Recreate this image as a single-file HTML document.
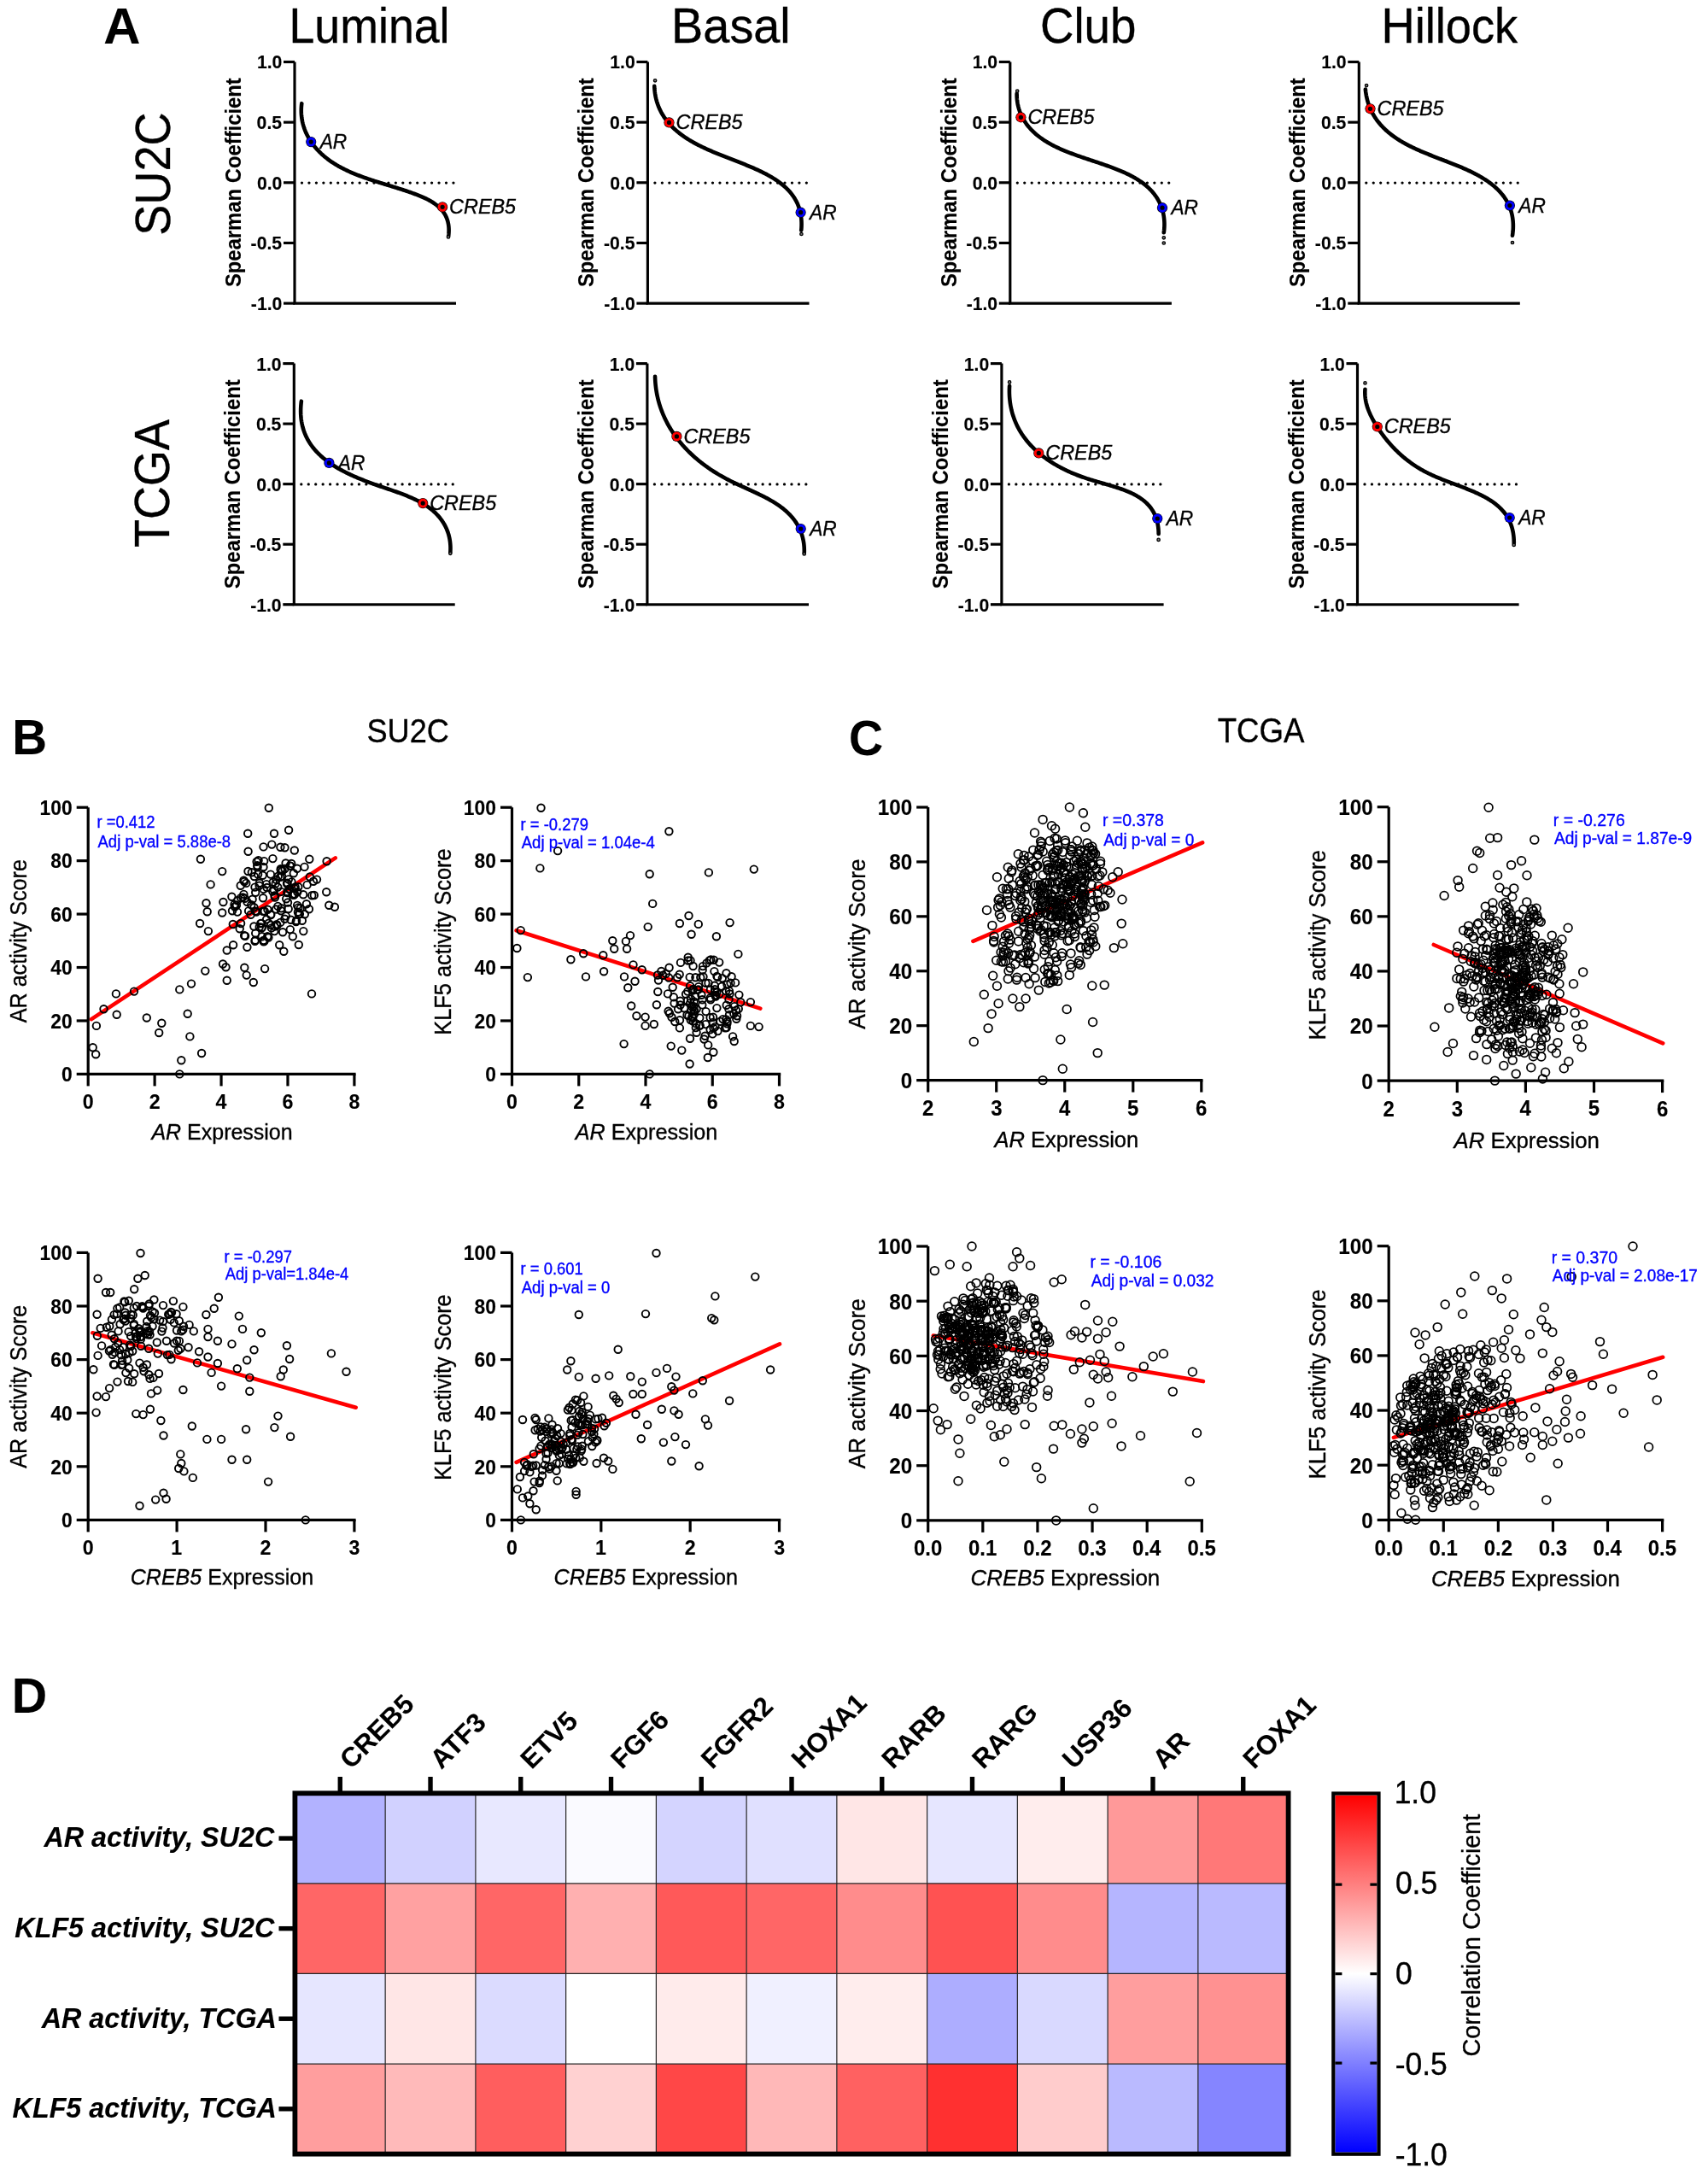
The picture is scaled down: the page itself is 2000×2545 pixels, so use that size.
<!DOCTYPE html><html><head><meta charset="utf-8"><style>html,body{margin:0;padding:0;background:#fff;}svg{display:block;font-family:"Liberation Sans",sans-serif;will-change:transform;}</style></head><body><svg width="2000" height="2545" viewBox="0 0 2000 2545"><rect width="2000" height="2545" fill="#fff"/><text transform="translate(121.30,50.60) scale(1.0185,1)" font-size="58.76" font-weight="bold" font-style="normal" fill="#000" stroke="#000" stroke-width="0.12">A</text>
<text transform="translate(338.47,49.70) scale(0.9494,1)" font-size="56.58" font-weight="normal" font-style="normal" fill="#000" stroke="#000" stroke-width="0.35">Luminal</text>
<text transform="translate(786.09,49.70) scale(0.9872,1)" font-size="56.58" font-weight="normal" font-style="normal" fill="#000" stroke="#000" stroke-width="0.35">Basal</text>
<text transform="translate(1217.96,49.70) scale(0.9669,1)" font-size="56.58" font-weight="normal" font-style="normal" fill="#000" stroke="#000" stroke-width="0.35">Club</text>
<text transform="translate(1617.52,49.70) scale(0.9588,1)" font-size="56.58" font-weight="normal" font-style="normal" fill="#000" stroke="#000" stroke-width="0.35">Hillock</text>
<text transform="translate(198.70,275.84) rotate(-90) scale(0.9315,1)" font-size="58.14" font-weight="normal" font-style="normal" fill="#000" stroke="#000" stroke-width="0.35">SU2C</text>
<text transform="translate(198.40,640.91) rotate(-90) scale(0.9397,1)" font-size="57.41" font-weight="normal" font-style="normal" fill="#000" stroke="#000" stroke-width="0.35">TCGA</text>
<path d="M345.00,72.50 V355.10 M343.30,355.10 H534.00" stroke="#000" stroke-width="3.15" fill="none"/>
<path d="M332.00,72.50 H345.00" stroke="#000" stroke-width="3.15"/>
<text transform="translate(300.88,80.49)" font-size="21.20" font-weight="bold" font-style="normal" fill="#000" stroke="#000" stroke-width="0.12">1.0</text>
<path d="M332.00,143.15 H345.00" stroke="#000" stroke-width="3.15"/>
<text transform="translate(300.62,151.14)" font-size="21.20" font-weight="bold" font-style="normal" fill="#000" stroke="#000" stroke-width="0.12">0.5</text>
<path d="M332.00,213.80 H345.00" stroke="#000" stroke-width="3.15"/>
<text transform="translate(300.88,221.79)" font-size="21.20" font-weight="bold" font-style="normal" fill="#000" stroke="#000" stroke-width="0.12">0.0</text>
<path d="M332.00,284.45 H345.00" stroke="#000" stroke-width="3.15"/>
<text transform="translate(293.57,292.44)" font-size="21.20" font-weight="bold" font-style="normal" fill="#000" stroke="#000" stroke-width="0.12">-0.5</text>
<path d="M332.00,355.10 H345.00" stroke="#000" stroke-width="3.15"/>
<text transform="translate(293.83,363.09)" font-size="21.20" font-weight="bold" font-style="normal" fill="#000" stroke="#000" stroke-width="0.12">-1.0</text>
<path d="M353.50,214.10 H532.00" stroke="#000" stroke-width="3.3" stroke-linecap="round" stroke-dasharray="0 8.45" fill="none"/>
<text transform="translate(282.00,336.12) rotate(-90) scale(0.9110,1)" font-size="26.16" font-weight="bold" font-style="normal" fill="#000" stroke="#000" stroke-width="0.12">Spearman Coefficient</text>
<path d="M353.29,121.18 L353.13,122.58 L352.99,123.98 L352.89,125.36 L352.82,126.74 L352.77,128.10 L352.76,129.46 L352.77,130.81 L352.81,132.15 L352.88,133.48 L352.98,134.79 L353.10,136.10 L353.25,137.40 L353.43,138.69 L353.63,139.98 L353.86,141.25 L354.11,142.51 L354.39,143.76 L354.69,145.00 L355.02,146.23 L355.37,147.45 L355.75,148.66 L356.14,149.86 L356.56,151.05 L357.01,152.22 L357.47,153.39 L357.96,154.55 L358.47,155.70 L359.00,156.83 L359.55,157.96 L360.12,159.07 L360.71,160.17 L361.32,161.27 L361.94,162.35 L362.59,163.42 L363.26,164.48 L363.94,165.52 L364.64,166.56 L365.36,167.58 L366.10,168.60 L366.85,169.60 L367.62,170.59 L368.41,171.57 L369.21,172.53 L370.03,173.49 L370.86,174.43 L371.70,175.36 L372.57,176.28 L373.44,177.18 L374.33,178.08 L375.23,178.96 L376.14,179.83 L377.07,180.68 L378.01,181.53 L378.96,182.36 L379.92,183.18 L380.89,183.99 L381.87,184.78 L382.87,185.56 L383.87,186.33 L384.88,187.09 L385.90,187.83 L386.94,188.56 L387.98,189.28 L389.03,189.99 L390.09,190.69 L391.16,191.37 L392.24,192.05 L393.33,192.71 L394.42,193.37 L395.52,194.01 L396.63,194.64 L397.75,195.27 L398.88,195.88 L400.01,196.49 L401.15,197.08 L402.30,197.67 L403.46,198.24 L404.62,198.81 L405.79,199.37 L406.96,199.92 L408.15,200.47 L409.33,201.00 L410.53,201.53 L411.72,202.05 L412.93,202.57 L414.14,203.08 L415.35,203.58 L416.57,204.07 L417.80,204.56 L419.03,205.04 L420.26,205.51 L421.50,205.98 L422.74,206.45 L423.99,206.90 L425.24,207.36 L426.49,207.81 L427.75,208.25 L429.01,208.69 L430.27,209.13 L431.54,209.56 L432.81,209.98 L434.08,210.41 L435.35,210.83 L436.63,211.25 L437.90,211.66 L439.18,212.07 L440.46,212.48 L441.75,212.89 L443.03,213.29 L444.31,213.69 L445.60,214.09 L446.89,214.49 L448.17,214.89 L449.46,215.29 L450.75,215.68 L452.04,216.08 L453.32,216.47 L454.61,216.86 L455.90,217.26 L457.18,217.65 L458.47,218.05 L459.75,218.44 L461.03,218.84 L462.32,219.23 L463.60,219.63 L464.87,220.03 L466.15,220.43 L467.42,220.83 L468.70,221.24 L469.97,221.64 L471.23,222.05 L472.50,222.46 L473.76,222.88 L475.02,223.30 L476.27,223.72 L477.52,224.14 L478.77,224.57 L480.01,225.00 L481.25,225.44 L482.49,225.88 L483.72,226.32 L484.94,226.77 L486.16,227.22 L487.38,227.68 L488.59,228.15 L489.79,228.62 L490.99,229.10 L492.18,229.58 L493.36,230.08 L494.53,230.58 L495.69,231.09 L496.83,231.61 L497.97,232.14 L499.10,232.68 L500.21,233.23 L501.31,233.80 L502.39,234.37 L503.46,234.96 L504.51,235.57 L505.54,236.18 L506.56,236.81 L507.56,237.46 L508.54,238.12 L509.50,238.79 L510.44,239.48 L511.36,240.19 L512.26,240.92 L513.13,241.66 L513.98,242.43 L514.81,243.21 L515.61,244.01 L516.39,244.83 L517.14,245.68 L517.87,246.54 L518.57,247.42 L519.23,248.33 L519.87,249.26 L520.48,250.21 L521.06,251.19 L521.61,252.19 L522.13,253.22 L522.61,254.27 L523.06,255.35 L523.48,256.45 L523.86,257.59 L524.21,258.74 L524.52,259.93 L524.79,261.15 L525.02,262.39 L525.22,263.66 L525.38,264.97 L525.50,266.30 L525.57,267.67 L525.61,269.07 L525.60,270.49 L525.55,271.96 L525.46,273.45 L525.32,274.98 L525.14,276.54" stroke="#000" stroke-width="4.6" fill="none" stroke-linecap="round"/>
<circle cx="364.20" cy="166.10" r="6.1" fill="#000"/><circle cx="364.20" cy="166.10" r="4.05" fill="none" stroke="#0000ff" stroke-width="2.9"/>
<circle cx="518.10" cy="242.30" r="6.1" fill="#000"/><circle cx="518.10" cy="242.30" r="4.05" fill="none" stroke="#ff0000" stroke-width="2.9"/>
<circle cx="525.00" cy="277.40" r="1.7" fill="#777" stroke="#000" stroke-width="1.3"/>
<text transform="translate(374.63,174.00) scale(0.9521,1)" font-size="23.84" font-weight="normal" font-style="italic" fill="#000" stroke="#000" stroke-width="0.35">AR</text>
<text transform="translate(526.11,250.20) scale(0.9823,1)" font-size="23.84" font-weight="normal" font-style="italic" fill="#000" stroke="#000" stroke-width="0.35">CREB5</text>
<path d="M758.40,72.50 V355.10 M756.70,355.10 H947.50" stroke="#000" stroke-width="3.15" fill="none"/>
<path d="M745.40,72.50 H758.40" stroke="#000" stroke-width="3.15"/>
<text transform="translate(714.28,80.49)" font-size="21.20" font-weight="bold" font-style="normal" fill="#000" stroke="#000" stroke-width="0.12">1.0</text>
<path d="M745.40,143.15 H758.40" stroke="#000" stroke-width="3.15"/>
<text transform="translate(714.01,151.14)" font-size="21.20" font-weight="bold" font-style="normal" fill="#000" stroke="#000" stroke-width="0.12">0.5</text>
<path d="M745.40,213.80 H758.40" stroke="#000" stroke-width="3.15"/>
<text transform="translate(714.28,221.79)" font-size="21.20" font-weight="bold" font-style="normal" fill="#000" stroke="#000" stroke-width="0.12">0.0</text>
<path d="M745.40,284.45 H758.40" stroke="#000" stroke-width="3.15"/>
<text transform="translate(706.97,292.44)" font-size="21.20" font-weight="bold" font-style="normal" fill="#000" stroke="#000" stroke-width="0.12">-0.5</text>
<path d="M745.40,355.10 H758.40" stroke="#000" stroke-width="3.15"/>
<text transform="translate(707.23,363.09)" font-size="21.20" font-weight="bold" font-style="normal" fill="#000" stroke="#000" stroke-width="0.12">-1.0</text>
<path d="M766.90,214.10 H945.50" stroke="#000" stroke-width="3.3" stroke-linecap="round" stroke-dasharray="0 8.45" fill="none"/>
<text transform="translate(695.40,336.12) rotate(-90) scale(0.9110,1)" font-size="26.16" font-weight="bold" font-style="normal" fill="#000" stroke="#000" stroke-width="0.12">Spearman Coefficient</text>
<path d="M766.25,100.87 L766.32,102.33 L766.40,103.77 L766.52,105.20 L766.66,106.61 L766.82,108.00 L767.01,109.38 L767.23,110.74 L767.47,112.08 L767.73,113.41 L768.02,114.73 L768.32,116.03 L768.66,117.31 L769.01,118.58 L769.39,119.83 L769.79,121.07 L770.21,122.29 L770.66,123.50 L771.12,124.69 L771.61,125.87 L772.11,127.04 L772.64,128.19 L773.19,129.32 L773.76,130.44 L774.34,131.55 L774.95,132.65 L775.57,133.73 L776.22,134.79 L776.88,135.85 L777.56,136.89 L778.26,137.92 L778.97,138.93 L779.70,139.93 L780.45,140.92 L781.22,141.89 L782.00,142.86 L782.80,143.81 L783.61,144.74 L784.44,145.67 L785.28,146.58 L786.14,147.48 L787.01,148.37 L787.90,149.25 L788.80,150.12 L789.71,150.97 L790.64,151.82 L791.58,152.65 L792.53,153.47 L793.50,154.28 L794.48,155.08 L795.47,155.86 L796.47,156.64 L797.48,157.41 L798.50,158.16 L799.54,158.91 L800.58,159.65 L801.64,160.37 L802.70,161.09 L803.77,161.79 L804.86,162.49 L805.95,163.18 L807.05,163.86 L808.16,164.53 L809.28,165.19 L810.41,165.84 L811.54,166.49 L812.68,167.13 L813.83,167.76 L814.99,168.38 L816.16,168.99 L817.33,169.60 L818.51,170.20 L819.70,170.80 L820.89,171.39 L822.09,171.97 L823.29,172.55 L824.50,173.12 L825.72,173.68 L826.94,174.24 L828.17,174.80 L829.40,175.35 L830.64,175.90 L831.88,176.44 L833.12,176.98 L834.37,177.51 L835.63,178.04 L836.88,178.57 L838.14,179.09 L839.41,179.61 L840.67,180.13 L841.94,180.64 L843.21,181.15 L844.49,181.66 L845.76,182.17 L847.04,182.67 L848.32,183.18 L849.60,183.68 L850.89,184.18 L852.17,184.68 L853.45,185.18 L854.74,185.68 L856.03,186.18 L857.31,186.68 L858.60,187.18 L859.88,187.68 L861.17,188.18 L862.45,188.68 L863.74,189.18 L865.02,189.69 L866.30,190.19 L867.58,190.70 L868.86,191.21 L870.13,191.72 L871.41,192.23 L872.68,192.74 L873.95,193.26 L875.21,193.78 L876.48,194.31 L877.74,194.83 L878.99,195.36 L880.24,195.90 L881.49,196.44 L882.74,196.98 L883.98,197.53 L885.21,198.08 L886.44,198.64 L887.67,199.20 L888.88,199.77 L890.10,200.34 L891.30,200.92 L892.50,201.50 L893.69,202.09 L894.87,202.69 L896.05,203.30 L897.22,203.91 L898.38,204.53 L899.52,205.15 L900.66,205.79 L901.79,206.43 L902.91,207.08 L904.02,207.74 L905.12,208.40 L906.21,209.08 L907.28,209.76 L908.35,210.46 L909.40,211.16 L910.44,211.87 L911.46,212.60 L912.48,213.33 L913.48,214.07 L914.46,214.83 L915.43,215.59 L916.39,216.37 L917.33,217.16 L918.25,217.96 L919.16,218.77 L920.05,219.59 L920.93,220.43 L921.79,221.28 L922.63,222.14 L923.46,223.01 L924.27,223.90 L925.06,224.80 L925.83,225.71 L926.58,226.64 L927.31,227.58 L928.02,228.54 L928.72,229.51 L929.39,230.50 L930.04,231.50 L930.67,232.52 L931.28,233.55 L931.87,234.59 L932.43,235.66 L932.98,236.74 L933.50,237.83 L933.99,238.95 L934.47,240.08 L934.92,241.22 L935.34,242.39 L935.74,243.57 L936.12,244.77 L936.47,245.99 L936.79,247.22 L937.09,248.47 L937.36,249.75 L937.61,251.04 L937.83,252.35 L938.02,253.68 L938.19,255.03 L938.32,256.40 L938.43,257.79 L938.51,259.20 L938.56,260.63 L938.58,262.08 L938.57,263.56 L938.53,265.05 L938.46,266.57 L938.35,268.10 L938.22,269.66" stroke="#000" stroke-width="4.6" fill="none" stroke-linecap="round"/>
<circle cx="783.50" cy="143.40" r="6.1" fill="#000"/><circle cx="783.50" cy="143.40" r="4.05" fill="none" stroke="#ff0000" stroke-width="2.9"/>
<circle cx="937.60" cy="248.70" r="6.1" fill="#000"/><circle cx="937.60" cy="248.70" r="4.05" fill="none" stroke="#0000ff" stroke-width="2.9"/>
<circle cx="767.10" cy="94.30" r="1.7" fill="#777" stroke="#000" stroke-width="1.3"/>
<circle cx="938.40" cy="274.00" r="1.7" fill="#777" stroke="#000" stroke-width="1.3"/>
<text transform="translate(791.51,151.30) scale(0.9823,1)" font-size="23.84" font-weight="normal" font-style="italic" fill="#000" stroke="#000" stroke-width="0.35">CREB5</text>
<text transform="translate(948.03,256.60) scale(0.9521,1)" font-size="23.84" font-weight="normal" font-style="italic" fill="#000" stroke="#000" stroke-width="0.35">AR</text>
<path d="M1182.80,72.50 V355.10 M1181.10,355.10 H1371.90" stroke="#000" stroke-width="3.15" fill="none"/>
<path d="M1169.80,72.50 H1182.80" stroke="#000" stroke-width="3.15"/>
<text transform="translate(1138.68,80.49)" font-size="21.20" font-weight="bold" font-style="normal" fill="#000" stroke="#000" stroke-width="0.12">1.0</text>
<path d="M1169.80,143.15 H1182.80" stroke="#000" stroke-width="3.15"/>
<text transform="translate(1138.41,151.14)" font-size="21.20" font-weight="bold" font-style="normal" fill="#000" stroke="#000" stroke-width="0.12">0.5</text>
<path d="M1169.80,213.80 H1182.80" stroke="#000" stroke-width="3.15"/>
<text transform="translate(1138.68,221.79)" font-size="21.20" font-weight="bold" font-style="normal" fill="#000" stroke="#000" stroke-width="0.12">0.0</text>
<path d="M1169.80,284.45 H1182.80" stroke="#000" stroke-width="3.15"/>
<text transform="translate(1131.37,292.44)" font-size="21.20" font-weight="bold" font-style="normal" fill="#000" stroke="#000" stroke-width="0.12">-0.5</text>
<path d="M1169.80,355.10 H1182.80" stroke="#000" stroke-width="3.15"/>
<text transform="translate(1131.63,363.09)" font-size="21.20" font-weight="bold" font-style="normal" fill="#000" stroke="#000" stroke-width="0.12">-1.0</text>
<path d="M1191.30,214.10 H1369.90" stroke="#000" stroke-width="3.3" stroke-linecap="round" stroke-dasharray="0 8.45" fill="none"/>
<text transform="translate(1119.80,336.12) rotate(-90) scale(0.9110,1)" font-size="26.16" font-weight="bold" font-style="normal" fill="#000" stroke="#000" stroke-width="0.12">Spearman Coefficient</text>
<path d="M1190.65,109.67 L1190.64,111.13 L1190.67,112.57 L1190.74,114.00 L1190.83,115.41 L1190.96,116.81 L1191.12,118.18 L1191.31,119.54 L1191.52,120.88 L1191.77,122.21 L1192.05,123.52 L1192.35,124.81 L1192.69,126.09 L1193.05,127.35 L1193.44,128.59 L1193.85,129.81 L1194.29,131.02 L1194.75,132.22 L1195.24,133.39 L1195.75,134.55 L1196.29,135.70 L1196.85,136.83 L1197.43,137.94 L1198.03,139.04 L1198.66,140.12 L1199.30,141.18 L1199.97,142.23 L1200.65,143.26 L1201.35,144.28 L1202.08,145.28 L1202.82,146.27 L1203.57,147.24 L1204.35,148.20 L1205.14,149.14 L1205.94,150.06 L1206.77,150.97 L1207.60,151.87 L1208.45,152.75 L1209.32,153.61 L1210.20,154.46 L1211.09,155.30 L1212.00,156.12 L1212.92,156.93 L1213.85,157.73 L1214.80,158.51 L1215.75,159.28 L1216.73,160.04 L1217.71,160.78 L1218.71,161.52 L1219.71,162.24 L1220.73,162.95 L1221.76,163.64 L1222.80,164.33 L1223.86,165.01 L1224.92,165.67 L1225.99,166.33 L1227.08,166.97 L1228.17,167.60 L1229.27,168.23 L1230.39,168.84 L1231.51,169.45 L1232.64,170.05 L1233.78,170.63 L1234.93,171.21 L1236.09,171.79 L1237.25,172.35 L1238.42,172.90 L1239.60,173.45 L1240.79,173.99 L1241.99,174.53 L1243.19,175.05 L1244.40,175.57 L1245.62,176.09 L1246.84,176.59 L1248.07,177.09 L1249.30,177.59 L1250.54,178.08 L1251.79,178.57 L1253.04,179.05 L1254.29,179.52 L1255.55,180.00 L1256.82,180.46 L1258.08,180.93 L1259.36,181.39 L1260.63,181.84 L1261.91,182.30 L1263.20,182.75 L1264.48,183.19 L1265.77,183.64 L1267.07,184.08 L1268.36,184.52 L1269.66,184.96 L1270.96,185.40 L1272.26,185.84 L1273.56,186.27 L1274.86,186.71 L1276.17,187.14 L1277.47,187.57 L1278.78,188.01 L1280.09,188.44 L1281.39,188.87 L1282.70,189.31 L1284.01,189.75 L1285.31,190.18 L1286.62,190.62 L1287.92,191.06 L1289.22,191.50 L1290.53,191.95 L1291.82,192.39 L1293.12,192.84 L1294.42,193.30 L1295.71,193.75 L1297.00,194.21 L1298.29,194.67 L1299.57,195.14 L1300.85,195.61 L1302.13,196.08 L1303.40,196.56 L1304.67,197.04 L1305.93,197.53 L1307.18,198.02 L1308.43,198.52 L1309.68,199.03 L1310.92,199.54 L1312.15,200.06 L1313.38,200.58 L1314.59,201.11 L1315.80,201.65 L1317.01,202.19 L1318.20,202.74 L1319.39,203.30 L1320.57,203.87 L1321.74,204.44 L1322.90,205.03 L1324.05,205.62 L1325.19,206.22 L1326.31,206.83 L1327.43,207.45 L1328.54,208.08 L1329.64,208.72 L1330.73,209.36 L1331.80,210.02 L1332.86,210.69 L1333.91,211.37 L1334.95,212.06 L1335.97,212.76 L1336.98,213.48 L1337.98,214.20 L1338.96,214.94 L1339.93,215.69 L1340.89,216.45 L1341.83,217.22 L1342.75,218.01 L1343.66,218.81 L1344.55,219.62 L1345.43,220.45 L1346.29,221.29 L1347.14,222.15 L1347.96,223.02 L1348.77,223.90 L1349.57,224.80 L1350.34,225.71 L1351.10,226.64 L1351.84,227.58 L1352.55,228.54 L1353.25,229.52 L1353.94,230.51 L1354.60,231.52 L1355.24,232.54 L1355.86,233.58 L1356.45,234.64 L1357.03,235.71 L1357.59,236.80 L1358.12,237.90 L1358.63,239.02 L1359.12,240.16 L1359.58,241.31 L1360.02,242.48 L1360.43,243.67 L1360.82,244.87 L1361.19,246.09 L1361.53,247.32 L1361.84,248.57 L1362.13,249.83 L1362.39,251.11 L1362.62,252.41 L1362.83,253.72 L1363.00,255.05 L1363.15,256.40 L1363.27,257.76 L1363.36,259.14 L1363.43,260.53 L1363.46,261.94 L1363.46,263.37 L1363.43,264.81 L1363.37,266.26 L1363.27,267.74 L1363.15,269.23 L1362.99,270.73 L1362.80,272.25" stroke="#000" stroke-width="4.6" fill="none" stroke-linecap="round"/>
<circle cx="1195.40" cy="137.30" r="6.1" fill="#000"/><circle cx="1195.40" cy="137.30" r="4.05" fill="none" stroke="#ff0000" stroke-width="2.9"/>
<circle cx="1361.00" cy="243.20" r="6.1" fill="#000"/><circle cx="1361.00" cy="243.20" r="4.05" fill="none" stroke="#0000ff" stroke-width="2.9"/>
<circle cx="1191.20" cy="106.60" r="1.7" fill="#777" stroke="#000" stroke-width="1.3"/>
<circle cx="1362.80" cy="278.30" r="1.7" fill="#777" stroke="#000" stroke-width="1.3"/>
<circle cx="1362.80" cy="284.50" r="1.7" fill="#777" stroke="#000" stroke-width="1.3"/>
<text transform="translate(1203.41,145.20) scale(0.9823,1)" font-size="23.84" font-weight="normal" font-style="italic" fill="#000" stroke="#000" stroke-width="0.35">CREB5</text>
<text transform="translate(1371.43,251.10) scale(0.9521,1)" font-size="23.84" font-weight="normal" font-style="italic" fill="#000" stroke="#000" stroke-width="0.35">AR</text>
<path d="M1591.30,72.50 V355.10 M1589.60,355.10 H1779.80" stroke="#000" stroke-width="3.15" fill="none"/>
<path d="M1578.30,72.50 H1591.30" stroke="#000" stroke-width="3.15"/>
<text transform="translate(1547.18,80.49)" font-size="21.20" font-weight="bold" font-style="normal" fill="#000" stroke="#000" stroke-width="0.12">1.0</text>
<path d="M1578.30,143.15 H1591.30" stroke="#000" stroke-width="3.15"/>
<text transform="translate(1546.91,151.14)" font-size="21.20" font-weight="bold" font-style="normal" fill="#000" stroke="#000" stroke-width="0.12">0.5</text>
<path d="M1578.30,213.80 H1591.30" stroke="#000" stroke-width="3.15"/>
<text transform="translate(1547.18,221.79)" font-size="21.20" font-weight="bold" font-style="normal" fill="#000" stroke="#000" stroke-width="0.12">0.0</text>
<path d="M1578.30,284.45 H1591.30" stroke="#000" stroke-width="3.15"/>
<text transform="translate(1539.87,292.44)" font-size="21.20" font-weight="bold" font-style="normal" fill="#000" stroke="#000" stroke-width="0.12">-0.5</text>
<path d="M1578.30,355.10 H1591.30" stroke="#000" stroke-width="3.15"/>
<text transform="translate(1540.13,363.09)" font-size="21.20" font-weight="bold" font-style="normal" fill="#000" stroke="#000" stroke-width="0.12">-1.0</text>
<path d="M1599.80,214.10 H1777.80" stroke="#000" stroke-width="3.3" stroke-linecap="round" stroke-dasharray="0 8.45" fill="none"/>
<text transform="translate(1528.30,336.12) rotate(-90) scale(0.9110,1)" font-size="26.16" font-weight="bold" font-style="normal" fill="#000" stroke="#000" stroke-width="0.12">Spearman Coefficient</text>
<path d="M1598.86,104.46 L1599.01,105.92 L1599.18,107.37 L1599.38,108.79 L1599.60,110.21 L1599.84,111.60 L1600.11,112.98 L1600.40,114.34 L1600.71,115.68 L1601.05,117.01 L1601.41,118.32 L1601.79,119.61 L1602.19,120.89 L1602.61,122.16 L1603.05,123.40 L1603.52,124.63 L1604.00,125.85 L1604.51,127.05 L1605.03,128.23 L1605.58,129.40 L1606.14,130.56 L1606.73,131.70 L1607.33,132.82 L1607.95,133.93 L1608.59,135.03 L1609.25,136.11 L1609.93,137.17 L1610.62,138.23 L1611.33,139.27 L1612.06,140.29 L1612.81,141.30 L1613.57,142.30 L1614.35,143.29 L1615.14,144.26 L1615.95,145.22 L1616.78,146.17 L1617.62,147.10 L1618.47,148.02 L1619.34,148.93 L1620.23,149.82 L1621.13,150.71 L1622.04,151.58 L1622.97,152.44 L1623.91,153.29 L1624.86,154.12 L1625.83,154.95 L1626.81,155.76 L1627.80,156.56 L1628.81,157.35 L1629.82,158.13 L1630.85,158.90 L1631.89,159.66 L1632.94,160.41 L1634.00,161.15 L1635.07,161.87 L1636.15,162.59 L1637.24,163.30 L1638.34,164.00 L1639.45,164.68 L1640.57,165.36 L1641.70,166.03 L1642.83,166.69 L1643.98,167.34 L1645.13,167.99 L1646.30,168.62 L1647.47,169.25 L1648.64,169.87 L1649.83,170.48 L1651.02,171.08 L1652.22,171.68 L1653.42,172.27 L1654.64,172.85 L1655.85,173.43 L1657.08,174.00 L1658.31,174.57 L1659.54,175.13 L1660.78,175.68 L1662.03,176.23 L1663.28,176.78 L1664.53,177.32 L1665.79,177.86 L1667.05,178.39 L1668.32,178.92 L1669.59,179.44 L1670.86,179.96 L1672.14,180.48 L1673.42,180.99 L1674.70,181.50 L1675.98,182.01 L1677.27,182.52 L1678.56,183.02 L1679.85,183.53 L1681.14,184.03 L1682.43,184.53 L1683.72,185.03 L1685.02,185.53 L1686.31,186.03 L1687.61,186.52 L1688.90,187.02 L1690.20,187.52 L1691.49,188.02 L1692.79,188.52 L1694.08,189.01 L1695.37,189.52 L1696.66,190.02 L1697.95,190.52 L1699.23,191.03 L1700.52,191.53 L1701.80,192.04 L1703.08,192.56 L1704.36,193.07 L1705.63,193.59 L1706.90,194.11 L1708.17,194.63 L1709.43,195.16 L1710.69,195.70 L1711.94,196.23 L1713.19,196.77 L1714.44,197.32 L1715.68,197.87 L1716.92,198.42 L1718.15,198.99 L1719.37,199.55 L1720.59,200.13 L1721.80,200.70 L1723.01,201.29 L1724.21,201.88 L1725.40,202.48 L1726.58,203.09 L1727.76,203.70 L1728.93,204.32 L1730.10,204.95 L1731.25,205.58 L1732.40,206.23 L1733.53,206.88 L1734.66,207.54 L1735.78,208.21 L1736.89,208.89 L1737.98,209.58 L1739.07,210.27 L1740.15,210.98 L1741.21,211.70 L1742.26,212.42 L1743.30,213.16 L1744.33,213.90 L1745.35,214.66 L1746.35,215.43 L1747.34,216.20 L1748.31,216.99 L1749.27,217.79 L1750.22,218.60 L1751.15,219.42 L1752.06,220.25 L1752.96,221.10 L1753.84,221.95 L1754.71,222.82 L1755.56,223.70 L1756.39,224.60 L1757.20,225.50 L1758.00,226.42 L1758.78,227.35 L1759.54,228.30 L1760.28,229.26 L1761.00,230.23 L1761.70,231.21 L1762.38,232.21 L1763.04,233.23 L1763.68,234.26 L1764.30,235.30 L1764.90,236.36 L1765.47,237.43 L1766.03,238.51 L1766.56,239.62 L1767.06,240.73 L1767.55,241.87 L1768.01,243.02 L1768.44,244.18 L1768.86,245.36 L1769.24,246.56 L1769.60,247.77 L1769.94,249.00 L1770.25,250.25 L1770.54,251.51 L1770.79,252.79 L1771.02,254.09 L1771.23,255.41 L1771.40,256.74 L1771.55,258.09 L1771.67,259.46 L1771.76,260.85 L1771.82,262.25 L1771.85,263.68 L1771.85,265.12 L1771.83,266.58 L1771.77,268.07 L1771.68,269.57 L1771.56,271.09 L1771.40,272.63 L1771.22,274.19 L1771.00,275.77" stroke="#000" stroke-width="4.6" fill="none" stroke-linecap="round"/>
<circle cx="1604.50" cy="127.30" r="6.1" fill="#000"/><circle cx="1604.50" cy="127.30" r="4.05" fill="none" stroke="#ff0000" stroke-width="2.9"/>
<circle cx="1767.90" cy="240.60" r="6.1" fill="#000"/><circle cx="1767.90" cy="240.60" r="4.05" fill="none" stroke="#0000ff" stroke-width="2.9"/>
<circle cx="1600.10" cy="100.10" r="1.7" fill="#777" stroke="#000" stroke-width="1.3"/>
<circle cx="1771.00" cy="284.00" r="1.7" fill="#777" stroke="#000" stroke-width="1.3"/>
<text transform="translate(1612.51,135.20) scale(0.9823,1)" font-size="23.84" font-weight="normal" font-style="italic" fill="#000" stroke="#000" stroke-width="0.35">CREB5</text>
<text transform="translate(1778.33,248.50) scale(0.9521,1)" font-size="23.84" font-weight="normal" font-style="italic" fill="#000" stroke="#000" stroke-width="0.35">AR</text>
<path d="M344.30,425.60 V707.70 M342.60,707.70 H532.70" stroke="#000" stroke-width="3.15" fill="none"/>
<path d="M331.30,425.60 H344.30" stroke="#000" stroke-width="3.15"/>
<text transform="translate(300.18,433.59)" font-size="21.20" font-weight="bold" font-style="normal" fill="#000" stroke="#000" stroke-width="0.12">1.0</text>
<path d="M331.30,496.12 H344.30" stroke="#000" stroke-width="3.15"/>
<text transform="translate(299.92,504.12)" font-size="21.20" font-weight="bold" font-style="normal" fill="#000" stroke="#000" stroke-width="0.12">0.5</text>
<path d="M331.30,566.65 H344.30" stroke="#000" stroke-width="3.15"/>
<text transform="translate(300.18,574.64)" font-size="21.20" font-weight="bold" font-style="normal" fill="#000" stroke="#000" stroke-width="0.12">0.0</text>
<path d="M331.30,637.18 H344.30" stroke="#000" stroke-width="3.15"/>
<text transform="translate(292.87,645.17)" font-size="21.20" font-weight="bold" font-style="normal" fill="#000" stroke="#000" stroke-width="0.12">-0.5</text>
<path d="M331.30,707.70 H344.30" stroke="#000" stroke-width="3.15"/>
<text transform="translate(293.13,715.69)" font-size="21.20" font-weight="bold" font-style="normal" fill="#000" stroke="#000" stroke-width="0.12">-1.0</text>
<path d="M352.80,566.95 H530.70" stroke="#000" stroke-width="3.3" stroke-linecap="round" stroke-dasharray="0 8.45" fill="none"/>
<text transform="translate(281.30,689.22) rotate(-90) scale(0.9110,1)" font-size="26.16" font-weight="bold" font-style="normal" fill="#000" stroke="#000" stroke-width="0.12">Spearman Coefficient</text>
<path d="M352.88,469.66 L352.68,471.29 L352.52,472.90 L352.38,474.49 L352.28,476.06 L352.20,477.62 L352.15,479.16 L352.12,480.68 L352.13,482.19 L352.16,483.67 L352.21,485.14 L352.30,486.60 L352.41,488.03 L352.55,489.45 L352.71,490.86 L352.90,492.24 L353.11,493.61 L353.35,494.97 L353.61,496.31 L353.90,497.63 L354.21,498.94 L354.54,500.23 L354.90,501.50 L355.29,502.77 L355.69,504.01 L356.12,505.24 L356.57,506.46 L357.04,507.66 L357.54,508.85 L358.05,510.02 L358.59,511.18 L359.15,512.32 L359.73,513.45 L360.33,514.57 L360.95,515.67 L361.59,516.76 L362.26,517.84 L362.94,518.90 L363.64,519.95 L364.35,520.99 L365.09,522.01 L365.85,523.02 L366.62,524.02 L367.41,525.00 L368.22,525.98 L369.05,526.94 L369.89,527.89 L370.75,528.82 L371.63,529.75 L372.53,530.66 L373.43,531.56 L374.36,532.46 L375.30,533.34 L376.26,534.20 L377.23,535.06 L378.21,535.91 L379.21,536.74 L380.23,537.57 L381.26,538.39 L382.30,539.19 L383.35,539.98 L384.42,540.77 L385.50,541.54 L386.59,542.31 L387.70,543.07 L388.82,543.81 L389.94,544.55 L391.08,545.28 L392.24,546.00 L393.40,546.71 L394.57,547.41 L395.75,548.10 L396.95,548.79 L398.15,549.46 L399.36,550.13 L400.58,550.79 L401.82,551.44 L403.05,552.09 L404.30,552.72 L405.56,553.35 L406.82,553.97 L408.09,554.59 L409.37,555.20 L410.66,555.80 L411.95,556.39 L413.25,556.98 L414.55,557.56 L415.86,558.13 L417.18,558.70 L418.50,559.26 L419.83,559.82 L421.16,560.37 L422.50,560.92 L423.84,561.45 L425.19,561.99 L426.54,562.52 L427.89,563.04 L429.24,563.56 L430.60,564.07 L431.97,564.58 L433.33,565.09 L434.70,565.59 L436.06,566.08 L437.43,566.57 L438.80,567.06 L440.18,567.54 L441.55,568.02 L442.92,568.50 L444.30,568.98 L445.67,569.45 L447.04,569.92 L448.42,570.38 L449.79,570.85 L451.16,571.32 L452.52,571.78 L453.89,572.25 L455.25,572.71 L456.61,573.18 L457.97,573.64 L459.33,574.11 L460.68,574.58 L462.02,575.05 L463.37,575.52 L464.71,576.00 L466.04,576.48 L467.37,576.96 L468.69,577.45 L470.01,577.94 L471.32,578.44 L472.62,578.94 L473.92,579.44 L475.21,579.95 L476.49,580.47 L477.77,581.00 L479.04,581.53 L480.30,582.07 L481.55,582.61 L482.79,583.17 L484.02,583.73 L485.24,584.30 L486.46,584.88 L487.66,585.47 L488.85,586.07 L490.03,586.67 L491.20,587.29 L492.36,587.93 L493.51,588.57 L494.65,589.22 L495.77,589.89 L496.88,590.56 L497.98,591.25 L499.06,591.96 L500.13,592.68 L501.18,593.41 L502.23,594.15 L503.25,594.91 L504.27,595.69 L505.26,596.48 L506.24,597.29 L507.21,598.11 L508.16,598.95 L509.09,599.80 L510.01,600.67 L510.91,601.57 L511.79,602.47 L512.65,603.40 L513.50,604.35 L514.33,605.31 L515.13,606.29 L515.92,607.30 L516.69,608.32 L517.44,609.36 L518.16,610.41 L518.86,611.49 L519.54,612.59 L520.20,613.71 L520.83,614.84 L521.44,616.00 L522.02,617.17 L522.57,618.37 L523.10,619.58 L523.61,620.82 L524.08,622.07 L524.53,623.35 L524.94,624.64 L525.33,625.96 L525.69,627.29 L526.02,628.65 L526.31,630.03 L526.58,631.42 L526.81,632.84 L527.01,634.28 L527.17,635.74 L527.30,637.22 L527.40,638.72 L527.46,640.25 L527.49,641.79 L527.47,643.35 L527.42,644.94 L527.34,646.55" stroke="#000" stroke-width="4.6" fill="none" stroke-linecap="round"/>
<circle cx="385.40" cy="541.90" r="6.1" fill="#000"/><circle cx="385.40" cy="541.90" r="4.05" fill="none" stroke="#0000ff" stroke-width="2.9"/>
<circle cx="495.20" cy="589.10" r="6.1" fill="#000"/><circle cx="495.20" cy="589.10" r="4.05" fill="none" stroke="#ff0000" stroke-width="2.9"/>
<circle cx="527.30" cy="647.80" r="1.7" fill="#777" stroke="#000" stroke-width="1.3"/>
<text transform="translate(395.83,549.80) scale(0.9521,1)" font-size="23.84" font-weight="normal" font-style="italic" fill="#000" stroke="#000" stroke-width="0.35">AR</text>
<text transform="translate(503.21,597.00) scale(0.9823,1)" font-size="23.84" font-weight="normal" font-style="italic" fill="#000" stroke="#000" stroke-width="0.35">CREB5</text>
<path d="M757.90,425.60 V707.70 M756.20,707.70 H947.00" stroke="#000" stroke-width="3.15" fill="none"/>
<path d="M744.90,425.60 H757.90" stroke="#000" stroke-width="3.15"/>
<text transform="translate(713.78,433.59)" font-size="21.20" font-weight="bold" font-style="normal" fill="#000" stroke="#000" stroke-width="0.12">1.0</text>
<path d="M744.90,496.12 H757.90" stroke="#000" stroke-width="3.15"/>
<text transform="translate(713.51,504.12)" font-size="21.20" font-weight="bold" font-style="normal" fill="#000" stroke="#000" stroke-width="0.12">0.5</text>
<path d="M744.90,566.65 H757.90" stroke="#000" stroke-width="3.15"/>
<text transform="translate(713.78,574.64)" font-size="21.20" font-weight="bold" font-style="normal" fill="#000" stroke="#000" stroke-width="0.12">0.0</text>
<path d="M744.90,637.18 H757.90" stroke="#000" stroke-width="3.15"/>
<text transform="translate(706.47,645.17)" font-size="21.20" font-weight="bold" font-style="normal" fill="#000" stroke="#000" stroke-width="0.12">-0.5</text>
<path d="M744.90,707.70 H757.90" stroke="#000" stroke-width="3.15"/>
<text transform="translate(706.73,715.69)" font-size="21.20" font-weight="bold" font-style="normal" fill="#000" stroke="#000" stroke-width="0.12">-1.0</text>
<path d="M766.40,566.95 H945.00" stroke="#000" stroke-width="3.3" stroke-linecap="round" stroke-dasharray="0 8.45" fill="none"/>
<text transform="translate(694.90,689.22) rotate(-90) scale(0.9110,1)" font-size="26.16" font-weight="bold" font-style="normal" fill="#000" stroke="#000" stroke-width="0.12">Spearman Coefficient</text>
<path d="M767.05,440.78 L767.09,442.31 L767.15,443.83 L767.23,445.34 L767.32,446.85 L767.44,448.35 L767.57,449.84 L767.72,451.33 L767.89,452.81 L768.07,454.28 L768.27,455.74 L768.49,457.20 L768.73,458.65 L768.98,460.10 L769.25,461.53 L769.54,462.96 L769.85,464.38 L770.17,465.80 L770.51,467.21 L770.86,468.61 L771.23,470.00 L771.62,471.39 L772.02,472.77 L772.44,474.14 L772.87,475.50 L773.32,476.86 L773.79,478.21 L774.27,479.55 L774.76,480.88 L775.28,482.21 L775.80,483.53 L776.34,484.84 L776.90,486.15 L777.47,487.45 L778.06,488.74 L778.66,490.02 L779.27,491.29 L779.90,492.56 L780.54,493.82 L781.20,495.07 L781.87,496.32 L782.55,497.55 L783.25,498.78 L783.96,500.00 L784.69,501.22 L785.43,502.42 L786.18,503.62 L786.94,504.81 L787.72,506.00 L788.51,507.17 L789.31,508.34 L790.13,509.50 L790.96,510.65 L791.80,511.79 L792.65,512.93 L793.52,514.06 L794.39,515.18 L795.28,516.29 L796.18,517.40 L797.09,518.49 L798.02,519.58 L798.95,520.66 L799.90,521.73 L800.85,522.80 L801.82,523.85 L802.80,524.90 L803.79,525.94 L804.79,526.98 L805.80,528.00 L806.82,529.02 L807.86,530.02 L808.90,531.02 L809.95,532.01 L811.01,533.00 L812.08,533.97 L813.17,534.94 L814.26,535.90 L815.36,536.85 L816.47,537.79 L817.59,538.72 L818.71,539.65 L819.85,540.56 L821.00,541.47 L822.15,542.37 L823.32,543.26 L824.49,544.15 L825.67,545.02 L826.86,545.89 L828.05,546.74 L829.26,547.59 L830.47,548.43 L831.69,549.27 L832.92,550.09 L834.16,550.90 L835.40,551.71 L836.65,552.51 L837.91,553.30 L839.17,554.08 L840.45,554.85 L841.72,555.61 L843.01,556.37 L844.30,557.11 L845.60,557.85 L846.90,558.58 L848.22,559.30 L849.53,560.01 L850.86,560.71 L852.19,561.40 L853.52,562.09 L854.86,562.76 L856.20,563.44 L857.55,564.10 L858.90,564.76 L860.25,565.41 L861.61,566.06 L862.97,566.70 L864.33,567.34 L865.69,567.97 L867.05,568.60 L868.42,569.23 L869.78,569.85 L871.15,570.47 L872.51,571.10 L873.87,571.71 L875.23,572.33 L876.59,572.95 L877.95,573.57 L879.30,574.19 L880.66,574.81 L882.00,575.43 L883.35,576.05 L884.69,576.68 L886.02,577.30 L887.35,577.94 L888.68,578.57 L890.00,579.21 L891.31,579.85 L892.61,580.50 L893.91,581.15 L895.20,581.81 L896.48,582.48 L897.76,583.15 L899.02,583.83 L900.28,584.52 L901.52,585.21 L902.76,585.92 L903.99,586.63 L905.20,587.35 L906.40,588.09 L907.60,588.83 L908.78,589.58 L909.94,590.35 L911.10,591.12 L912.24,591.91 L913.36,592.71 L914.48,593.52 L915.58,594.35 L916.66,595.19 L917.73,596.05 L918.78,596.92 L919.81,597.80 L920.83,598.70 L921.83,599.62 L922.82,600.55 L923.78,601.51 L924.73,602.47 L925.66,603.46 L926.57,604.46 L927.46,605.49 L928.33,606.53 L929.18,607.59 L930.01,608.67 L930.81,609.77 L931.60,610.89 L932.35,612.03 L933.09,613.19 L933.80,614.37 L934.48,615.57 L935.14,616.79 L935.77,618.03 L936.38,619.29 L936.95,620.58 L937.50,621.88 L938.02,623.21 L938.50,624.56 L938.96,625.93 L939.38,627.32 L939.77,628.74 L940.13,630.18 L940.46,631.64 L940.75,633.12 L941.01,634.63 L941.23,636.16 L941.42,637.72 L941.56,639.30 L941.68,640.90 L941.75,642.53 L941.78,644.18 L941.78,645.85 L941.73,647.55" stroke="#000" stroke-width="4.6" fill="none" stroke-linecap="round"/>
<circle cx="792.40" cy="510.90" r="6.1" fill="#000"/><circle cx="792.40" cy="510.90" r="4.05" fill="none" stroke="#ff0000" stroke-width="2.9"/>
<circle cx="937.70" cy="619.00" r="6.1" fill="#000"/><circle cx="937.70" cy="619.00" r="4.05" fill="none" stroke="#0000ff" stroke-width="2.9"/>
<circle cx="941.70" cy="648.40" r="1.7" fill="#777" stroke="#000" stroke-width="1.3"/>
<text transform="translate(800.41,518.80) scale(0.9823,1)" font-size="23.84" font-weight="normal" font-style="italic" fill="#000" stroke="#000" stroke-width="0.35">CREB5</text>
<text transform="translate(948.13,626.90) scale(0.9521,1)" font-size="23.84" font-weight="normal" font-style="italic" fill="#000" stroke="#000" stroke-width="0.35">AR</text>
<path d="M1172.90,425.60 V707.70 M1171.20,707.70 H1362.60" stroke="#000" stroke-width="3.15" fill="none"/>
<path d="M1159.90,425.60 H1172.90" stroke="#000" stroke-width="3.15"/>
<text transform="translate(1128.78,433.59)" font-size="21.20" font-weight="bold" font-style="normal" fill="#000" stroke="#000" stroke-width="0.12">1.0</text>
<path d="M1159.90,496.12 H1172.90" stroke="#000" stroke-width="3.15"/>
<text transform="translate(1128.52,504.12)" font-size="21.20" font-weight="bold" font-style="normal" fill="#000" stroke="#000" stroke-width="0.12">0.5</text>
<path d="M1159.90,566.65 H1172.90" stroke="#000" stroke-width="3.15"/>
<text transform="translate(1128.78,574.64)" font-size="21.20" font-weight="bold" font-style="normal" fill="#000" stroke="#000" stroke-width="0.12">0.0</text>
<path d="M1159.90,637.18 H1172.90" stroke="#000" stroke-width="3.15"/>
<text transform="translate(1121.47,645.17)" font-size="21.20" font-weight="bold" font-style="normal" fill="#000" stroke="#000" stroke-width="0.12">-0.5</text>
<path d="M1159.90,707.70 H1172.90" stroke="#000" stroke-width="3.15"/>
<text transform="translate(1121.73,715.69)" font-size="21.20" font-weight="bold" font-style="normal" fill="#000" stroke="#000" stroke-width="0.12">-1.0</text>
<path d="M1181.40,566.95 H1360.60" stroke="#000" stroke-width="3.3" stroke-linecap="round" stroke-dasharray="0 8.45" fill="none"/>
<text transform="translate(1109.90,689.22) rotate(-90) scale(0.9110,1)" font-size="26.16" font-weight="bold" font-style="normal" fill="#000" stroke="#000" stroke-width="0.12">Spearman Coefficient</text>
<path d="M1182.09,451.76 L1182.01,453.28 L1181.96,454.79 L1181.92,456.29 L1181.91,457.78 L1181.92,459.26 L1181.95,460.72 L1182.00,462.18 L1182.07,463.63 L1182.16,465.06 L1182.28,466.49 L1182.41,467.90 L1182.56,469.30 L1182.73,470.69 L1182.92,472.08 L1183.13,473.45 L1183.36,474.81 L1183.61,476.16 L1183.88,477.50 L1184.17,478.83 L1184.47,480.15 L1184.80,481.46 L1185.14,482.76 L1185.50,484.04 L1185.88,485.32 L1186.27,486.59 L1186.69,487.85 L1187.12,489.09 L1187.57,490.33 L1188.04,491.55 L1188.52,492.77 L1189.02,493.98 L1189.54,495.17 L1190.07,496.36 L1190.62,497.53 L1191.19,498.70 L1191.77,499.85 L1192.37,501.00 L1192.99,502.13 L1193.62,503.26 L1194.27,504.38 L1194.93,505.48 L1195.60,506.58 L1196.30,507.66 L1197.00,508.74 L1197.73,509.80 L1198.46,510.86 L1199.22,511.90 L1199.98,512.94 L1200.76,513.97 L1201.55,514.98 L1202.36,515.99 L1203.18,516.99 L1204.02,517.97 L1204.87,518.95 L1205.73,519.92 L1206.60,520.88 L1207.49,521.83 L1208.39,522.77 L1209.31,523.70 L1210.23,524.62 L1211.17,525.53 L1212.12,526.43 L1213.08,527.32 L1214.06,528.20 L1215.04,529.08 L1216.04,529.94 L1217.05,530.79 L1218.07,531.64 L1219.10,532.47 L1220.14,533.30 L1221.19,534.12 L1222.26,534.92 L1223.33,535.72 L1224.42,536.51 L1225.51,537.29 L1226.62,538.06 L1227.73,538.82 L1228.85,539.57 L1229.99,540.32 L1231.13,541.05 L1232.28,541.78 L1233.44,542.49 L1234.62,543.20 L1235.79,543.90 L1236.98,544.59 L1238.18,545.27 L1239.38,545.94 L1240.60,546.60 L1241.82,547.25 L1243.04,547.90 L1244.28,548.53 L1245.52,549.16 L1246.78,549.78 L1248.03,550.39 L1249.30,550.99 L1250.57,551.58 L1251.85,552.16 L1253.14,552.73 L1254.43,553.30 L1255.73,553.86 L1257.03,554.40 L1258.34,554.94 L1259.66,555.47 L1260.98,556.00 L1262.31,556.51 L1263.64,557.02 L1264.98,557.51 L1266.32,558.00 L1267.67,558.48 L1269.02,558.95 L1270.38,559.41 L1271.74,559.87 L1273.11,560.32 L1274.48,560.76 L1275.85,561.19 L1277.22,561.62 L1278.60,562.04 L1279.98,562.46 L1281.36,562.87 L1282.74,563.28 L1284.12,563.69 L1285.50,564.09 L1286.88,564.49 L1288.25,564.89 L1289.63,565.28 L1291.01,565.68 L1292.38,566.07 L1293.75,566.47 L1295.12,566.86 L1296.48,567.26 L1297.84,567.65 L1299.19,568.05 L1300.54,568.45 L1301.89,568.86 L1303.23,569.27 L1304.56,569.68 L1305.89,570.09 L1307.20,570.51 L1308.52,570.94 L1309.82,571.37 L1311.11,571.81 L1312.40,572.26 L1313.68,572.71 L1314.94,573.17 L1316.20,573.64 L1317.45,574.11 L1318.68,574.60 L1319.91,575.10 L1321.12,575.60 L1322.32,576.12 L1323.51,576.65 L1324.68,577.19 L1325.84,577.74 L1326.99,578.31 L1328.12,578.89 L1329.24,579.48 L1330.34,580.09 L1331.43,580.71 L1332.50,581.35 L1333.55,582.00 L1334.59,582.67 L1335.61,583.35 L1336.61,584.05 L1337.59,584.77 L1338.56,585.51 L1339.50,586.27 L1340.43,587.05 L1341.33,587.84 L1342.22,588.66 L1343.08,589.50 L1343.92,590.35 L1344.74,591.23 L1345.54,592.14 L1346.32,593.06 L1347.07,594.01 L1347.80,594.98 L1348.50,595.97 L1349.18,596.99 L1349.83,598.04 L1350.46,599.11 L1351.06,600.20 L1351.64,601.33 L1352.18,602.48 L1352.70,603.65 L1353.19,604.86 L1353.64,606.09 L1354.07,607.35 L1354.47,608.64 L1354.84,609.96 L1355.17,611.32 L1355.47,612.70 L1355.74,614.11 L1355.98,615.56 L1356.18,617.03 L1356.35,618.54 L1356.48,620.08 L1356.58,621.66 L1356.64,623.27 L1356.66,624.91" stroke="#000" stroke-width="4.6" fill="none" stroke-linecap="round"/>
<circle cx="1216.30" cy="530.40" r="6.1" fill="#000"/><circle cx="1216.30" cy="530.40" r="4.05" fill="none" stroke="#ff0000" stroke-width="2.9"/>
<circle cx="1355.30" cy="607.00" r="6.1" fill="#000"/><circle cx="1355.30" cy="607.00" r="4.05" fill="none" stroke="#0000ff" stroke-width="2.9"/>
<circle cx="1182.10" cy="447.40" r="1.7" fill="#777" stroke="#000" stroke-width="1.3"/>
<circle cx="1356.60" cy="631.90" r="1.7" fill="#777" stroke="#000" stroke-width="1.3"/>
<text transform="translate(1224.31,538.30) scale(0.9823,1)" font-size="23.84" font-weight="normal" font-style="italic" fill="#000" stroke="#000" stroke-width="0.35">CREB5</text>
<text transform="translate(1365.73,614.90) scale(0.9521,1)" font-size="23.84" font-weight="normal" font-style="italic" fill="#000" stroke="#000" stroke-width="0.35">AR</text>
<path d="M1589.50,425.60 V707.70 M1587.80,707.70 H1778.60" stroke="#000" stroke-width="3.15" fill="none"/>
<path d="M1576.50,425.60 H1589.50" stroke="#000" stroke-width="3.15"/>
<text transform="translate(1545.38,433.59)" font-size="21.20" font-weight="bold" font-style="normal" fill="#000" stroke="#000" stroke-width="0.12">1.0</text>
<path d="M1576.50,496.12 H1589.50" stroke="#000" stroke-width="3.15"/>
<text transform="translate(1545.12,504.12)" font-size="21.20" font-weight="bold" font-style="normal" fill="#000" stroke="#000" stroke-width="0.12">0.5</text>
<path d="M1576.50,566.65 H1589.50" stroke="#000" stroke-width="3.15"/>
<text transform="translate(1545.38,574.64)" font-size="21.20" font-weight="bold" font-style="normal" fill="#000" stroke="#000" stroke-width="0.12">0.0</text>
<path d="M1576.50,637.18 H1589.50" stroke="#000" stroke-width="3.15"/>
<text transform="translate(1538.07,645.17)" font-size="21.20" font-weight="bold" font-style="normal" fill="#000" stroke="#000" stroke-width="0.12">-0.5</text>
<path d="M1576.50,707.70 H1589.50" stroke="#000" stroke-width="3.15"/>
<text transform="translate(1538.33,715.69)" font-size="21.20" font-weight="bold" font-style="normal" fill="#000" stroke="#000" stroke-width="0.12">-1.0</text>
<path d="M1598.00,566.95 H1776.60" stroke="#000" stroke-width="3.3" stroke-linecap="round" stroke-dasharray="0 8.45" fill="none"/>
<text transform="translate(1526.50,689.22) rotate(-90) scale(0.9110,1)" font-size="26.16" font-weight="bold" font-style="normal" fill="#000" stroke="#000" stroke-width="0.12">Spearman Coefficient</text>
<path d="M1598.46,455.71 L1598.37,457.10 L1598.33,458.48 L1598.32,459.85 L1598.35,461.21 L1598.41,462.57 L1598.51,463.92 L1598.65,465.26 L1598.81,466.59 L1599.02,467.92 L1599.25,469.24 L1599.51,470.55 L1599.80,471.85 L1600.13,473.14 L1600.48,474.43 L1600.85,475.71 L1601.26,476.98 L1601.69,478.24 L1602.14,479.50 L1602.62,480.75 L1603.12,481.99 L1603.64,483.22 L1604.18,484.45 L1604.74,485.67 L1605.32,486.88 L1605.92,488.08 L1606.53,489.28 L1607.16,490.47 L1607.81,491.66 L1608.47,492.83 L1609.14,494.00 L1609.83,495.17 L1610.53,496.32 L1611.23,497.47 L1611.95,498.62 L1612.68,499.75 L1613.41,500.88 L1614.16,502.00 L1614.91,503.12 L1615.66,504.23 L1616.43,505.33 L1617.20,506.43 L1617.98,507.52 L1618.77,508.60 L1619.57,509.67 L1620.38,510.74 L1621.19,511.80 L1622.01,512.85 L1622.84,513.90 L1623.68,514.93 L1624.52,515.96 L1625.38,516.99 L1626.24,518.00 L1627.11,519.01 L1627.99,520.01 L1628.87,521.00 L1629.77,521.98 L1630.67,522.96 L1631.58,523.93 L1632.50,524.89 L1633.43,525.84 L1634.37,526.78 L1635.32,527.72 L1636.27,528.65 L1637.23,529.57 L1638.20,530.48 L1639.18,531.38 L1640.17,532.27 L1641.17,533.16 L1642.18,534.03 L1643.19,534.90 L1644.21,535.76 L1645.25,536.61 L1646.29,537.45 L1647.34,538.28 L1648.39,539.10 L1649.46,539.92 L1650.54,540.72 L1651.62,541.52 L1652.72,542.30 L1653.82,543.08 L1654.93,543.85 L1656.06,544.61 L1657.19,545.35 L1658.33,546.09 L1659.47,546.82 L1660.63,547.54 L1661.80,548.25 L1662.98,548.95 L1664.16,549.64 L1665.36,550.32 L1666.56,550.99 L1667.78,551.65 L1669.00,552.30 L1670.23,552.94 L1671.47,553.57 L1672.72,554.19 L1673.98,554.80 L1675.25,555.40 L1676.52,555.99 L1677.80,556.58 L1679.09,557.16 L1680.38,557.73 L1681.68,558.29 L1682.99,558.85 L1684.30,559.40 L1685.61,559.95 L1686.93,560.49 L1688.25,561.02 L1689.58,561.55 L1690.90,562.08 L1692.24,562.60 L1693.57,563.12 L1694.90,563.63 L1696.24,564.14 L1697.58,564.65 L1698.92,565.16 L1700.26,565.67 L1701.59,566.17 L1702.93,566.68 L1704.27,567.18 L1705.60,567.68 L1706.94,568.18 L1708.27,568.69 L1709.60,569.19 L1710.92,569.69 L1712.25,570.20 L1713.57,570.71 L1714.88,571.22 L1716.19,571.73 L1717.50,572.25 L1718.80,572.77 L1720.09,573.29 L1721.38,573.82 L1722.66,574.35 L1723.93,574.89 L1725.20,575.43 L1726.46,575.98 L1727.71,576.53 L1728.95,577.09 L1730.19,577.65 L1731.41,578.23 L1732.63,578.81 L1733.83,579.40 L1735.02,579.99 L1736.21,580.60 L1737.38,581.21 L1738.54,581.84 L1739.69,582.47 L1740.82,583.11 L1741.94,583.76 L1743.05,584.43 L1744.15,585.10 L1745.23,585.79 L1746.29,586.49 L1747.35,587.20 L1748.38,587.92 L1749.40,588.65 L1750.41,589.40 L1751.39,590.16 L1752.37,590.94 L1753.32,591.73 L1754.25,592.54 L1755.17,593.36 L1756.07,594.19 L1756.95,595.04 L1757.81,595.91 L1758.65,596.80 L1759.47,597.70 L1760.27,598.62 L1761.05,599.55 L1761.81,600.51 L1762.55,601.48 L1763.26,602.47 L1763.95,603.48 L1764.62,604.51 L1765.27,605.56 L1765.89,606.63 L1766.49,607.72 L1767.06,608.83 L1767.61,609.97 L1768.13,611.12 L1768.63,612.30 L1769.10,613.50 L1769.55,614.72 L1769.96,615.96 L1770.36,617.23 L1770.72,618.52 L1771.05,619.84 L1771.36,621.18 L1771.64,622.55 L1771.88,623.94 L1772.10,625.36 L1772.29,626.80 L1772.45,628.27 L1772.58,629.77 L1772.67,631.29 L1772.73,632.84 L1772.77,634.42 L1772.77,636.03" stroke="#000" stroke-width="4.6" fill="none" stroke-linecap="round"/>
<circle cx="1612.80" cy="499.50" r="6.1" fill="#000"/><circle cx="1612.80" cy="499.50" r="4.05" fill="none" stroke="#ff0000" stroke-width="2.9"/>
<circle cx="1767.70" cy="606.00" r="6.1" fill="#000"/><circle cx="1767.70" cy="606.00" r="4.05" fill="none" stroke="#0000ff" stroke-width="2.9"/>
<circle cx="1598.50" cy="448.40" r="1.7" fill="#777" stroke="#000" stroke-width="1.3"/>
<circle cx="1772.70" cy="637.90" r="1.7" fill="#777" stroke="#000" stroke-width="1.3"/>
<text transform="translate(1620.81,507.40) scale(0.9823,1)" font-size="23.84" font-weight="normal" font-style="italic" fill="#000" stroke="#000" stroke-width="0.35">CREB5</text>
<text transform="translate(1778.13,613.90) scale(0.9521,1)" font-size="23.84" font-weight="normal" font-style="italic" fill="#000" stroke="#000" stroke-width="0.35">AR</text>
<text transform="translate(13.73,2005.40) scale(0.9974,1)" font-size="57.45" font-weight="bold" font-style="normal" fill="#000" stroke="#000" stroke-width="0.12">D</text>
<rect x="345.40" y="2099.30" width="106.25" height="106.07" fill="#b2b2ff"/>
<rect x="451.15" y="2099.30" width="106.25" height="106.07" fill="#d1d1ff"/>
<rect x="556.89" y="2099.30" width="106.25" height="106.07" fill="#e8e8ff"/>
<rect x="662.64" y="2099.30" width="106.25" height="106.07" fill="#fafaff"/>
<rect x="768.38" y="2099.30" width="106.25" height="106.07" fill="#d4d4ff"/>
<rect x="874.13" y="2099.30" width="106.25" height="106.07" fill="#e0e0ff"/>
<rect x="979.87" y="2099.30" width="106.25" height="106.07" fill="#ffe6e6"/>
<rect x="1085.62" y="2099.30" width="106.25" height="106.07" fill="#e6e6ff"/>
<rect x="1191.36" y="2099.30" width="106.25" height="106.07" fill="#ffeded"/>
<rect x="1297.11" y="2099.30" width="106.25" height="106.07" fill="#ff9999"/>
<rect x="1402.85" y="2099.30" width="106.25" height="106.07" fill="#ff7878"/>
<rect x="345.40" y="2204.88" width="106.25" height="106.07" fill="#ff6666"/>
<rect x="451.15" y="2204.88" width="106.25" height="106.07" fill="#ffa1a1"/>
<rect x="556.89" y="2204.88" width="106.25" height="106.07" fill="#ff6666"/>
<rect x="662.64" y="2204.88" width="106.25" height="106.07" fill="#ffb0b0"/>
<rect x="768.38" y="2204.88" width="106.25" height="106.07" fill="#ff5959"/>
<rect x="874.13" y="2204.88" width="106.25" height="106.07" fill="#ff6666"/>
<rect x="979.87" y="2204.88" width="106.25" height="106.07" fill="#ff8c8c"/>
<rect x="1085.62" y="2204.88" width="106.25" height="106.07" fill="#ff5252"/>
<rect x="1191.36" y="2204.88" width="106.25" height="106.07" fill="#ff8c8c"/>
<rect x="1297.11" y="2204.88" width="106.25" height="106.07" fill="#b5b5ff"/>
<rect x="1402.85" y="2204.88" width="106.25" height="106.07" fill="#babaff"/>
<rect x="345.40" y="2310.45" width="106.25" height="106.07" fill="#e6e6ff"/>
<rect x="451.15" y="2310.45" width="106.25" height="106.07" fill="#ffe6e6"/>
<rect x="556.89" y="2310.45" width="106.25" height="106.07" fill="#dbdbff"/>
<rect x="662.64" y="2310.45" width="106.25" height="106.07" fill="#ffffff"/>
<rect x="768.38" y="2310.45" width="106.25" height="106.07" fill="#ffebeb"/>
<rect x="874.13" y="2310.45" width="106.25" height="106.07" fill="#f0f0ff"/>
<rect x="979.87" y="2310.45" width="106.25" height="106.07" fill="#ffeded"/>
<rect x="1085.62" y="2310.45" width="106.25" height="106.07" fill="#adadff"/>
<rect x="1191.36" y="2310.45" width="106.25" height="106.07" fill="#d9d9ff"/>
<rect x="1297.11" y="2310.45" width="106.25" height="106.07" fill="#ff9e9e"/>
<rect x="1402.85" y="2310.45" width="106.25" height="106.07" fill="#ff9191"/>
<rect x="345.40" y="2416.03" width="106.25" height="106.07" fill="#ff9e9e"/>
<rect x="451.15" y="2416.03" width="106.25" height="106.07" fill="#ffbaba"/>
<rect x="556.89" y="2416.03" width="106.25" height="106.07" fill="#ff5e5e"/>
<rect x="662.64" y="2416.03" width="106.25" height="106.07" fill="#ffd1d1"/>
<rect x="768.38" y="2416.03" width="106.25" height="106.07" fill="#ff4747"/>
<rect x="874.13" y="2416.03" width="106.25" height="106.07" fill="#ffb8b8"/>
<rect x="979.87" y="2416.03" width="106.25" height="106.07" fill="#ff6161"/>
<rect x="1085.62" y="2416.03" width="106.25" height="106.07" fill="#ff3030"/>
<rect x="1191.36" y="2416.03" width="106.25" height="106.07" fill="#ffcccc"/>
<rect x="1297.11" y="2416.03" width="106.25" height="106.07" fill="#babaff"/>
<rect x="1402.85" y="2416.03" width="106.25" height="106.07" fill="#8585ff"/>
<path d="M451.15,2099.3 V2521.6" stroke="#262626" stroke-width="1.2"/>
<path d="M556.89,2099.3 V2521.6" stroke="#262626" stroke-width="1.2"/>
<path d="M662.64,2099.3 V2521.6" stroke="#262626" stroke-width="1.2"/>
<path d="M768.38,2099.3 V2521.6" stroke="#262626" stroke-width="1.2"/>
<path d="M874.13,2099.3 V2521.6" stroke="#262626" stroke-width="1.2"/>
<path d="M979.87,2099.3 V2521.6" stroke="#262626" stroke-width="1.2"/>
<path d="M1085.62,2099.3 V2521.6" stroke="#262626" stroke-width="1.2"/>
<path d="M1191.36,2099.3 V2521.6" stroke="#262626" stroke-width="1.2"/>
<path d="M1297.11,2099.3 V2521.6" stroke="#262626" stroke-width="1.2"/>
<path d="M1402.85,2099.3 V2521.6" stroke="#262626" stroke-width="1.2"/>
<path d="M345.4,2204.88 H1508.6" stroke="#262626" stroke-width="1.2"/>
<path d="M345.4,2310.45 H1508.6" stroke="#262626" stroke-width="1.2"/>
<path d="M345.4,2416.03 H1508.6" stroke="#262626" stroke-width="1.2"/>
<rect x="345.40" y="2099.30" width="1163.20" height="422.30" fill="none" stroke="#000" stroke-width="5.8"/>
<path d="M398.27,2080 V2099.30" stroke="#000" stroke-width="5.4"/>
<text transform="translate(411.07,2072.3) rotate(-45)" font-size="31.5" font-weight="bold" fill="#000" stroke="#000" stroke-width="0.12">CREB5</text>
<path d="M504.02,2080 V2099.30" stroke="#000" stroke-width="5.4"/>
<text transform="translate(516.82,2072.3) rotate(-45)" font-size="31.5" font-weight="bold" fill="#000" stroke="#000" stroke-width="0.12">ATF3</text>
<path d="M609.76,2080 V2099.30" stroke="#000" stroke-width="5.4"/>
<text transform="translate(622.56,2072.3) rotate(-45)" font-size="31.5" font-weight="bold" fill="#000" stroke="#000" stroke-width="0.12">ETV5</text>
<path d="M715.51,2080 V2099.30" stroke="#000" stroke-width="5.4"/>
<text transform="translate(728.31,2072.3) rotate(-45)" font-size="31.5" font-weight="bold" fill="#000" stroke="#000" stroke-width="0.12">FGF6</text>
<path d="M821.25,2080 V2099.30" stroke="#000" stroke-width="5.4"/>
<text transform="translate(834.05,2072.3) rotate(-45)" font-size="31.5" font-weight="bold" fill="#000" stroke="#000" stroke-width="0.12">FGFR2</text>
<path d="M927.00,2080 V2099.30" stroke="#000" stroke-width="5.4"/>
<text transform="translate(939.80,2072.3) rotate(-45)" font-size="31.5" font-weight="bold" fill="#000" stroke="#000" stroke-width="0.12">HOXA1</text>
<path d="M1032.75,2080 V2099.30" stroke="#000" stroke-width="5.4"/>
<text transform="translate(1045.55,2072.3) rotate(-45)" font-size="31.5" font-weight="bold" fill="#000" stroke="#000" stroke-width="0.12">RARB</text>
<path d="M1138.49,2080 V2099.30" stroke="#000" stroke-width="5.4"/>
<text transform="translate(1151.29,2072.3) rotate(-45)" font-size="31.5" font-weight="bold" fill="#000" stroke="#000" stroke-width="0.12">RARG</text>
<path d="M1244.24,2080 V2099.30" stroke="#000" stroke-width="5.4"/>
<text transform="translate(1257.04,2072.3) rotate(-45)" font-size="31.5" font-weight="bold" fill="#000" stroke="#000" stroke-width="0.12">USP36</text>
<path d="M1349.98,2080 V2099.30" stroke="#000" stroke-width="5.4"/>
<text transform="translate(1362.78,2072.3) rotate(-45)" font-size="31.5" font-weight="bold" fill="#000" stroke="#000" stroke-width="0.12">AR</text>
<path d="M1455.73,2080 V2099.30" stroke="#000" stroke-width="5.4"/>
<text transform="translate(1468.53,2072.3) rotate(-45)" font-size="31.5" font-weight="bold" fill="#000" stroke="#000" stroke-width="0.12">FOXA1</text>
<path d="M326.5,2152.09 H345.40" stroke="#000" stroke-width="5.4"/>
<text transform="translate(51.41,2162.39) scale(0.9500,1)" font-size="34.00" font-weight="bold" font-style="italic" fill="#000" stroke="#000" stroke-width="0.12">AR activity, SU2C</text>
<path d="M326.5,2257.66 H345.40" stroke="#000" stroke-width="5.4"/>
<text transform="translate(17.33,2267.96) scale(0.9500,1)" font-size="34.00" font-weight="bold" font-style="italic" fill="#000" stroke="#000" stroke-width="0.12">KLF5 activity, SU2C</text>
<path d="M326.5,2363.24 H345.40" stroke="#000" stroke-width="5.4"/>
<text transform="translate(48.75,2373.54) scale(0.9500,1)" font-size="34.00" font-weight="bold" font-style="italic" fill="#000" stroke="#000" stroke-width="0.12">AR activity, TCGA</text>
<path d="M326.5,2468.81 H345.40" stroke="#000" stroke-width="5.4"/>
<text transform="translate(14.59,2479.11) scale(0.9500,1)" font-size="34.00" font-weight="bold" font-style="italic" fill="#000" stroke="#000" stroke-width="0.12">KLF5 activity, TCGA</text>
<defs><linearGradient id="cbg" x1="0" y1="0" x2="0" y2="1"><stop offset="0" stop-color="#ff0000"/><stop offset="0.5" stop-color="#ffffff"/><stop offset="1" stop-color="#0000ff"/></linearGradient></defs>
<rect x="1563.4" y="2101.6" width="49.0" height="418.0" fill="url(#cbg)"/>
<rect x="1561.3000000000002" y="2099.5" width="53.2" height="422.2" fill="none" stroke="#000" stroke-width="4.2"/>
<text transform="translate(1632.64,2111.29) scale(0.9750,1)" font-size="36.40" font-weight="normal" font-style="normal" fill="#000" stroke="#000" stroke-width="0.35">1.0</text>
<path d="M1563.4,2206.10 h8 M1612.4,2206.10 h-8" stroke="#000" stroke-width="3.2"/>
<text transform="translate(1633.88,2217.14) scale(0.9750,1)" font-size="36.40" font-weight="normal" font-style="normal" fill="#000" stroke="#000" stroke-width="0.35">0.5</text>
<path d="M1563.4,2310.60 h8 M1612.4,2310.60 h-8" stroke="#000" stroke-width="3.2"/>
<text transform="translate(1633.88,2322.99) scale(0.9750,1)" font-size="36.40" font-weight="normal" font-style="normal" fill="#000" stroke="#000" stroke-width="0.35">0</text>
<path d="M1563.4,2415.10 h8 M1612.4,2415.10 h-8" stroke="#000" stroke-width="3.2"/>
<text transform="translate(1633.70,2428.84) scale(0.9750,1)" font-size="36.40" font-weight="normal" font-style="normal" fill="#000" stroke="#000" stroke-width="0.35">-0.5</text>
<text transform="translate(1633.70,2534.69) scale(0.9750,1)" font-size="36.40" font-weight="normal" font-style="normal" fill="#000" stroke="#000" stroke-width="0.35">-1.0</text>
<text transform="translate(1732.60,2407.44) rotate(-90) scale(0.9877,1)" font-size="29.10" font-weight="normal" font-style="normal" fill="#000" stroke="#000" stroke-width="0.35">Correlation Coefficient</text>
<text transform="translate(14.18,883.00) scale(0.9721,1)" font-size="58.18" font-weight="bold" font-style="normal" fill="#000" stroke="#000" stroke-width="0.12">B</text>
<text transform="translate(994.08,883.50) scale(0.9568,1)" font-size="57.92" font-weight="bold" font-style="normal" fill="#000" stroke="#000" stroke-width="0.12">C</text>
<text transform="translate(429.47,869.20) scale(0.9498,1)" font-size="38.08" font-weight="normal" font-style="normal" fill="#000" stroke="#000" stroke-width="0.35">SU2C</text>
<text transform="translate(1425.68,869.20) scale(0.8943,1)" font-size="40.99" font-weight="normal" font-style="normal" fill="#000" stroke="#000" stroke-width="0.35">TCGA</text>
<path d="M107,1193.2 L392.7,1004.3" stroke="#ff0000" stroke-width="4.6" stroke-linecap="round"/>
<g fill="none" stroke="#000" stroke-width="1.9"><circle cx="108.7" cy="1226.2" r="4.25"/><circle cx="112.2" cy="1234.3" r="4.25"/><circle cx="112.9" cy="1200.9" r="4.25"/><circle cx="121.5" cy="1181.2" r="4.25"/><circle cx="135.9" cy="1163.4" r="4.25"/><circle cx="136.7" cy="1187.8" r="4.25"/><circle cx="157.0" cy="1160.6" r="4.25"/><circle cx="171.8" cy="1191.5" r="4.25"/><circle cx="186.2" cy="1209.0" r="4.25"/><circle cx="189.3" cy="1197.8" r="4.25"/><circle cx="210.3" cy="1257.4" r="4.25"/><circle cx="212.3" cy="1241.2" r="4.25"/><circle cx="210.3" cy="1158.4" r="4.25"/><circle cx="219.7" cy="1186.8" r="4.25"/><circle cx="222.4" cy="1213.4" r="4.25"/><circle cx="224.0" cy="1151.6" r="4.25"/><circle cx="236.1" cy="1233.0" r="4.25"/><circle cx="240.3" cy="1136.6" r="4.25"/><circle cx="234.9" cy="1005.8" r="4.25"/><circle cx="261.0" cy="1128.5" r="4.25"/><circle cx="264.5" cy="1132.2" r="4.25"/><circle cx="265.7" cy="1147.8" r="4.25"/><circle cx="286.3" cy="1132.8" r="4.25"/><circle cx="288.7" cy="1141.6" r="4.25"/><circle cx="296.8" cy="1150.0" r="4.25"/><circle cx="310.1" cy="1134.1" r="4.25"/><circle cx="365.0" cy="1163.4" r="4.25"/><circle cx="314.8" cy="945.8" r="4.25"/><circle cx="290.2" cy="975.8" r="4.25"/><circle cx="321.0" cy="975.8" r="4.25"/><circle cx="338.1" cy="971.7" r="4.25"/><circle cx="382.6" cy="1008.3" r="4.25"/><circle cx="382.2" cy="1044.2" r="4.25"/><circle cx="385.3" cy="1059.8" r="4.25"/><circle cx="391.9" cy="1061.7" r="4.25"/><circle cx="367.0" cy="1031.7" r="4.25"/><circle cx="242.7" cy="1067.3" r="4.25"/><circle cx="246.6" cy="1035.4" r="4.25"/><circle cx="234.1" cy="1081.0" r="4.25"/><circle cx="243.9" cy="1090.1" r="4.25"/><circle cx="260.2" cy="1020.1" r="4.25"/><circle cx="273.1" cy="1106.3" r="4.25"/><circle cx="265.7" cy="1112.5" r="4.25"/><circle cx="289.4" cy="1108.8" r="4.25"/><circle cx="287.1" cy="1095.7" r="4.25"/><circle cx="299.2" cy="1092.6" r="4.25"/><circle cx="313.2" cy="1096.3" r="4.25"/><circle cx="327.2" cy="1106.3" r="4.25"/><circle cx="332.3" cy="1113.8" r="4.25"/><circle cx="342.8" cy="1096.3" r="4.25"/><circle cx="349.8" cy="1106.0" r="4.25"/><circle cx="355.3" cy="1090.1" r="4.25"/><circle cx="290.6" cy="996.7" r="4.25"/><circle cx="308.5" cy="991.4" r="4.25"/><circle cx="318.3" cy="988.6" r="4.25"/><circle cx="328.4" cy="991.7" r="4.25"/><circle cx="333.5" cy="992.3" r="4.25"/><circle cx="344.8" cy="995.5" r="4.25"/><circle cx="362.3" cy="1005.8" r="4.25"/><circle cx="261.4" cy="1056.0" r="4.25"/><circle cx="260.2" cy="1068.5" r="4.25"/><circle cx="241.5" cy="1057.3" r="4.25"/><circle cx="308.7" cy="1102.4" r="4.25"/><circle cx="351.7" cy="1063.2" r="4.25"/><circle cx="303.7" cy="1085.3" r="4.25"/><circle cx="324.4" cy="1083.5" r="4.25"/><circle cx="278.0" cy="1067.6" r="4.25"/><circle cx="324.0" cy="1082.3" r="4.25"/><circle cx="323.1" cy="1064.5" r="4.25"/><circle cx="367.8" cy="1048.0" r="4.25"/><circle cx="317.9" cy="1086.4" r="4.25"/><circle cx="340.5" cy="1076.8" r="4.25"/><circle cx="300.6" cy="1008.7" r="4.25"/><circle cx="356.5" cy="1014.9" r="4.25"/><circle cx="308.5" cy="1015.0" r="4.25"/><circle cx="325.7" cy="1025.7" r="4.25"/><circle cx="289.4" cy="1055.8" r="4.25"/><circle cx="339.5" cy="1013.6" r="4.25"/><circle cx="349.8" cy="1070.3" r="4.25"/><circle cx="356.8" cy="1070.2" r="4.25"/><circle cx="349.3" cy="1038.2" r="4.25"/><circle cx="284.4" cy="1050.4" r="4.25"/><circle cx="319.4" cy="1005.1" r="4.25"/><circle cx="280.7" cy="1087.3" r="4.25"/><circle cx="321.6" cy="1084.6" r="4.25"/><circle cx="299.0" cy="1100.8" r="4.25"/><circle cx="339.8" cy="1088.1" r="4.25"/><circle cx="347.9" cy="1016.8" r="4.25"/><circle cx="303.6" cy="1036.8" r="4.25"/><circle cx="345.0" cy="1046.7" r="4.25"/><circle cx="271.4" cy="1049.8" r="4.25"/><circle cx="299.2" cy="1044.8" r="4.25"/><circle cx="309.2" cy="1008.1" r="4.25"/><circle cx="286.1" cy="1032.0" r="4.25"/><circle cx="338.4" cy="1040.7" r="4.25"/><circle cx="282.1" cy="1081.0" r="4.25"/><circle cx="321.4" cy="1048.4" r="4.25"/><circle cx="317.1" cy="1082.9" r="4.25"/><circle cx="328.8" cy="1018.8" r="4.25"/><circle cx="275.0" cy="1061.1" r="4.25"/><circle cx="307.6" cy="1024.7" r="4.25"/><circle cx="365.3" cy="1048.2" r="4.25"/><circle cx="290.5" cy="1020.0" r="4.25"/><circle cx="306.4" cy="1086.2" r="4.25"/><circle cx="336.4" cy="1045.0" r="4.25"/><circle cx="291.1" cy="1066.4" r="4.25"/><circle cx="337.7" cy="1064.0" r="4.25"/><circle cx="272.0" cy="1066.2" r="4.25"/><circle cx="285.4" cy="1046.9" r="4.25"/><circle cx="286.1" cy="1095.3" r="4.25"/><circle cx="358.9" cy="1058.3" r="4.25"/><circle cx="295.6" cy="1052.8" r="4.25"/><circle cx="337.8" cy="1029.4" r="4.25"/><circle cx="348.9" cy="1067.8" r="4.25"/><circle cx="309.8" cy="1066.8" r="4.25"/><circle cx="319.3" cy="1043.5" r="4.25"/><circle cx="331.1" cy="1091.2" r="4.25"/><circle cx="303.9" cy="1033.8" r="4.25"/><circle cx="337.0" cy="1056.5" r="4.25"/><circle cx="312.1" cy="1076.2" r="4.25"/><circle cx="342.4" cy="1047.3" r="4.25"/><circle cx="301.2" cy="1013.2" r="4.25"/><circle cx="336.0" cy="1034.3" r="4.25"/><circle cx="328.3" cy="1079.9" r="4.25"/><circle cx="306.7" cy="1085.8" r="4.25"/><circle cx="301.6" cy="1015.1" r="4.25"/><circle cx="341.2" cy="1011.0" r="4.25"/><circle cx="272.8" cy="1082.0" r="4.25"/><circle cx="350.9" cy="1070.1" r="4.25"/><circle cx="309.5" cy="1101.8" r="4.25"/><circle cx="276.9" cy="1059.7" r="4.25"/><circle cx="348.1" cy="1059.9" r="4.25"/><circle cx="298.5" cy="1101.8" r="4.25"/><circle cx="286.6" cy="1051.8" r="4.25"/><circle cx="302.6" cy="1007.2" r="4.25"/><circle cx="294.8" cy="1021.2" r="4.25"/><circle cx="274.5" cy="1058.9" r="4.25"/><circle cx="322.7" cy="1034.4" r="4.25"/><circle cx="308.0" cy="1051.2" r="4.25"/><circle cx="346.7" cy="1079.1" r="4.25"/><circle cx="320.8" cy="1041.8" r="4.25"/><circle cx="347.1" cy="1077.8" r="4.25"/><circle cx="308.5" cy="1101.0" r="4.25"/><circle cx="334.6" cy="1010.5" r="4.25"/><circle cx="302.1" cy="1023.5" r="4.25"/><circle cx="314.4" cy="1097.5" r="4.25"/><circle cx="297.8" cy="1026.0" r="4.25"/><circle cx="278.1" cy="1054.3" r="4.25"/><circle cx="297.4" cy="1084.5" r="4.25"/><circle cx="275.0" cy="1061.6" r="4.25"/><circle cx="288.3" cy="1033.9" r="4.25"/><circle cx="282.0" cy="1051.1" r="4.25"/><circle cx="359.6" cy="1035.9" r="4.25"/><circle cx="362.8" cy="1026.5" r="4.25"/><circle cx="281.7" cy="1036.7" r="4.25"/><circle cx="285.4" cy="1030.6" r="4.25"/><circle cx="345.7" cy="1038.5" r="4.25"/><circle cx="336.3" cy="1033.6" r="4.25"/><circle cx="328.2" cy="1026.8" r="4.25"/><circle cx="314.5" cy="1080.7" r="4.25"/><circle cx="299.2" cy="1066.6" r="4.25"/><circle cx="353.8" cy="1077.7" r="4.25"/><circle cx="329.0" cy="1043.9" r="4.25"/><circle cx="361.9" cy="1064.2" r="4.25"/><circle cx="312.0" cy="1035.1" r="4.25"/><circle cx="317.2" cy="1071.1" r="4.25"/><circle cx="336.6" cy="1034.9" r="4.25"/><circle cx="316.9" cy="1023.6" r="4.25"/><circle cx="340.2" cy="1013.6" r="4.25"/><circle cx="344.1" cy="1047.8" r="4.25"/><circle cx="300.2" cy="1067.5" r="4.25"/><circle cx="333.4" cy="1075.7" r="4.25"/><circle cx="294.3" cy="1059.3" r="4.25"/><circle cx="371.0" cy="1029.6" r="4.25"/><circle cx="349.4" cy="1062.4" r="4.25"/><circle cx="333.5" cy="1017.0" r="4.25"/><circle cx="344.6" cy="1039.7" r="4.25"/><circle cx="330.7" cy="1019.5" r="4.25"/><circle cx="325.3" cy="1038.6" r="4.25"/><circle cx="329.3" cy="1063.2" r="4.25"/><circle cx="322.0" cy="1050.5" r="4.25"/><circle cx="293.6" cy="1070.8" r="4.25"/><circle cx="329.1" cy="1066.3" r="4.25"/><circle cx="343.8" cy="1022.2" r="4.25"/><circle cx="319.7" cy="1032.7" r="4.25"/><circle cx="330.1" cy="1025.9" r="4.25"/><circle cx="317.1" cy="1070.4" r="4.25"/><circle cx="306.2" cy="1080.9" r="4.25"/><circle cx="334.7" cy="1072.4" r="4.25"/><circle cx="348.3" cy="1044.3" r="4.25"/><circle cx="297.5" cy="1062.3" r="4.25"/><circle cx="355.1" cy="1047.2" r="4.25"/><circle cx="335.2" cy="1052.3" r="4.25"/><circle cx="298.5" cy="1038.6" r="4.25"/><circle cx="321.3" cy="1090.1" r="4.25"/><circle cx="323.5" cy="1029.7" r="4.25"/><circle cx="308.7" cy="1040.9" r="4.25"/><circle cx="341.5" cy="1032.4" r="4.25"/><circle cx="305.3" cy="1081.0" r="4.25"/><circle cx="328.7" cy="1017.2" r="4.25"/><circle cx="325.4" cy="1060.9" r="4.25"/><circle cx="336.7" cy="1044.3" r="4.25"/><circle cx="306.7" cy="1096.3" r="4.25"/><circle cx="312.5" cy="1039.0" r="4.25"/><circle cx="313.4" cy="1064.7" r="4.25"/><circle cx="339.5" cy="1040.8" r="4.25"/><circle cx="307.9" cy="1066.7" r="4.25"/></g>
<path d="M103.20,945.20 V1257.40 M89.70,1257.40 H416.60" stroke="#000" stroke-width="3.2" fill="none"/>
<text transform="translate(71.93,1266.10) scale(0.9600,1)" font-size="23.80" font-weight="bold" font-style="normal" fill="#000" stroke="#000" stroke-width="0.12">0</text>
<path d="M89.70,1194.96 H103.20" stroke="#000" stroke-width="3.2"/>
<text transform="translate(59.25,1203.66) scale(0.9600,1)" font-size="23.80" font-weight="bold" font-style="normal" fill="#000" stroke="#000" stroke-width="0.12">20</text>
<path d="M89.70,1132.52 H103.20" stroke="#000" stroke-width="3.2"/>
<text transform="translate(59.25,1141.22) scale(0.9600,1)" font-size="23.80" font-weight="bold" font-style="normal" fill="#000" stroke="#000" stroke-width="0.12">40</text>
<path d="M89.70,1070.08 H103.20" stroke="#000" stroke-width="3.2"/>
<text transform="translate(59.25,1078.78) scale(0.9600,1)" font-size="23.80" font-weight="bold" font-style="normal" fill="#000" stroke="#000" stroke-width="0.12">60</text>
<path d="M89.70,1007.64 H103.20" stroke="#000" stroke-width="3.2"/>
<text transform="translate(59.25,1016.34) scale(0.9600,1)" font-size="23.80" font-weight="bold" font-style="normal" fill="#000" stroke="#000" stroke-width="0.12">80</text>
<path d="M89.70,945.20 H103.20" stroke="#000" stroke-width="3.2"/>
<text transform="translate(46.51,953.90) scale(0.9600,1)" font-size="23.80" font-weight="bold" font-style="normal" fill="#000" stroke="#000" stroke-width="0.12">100</text>
<path d="M103.20,1257.40 V1271.40" stroke="#000" stroke-width="3.2"/>
<text transform="translate(96.75,1298.24) scale(0.9600,1)" font-size="24.20" font-weight="bold" font-style="normal" fill="#000" stroke="#000" stroke-width="0.12">0</text>
<path d="M181.12,1257.40 V1271.40" stroke="#000" stroke-width="3.2"/>
<text transform="translate(174.71,1298.24) scale(0.9600,1)" font-size="24.20" font-weight="bold" font-style="normal" fill="#000" stroke="#000" stroke-width="0.12">2</text>
<path d="M259.05,1257.40 V1271.40" stroke="#000" stroke-width="3.2"/>
<text transform="translate(252.49,1298.12) scale(0.9600,1)" font-size="24.20" font-weight="bold" font-style="normal" fill="#000" stroke="#000" stroke-width="0.12">4</text>
<path d="M336.97,1257.40 V1271.40" stroke="#000" stroke-width="3.2"/>
<text transform="translate(330.50,1298.24) scale(0.9600,1)" font-size="24.20" font-weight="bold" font-style="normal" fill="#000" stroke="#000" stroke-width="0.12">6</text>
<path d="M414.90,1257.40 V1271.40" stroke="#000" stroke-width="3.2"/>
<text transform="translate(408.42,1298.24) scale(0.9600,1)" font-size="24.20" font-weight="bold" font-style="normal" fill="#000" stroke="#000" stroke-width="0.12">8</text>
<text transform="translate(31.20,1197.16) rotate(-90) scale(0.9092,1)" font-size="27.62" font-weight="normal" font-style="normal" fill="#000" stroke="#000" stroke-width="0.35">AR activity Score</text>
<text transform="translate(113.40,969.40) scale(0.9300,1)" font-size="19.80" font-weight="normal" font-style="normal" fill="#0000ff" stroke="#0000ff" stroke-width="0.35">r =0.412</text>
<text transform="translate(114.55,991.80) scale(0.9335,1)" font-size="19.80" font-weight="normal" font-style="normal" fill="#0000ff" stroke="#0000ff" stroke-width="0.35">Adj p-val = 5.88e-8</text>
<path d="M604.6,1089.2 L890.3,1180.6" stroke="#ff0000" stroke-width="4.6" stroke-linecap="round"/>
<g fill="none" stroke="#000" stroke-width="1.9"><circle cx="633.5" cy="945.8" r="4.25"/><circle cx="783.4" cy="973.3" r="4.25"/><circle cx="653.1" cy="996.1" r="4.25"/><circle cx="632.4" cy="1016.4" r="4.25"/><circle cx="760.7" cy="1023.2" r="4.25"/><circle cx="829.9" cy="1021.4" r="4.25"/><circle cx="882.8" cy="1017.6" r="4.25"/><circle cx="764.2" cy="1057.9" r="4.25"/><circle cx="806.5" cy="1072.0" r="4.25"/><circle cx="854.6" cy="1080.1" r="4.25"/><circle cx="838.9" cy="1096.3" r="4.25"/><circle cx="795.9" cy="1081.0" r="4.25"/><circle cx="817.8" cy="1081.9" r="4.25"/><circle cx="809.6" cy="1093.8" r="4.25"/><circle cx="758.7" cy="1085.1" r="4.25"/><circle cx="609.7" cy="1089.1" r="4.25"/><circle cx="605.4" cy="1110.0" r="4.25"/><circle cx="617.9" cy="1144.1" r="4.25"/><circle cx="668.4" cy="1123.2" r="4.25"/><circle cx="683.2" cy="1116.3" r="4.25"/><circle cx="686.0" cy="1143.4" r="4.25"/><circle cx="706.3" cy="1118.2" r="4.25"/><circle cx="707.1" cy="1137.2" r="4.25"/><circle cx="717.3" cy="1101.3" r="4.25"/><circle cx="719.2" cy="1110.7" r="4.25"/><circle cx="738.0" cy="1095.1" r="4.25"/><circle cx="732.9" cy="1101.9" r="4.25"/><circle cx="734.1" cy="1110.7" r="4.25"/><circle cx="741.5" cy="1129.4" r="4.25"/><circle cx="751.7" cy="1135.3" r="4.25"/><circle cx="731.0" cy="1143.4" r="4.25"/><circle cx="735.3" cy="1156.2" r="4.25"/><circle cx="743.5" cy="1148.8" r="4.25"/><circle cx="739.2" cy="1177.5" r="4.25"/><circle cx="745.4" cy="1189.3" r="4.25"/><circle cx="755.6" cy="1190.6" r="4.25"/><circle cx="765.8" cy="1199.0" r="4.25"/><circle cx="755.6" cy="1200.9" r="4.25"/><circle cx="730.6" cy="1222.1" r="4.25"/><circle cx="760.7" cy="1257.4" r="4.25"/><circle cx="785.7" cy="1224.6" r="4.25"/><circle cx="795.9" cy="1203.4" r="4.25"/><circle cx="798.3" cy="1229.6" r="4.25"/><circle cx="807.6" cy="1245.5" r="4.25"/><circle cx="825.6" cy="1212.8" r="4.25"/><circle cx="828.8" cy="1238.0" r="4.25"/><circle cx="835.4" cy="1231.8" r="4.25"/><circle cx="829.2" cy="1223.4" r="4.25"/><circle cx="840.5" cy="1207.1" r="4.25"/><circle cx="858.1" cy="1213.4" r="4.25"/><circle cx="859.7" cy="1219.0" r="4.25"/><circle cx="878.9" cy="1200.9" r="4.25"/><circle cx="888.6" cy="1202.1" r="4.25"/><circle cx="878.9" cy="1173.1" r="4.25"/><circle cx="864.4" cy="1116.9" r="4.25"/><circle cx="768.9" cy="1176.2" r="4.25"/><circle cx="782.6" cy="1183.7" r="4.25"/><circle cx="805.0" cy="1171.4" r="4.25"/><circle cx="783.6" cy="1132.8" r="4.25"/><circle cx="807.7" cy="1143.9" r="4.25"/><circle cx="827.5" cy="1127.4" r="4.25"/><circle cx="850.7" cy="1203.0" r="4.25"/><circle cx="815.6" cy="1208.7" r="4.25"/><circle cx="846.5" cy="1193.1" r="4.25"/><circle cx="821.4" cy="1164.7" r="4.25"/><circle cx="853.9" cy="1160.1" r="4.25"/><circle cx="859.3" cy="1186.8" r="4.25"/><circle cx="774.4" cy="1137.0" r="4.25"/><circle cx="839.5" cy="1142.9" r="4.25"/><circle cx="849.1" cy="1203.4" r="4.25"/><circle cx="776.2" cy="1141.8" r="4.25"/><circle cx="829.5" cy="1150.9" r="4.25"/><circle cx="832.3" cy="1123.5" r="4.25"/><circle cx="782.0" cy="1163.4" r="4.25"/><circle cx="835.0" cy="1190.8" r="4.25"/><circle cx="779.8" cy="1139.9" r="4.25"/><circle cx="838.1" cy="1166.5" r="4.25"/><circle cx="784.0" cy="1186.3" r="4.25"/><circle cx="797.0" cy="1126.9" r="4.25"/><circle cx="850.3" cy="1193.5" r="4.25"/><circle cx="808.1" cy="1154.3" r="4.25"/><circle cx="838.1" cy="1165.0" r="4.25"/><circle cx="819.7" cy="1200.6" r="4.25"/><circle cx="845.8" cy="1145.1" r="4.25"/><circle cx="805.7" cy="1120.8" r="4.25"/><circle cx="804.5" cy="1188.2" r="4.25"/><circle cx="789.6" cy="1174.6" r="4.25"/><circle cx="817.8" cy="1158.4" r="4.25"/><circle cx="826.4" cy="1199.1" r="4.25"/><circle cx="839.2" cy="1161.5" r="4.25"/><circle cx="830.7" cy="1124.4" r="4.25"/><circle cx="795.7" cy="1140.8" r="4.25"/><circle cx="822.3" cy="1176.4" r="4.25"/><circle cx="810.5" cy="1190.0" r="4.25"/><circle cx="834.8" cy="1196.9" r="4.25"/><circle cx="851.4" cy="1198.2" r="4.25"/><circle cx="837.1" cy="1158.2" r="4.25"/><circle cx="850.7" cy="1176.8" r="4.25"/><circle cx="815.4" cy="1198.4" r="4.25"/><circle cx="796.0" cy="1194.2" r="4.25"/><circle cx="822.7" cy="1135.4" r="4.25"/><circle cx="845.2" cy="1154.8" r="4.25"/><circle cx="813.1" cy="1183.3" r="4.25"/><circle cx="851.5" cy="1152.6" r="4.25"/><circle cx="837.2" cy="1160.9" r="4.25"/><circle cx="850.1" cy="1160.1" r="4.25"/><circle cx="796.5" cy="1171.7" r="4.25"/><circle cx="801.2" cy="1180.2" r="4.25"/><circle cx="861.1" cy="1150.4" r="4.25"/><circle cx="832.1" cy="1170.2" r="4.25"/><circle cx="819.1" cy="1200.5" r="4.25"/><circle cx="818.0" cy="1155.1" r="4.25"/><circle cx="805.3" cy="1160.6" r="4.25"/><circle cx="850.5" cy="1139.3" r="4.25"/><circle cx="851.5" cy="1196.0" r="4.25"/><circle cx="783.1" cy="1144.5" r="4.25"/><circle cx="862.3" cy="1192.7" r="4.25"/><circle cx="854.0" cy="1187.9" r="4.25"/><circle cx="831.6" cy="1191.3" r="4.25"/><circle cx="834.4" cy="1210.4" r="4.25"/><circle cx="835.5" cy="1203.6" r="4.25"/><circle cx="814.8" cy="1203.1" r="4.25"/><circle cx="808.7" cy="1194.1" r="4.25"/><circle cx="803.1" cy="1163.8" r="4.25"/><circle cx="836.7" cy="1153.8" r="4.25"/><circle cx="823.0" cy="1131.1" r="4.25"/><circle cx="811.5" cy="1195.6" r="4.25"/><circle cx="839.4" cy="1180.1" r="4.25"/><circle cx="864.8" cy="1181.1" r="4.25"/><circle cx="867.3" cy="1173.3" r="4.25"/><circle cx="853.4" cy="1181.3" r="4.25"/><circle cx="831.6" cy="1205.2" r="4.25"/><circle cx="790.3" cy="1196.0" r="4.25"/><circle cx="810.6" cy="1178.7" r="4.25"/><circle cx="826.4" cy="1150.8" r="4.25"/><circle cx="794.1" cy="1181.2" r="4.25"/><circle cx="808.5" cy="1124.4" r="4.25"/><circle cx="788.8" cy="1167.3" r="4.25"/><circle cx="771.0" cy="1147.5" r="4.25"/><circle cx="812.5" cy="1178.3" r="4.25"/><circle cx="809.4" cy="1183.3" r="4.25"/><circle cx="811.2" cy="1191.8" r="4.25"/><circle cx="842.2" cy="1126.6" r="4.25"/><circle cx="861.9" cy="1182.8" r="4.25"/><circle cx="816.6" cy="1158.9" r="4.25"/><circle cx="836.4" cy="1137.1" r="4.25"/><circle cx="822.4" cy="1170.2" r="4.25"/><circle cx="786.5" cy="1190.7" r="4.25"/><circle cx="865.4" cy="1164.6" r="4.25"/><circle cx="811.6" cy="1131.0" r="4.25"/><circle cx="811.7" cy="1157.9" r="4.25"/><circle cx="796.6" cy="1176.5" r="4.25"/><circle cx="855.5" cy="1150.7" r="4.25"/><circle cx="787.7" cy="1155.7" r="4.25"/><circle cx="814.2" cy="1166.5" r="4.25"/><circle cx="820.3" cy="1144.3" r="4.25"/><circle cx="826.6" cy="1184.1" r="4.25"/><circle cx="860.0" cy="1178.1" r="4.25"/><circle cx="812.9" cy="1187.3" r="4.25"/><circle cx="815.6" cy="1181.2" r="4.25"/><circle cx="856.6" cy="1143.3" r="4.25"/><circle cx="770.0" cy="1141.5" r="4.25"/><circle cx="819.3" cy="1191.6" r="4.25"/><circle cx="793.1" cy="1144.3" r="4.25"/><circle cx="823.5" cy="1143.5" r="4.25"/><circle cx="805.7" cy="1124.5" r="4.25"/><circle cx="831.8" cy="1168.3" r="4.25"/><circle cx="842.3" cy="1163.8" r="4.25"/><circle cx="813.0" cy="1183.6" r="4.25"/><circle cx="806.5" cy="1189.2" r="4.25"/><circle cx="840.3" cy="1143.9" r="4.25"/><circle cx="812.6" cy="1172.5" r="4.25"/><circle cx="854.5" cy="1163.5" r="4.25"/><circle cx="853.5" cy="1170.0" r="4.25"/><circle cx="835.8" cy="1123.8" r="4.25"/><circle cx="814.4" cy="1144.3" r="4.25"/><circle cx="837.4" cy="1201.9" r="4.25"/><circle cx="863.1" cy="1189.3" r="4.25"/><circle cx="838.0" cy="1166.0" r="4.25"/><circle cx="809.0" cy="1169.5" r="4.25"/><circle cx="843.4" cy="1195.8" r="4.25"/><circle cx="824.5" cy="1216.5" r="4.25"/><circle cx="808.0" cy="1215.7" r="4.25"/><circle cx="811.1" cy="1159.5" r="4.25"/><circle cx="770.3" cy="1161.0" r="4.25"/><circle cx="808.2" cy="1174.1" r="4.25"/><circle cx="831.9" cy="1158.4" r="4.25"/></g>
<path d="M599.50,945.20 V1257.40 M586.00,1257.40 H914.20" stroke="#000" stroke-width="3.2" fill="none"/>
<text transform="translate(568.23,1266.10) scale(0.9600,1)" font-size="23.80" font-weight="bold" font-style="normal" fill="#000" stroke="#000" stroke-width="0.12">0</text>
<path d="M586.00,1194.96 H599.50" stroke="#000" stroke-width="3.2"/>
<text transform="translate(555.55,1203.66) scale(0.9600,1)" font-size="23.80" font-weight="bold" font-style="normal" fill="#000" stroke="#000" stroke-width="0.12">20</text>
<path d="M586.00,1132.52 H599.50" stroke="#000" stroke-width="3.2"/>
<text transform="translate(555.55,1141.22) scale(0.9600,1)" font-size="23.80" font-weight="bold" font-style="normal" fill="#000" stroke="#000" stroke-width="0.12">40</text>
<path d="M586.00,1070.08 H599.50" stroke="#000" stroke-width="3.2"/>
<text transform="translate(555.55,1078.78) scale(0.9600,1)" font-size="23.80" font-weight="bold" font-style="normal" fill="#000" stroke="#000" stroke-width="0.12">60</text>
<path d="M586.00,1007.64 H599.50" stroke="#000" stroke-width="3.2"/>
<text transform="translate(555.55,1016.34) scale(0.9600,1)" font-size="23.80" font-weight="bold" font-style="normal" fill="#000" stroke="#000" stroke-width="0.12">80</text>
<path d="M586.00,945.20 H599.50" stroke="#000" stroke-width="3.2"/>
<text transform="translate(542.81,953.90) scale(0.9600,1)" font-size="23.80" font-weight="bold" font-style="normal" fill="#000" stroke="#000" stroke-width="0.12">100</text>
<path d="M599.50,1257.40 V1271.40" stroke="#000" stroke-width="3.2"/>
<text transform="translate(593.05,1298.24) scale(0.9600,1)" font-size="24.20" font-weight="bold" font-style="normal" fill="#000" stroke="#000" stroke-width="0.12">0</text>
<path d="M677.75,1257.40 V1271.40" stroke="#000" stroke-width="3.2"/>
<text transform="translate(671.33,1298.24) scale(0.9600,1)" font-size="24.20" font-weight="bold" font-style="normal" fill="#000" stroke="#000" stroke-width="0.12">2</text>
<path d="M756.00,1257.40 V1271.40" stroke="#000" stroke-width="3.2"/>
<text transform="translate(749.44,1298.12) scale(0.9600,1)" font-size="24.20" font-weight="bold" font-style="normal" fill="#000" stroke="#000" stroke-width="0.12">4</text>
<path d="M834.25,1257.40 V1271.40" stroke="#000" stroke-width="3.2"/>
<text transform="translate(827.77,1298.24) scale(0.9600,1)" font-size="24.20" font-weight="bold" font-style="normal" fill="#000" stroke="#000" stroke-width="0.12">6</text>
<path d="M912.50,1257.40 V1271.40" stroke="#000" stroke-width="3.2"/>
<text transform="translate(906.02,1298.24) scale(0.9600,1)" font-size="24.20" font-weight="bold" font-style="normal" fill="#000" stroke="#000" stroke-width="0.12">8</text>
<text transform="translate(527.50,1211.69) rotate(-90) scale(0.9173,1)" font-size="27.62" font-weight="normal" font-style="normal" fill="#000" stroke="#000" stroke-width="0.35">KLF5 activity Score</text>
<text transform="translate(609.60,972.00) scale(0.9300,1)" font-size="19.80" font-weight="normal" font-style="normal" fill="#0000ff" stroke="#0000ff" stroke-width="0.35">r = -0.279</text>
<text transform="translate(610.75,993.00) scale(0.9367,1)" font-size="19.80" font-weight="normal" font-style="normal" fill="#0000ff" stroke="#0000ff" stroke-width="0.35">Adj p-val = 1.04e-4</text>
<path d="M1139.4,1101.8 L1408.1,986.4" stroke="#ff0000" stroke-width="4.6" stroke-linecap="round"/>
<g fill="none" stroke="#000" stroke-width="1.75"><circle cx="1140.3" cy="1219.5" r="4.85"/><circle cx="1157.1" cy="1203.6" r="4.85"/><circle cx="1161.1" cy="1186.9" r="4.85"/><circle cx="1152.3" cy="1164.2" r="4.85"/><circle cx="1169.1" cy="1174.8" r="4.85"/><circle cx="1167.5" cy="1154.3" r="4.85"/><circle cx="1162.7" cy="1142.2" r="4.85"/><circle cx="1166.7" cy="1124.3" r="4.85"/><circle cx="1180.3" cy="1146.0" r="4.85"/><circle cx="1185.9" cy="1169.0" r="4.85"/><circle cx="1193.9" cy="1178.6" r="4.85"/><circle cx="1201.1" cy="1169.0" r="4.85"/><circle cx="1216.3" cy="1159.1" r="4.85"/><circle cx="1205.1" cy="1151.8" r="4.85"/><circle cx="1221.1" cy="1264.6" r="4.85"/><circle cx="1244.3" cy="1251.2" r="4.85"/><circle cx="1241.9" cy="1217.0" r="4.85"/><circle cx="1249.2" cy="1181.5" r="4.85"/><circle cx="1238.7" cy="1148.6" r="4.85"/><circle cx="1278.8" cy="1154.0" r="4.85"/><circle cx="1293.2" cy="1153.1" r="4.85"/><circle cx="1279.6" cy="1196.5" r="4.85"/><circle cx="1285.2" cy="1232.6" r="4.85"/><circle cx="1252.4" cy="945.0" r="4.85"/><circle cx="1268.4" cy="951.7" r="4.85"/><circle cx="1221.1" cy="959.4" r="4.85"/><circle cx="1180.3" cy="1015.3" r="4.85"/><circle cx="1167.5" cy="1026.8" r="4.85"/><circle cx="1155.5" cy="1065.5" r="4.85"/><circle cx="1161.9" cy="1083.4" r="4.85"/><circle cx="1169.1" cy="1053.7" r="4.85"/><circle cx="1314.0" cy="1053.0" r="4.85"/><circle cx="1313.2" cy="1081.1" r="4.85"/><circle cx="1314.8" cy="1104.8" r="4.85"/><circle cx="1304.4" cy="1109.6" r="4.85"/><circle cx="1282.8" cy="1107.7" r="4.85"/><circle cx="1265.2" cy="1129.4" r="4.85"/><circle cx="1302.8" cy="1026.8" r="4.85"/><circle cx="1309.2" cy="1020.7" r="4.85"/><circle cx="1292.4" cy="1040.9" r="4.85"/><circle cx="1297.2" cy="1042.2" r="4.85"/><circle cx="1270.8" cy="968.3" r="4.85"/><circle cx="1278.8" cy="991.0" r="4.85"/><circle cx="1231.5" cy="966.7" r="4.85"/><circle cx="1211.5" cy="975.0" r="4.85"/><circle cx="1179.4" cy="1046.5" r="4.85"/><circle cx="1207.4" cy="1085.2" r="4.85"/><circle cx="1251.6" cy="1085.8" r="4.85"/><circle cx="1215.2" cy="1084.1" r="4.85"/><circle cx="1223.2" cy="1135.0" r="4.85"/><circle cx="1250.0" cy="1050.6" r="4.85"/><circle cx="1209.1" cy="1024.9" r="4.85"/><circle cx="1231.6" cy="1054.7" r="4.85"/><circle cx="1266.7" cy="1011.5" r="4.85"/><circle cx="1198.8" cy="1078.9" r="4.85"/><circle cx="1273.0" cy="986.9" r="4.85"/><circle cx="1280.6" cy="998.8" r="4.85"/><circle cx="1252.3" cy="1141.4" r="4.85"/><circle cx="1212.5" cy="1036.2" r="4.85"/><circle cx="1243.5" cy="1016.0" r="4.85"/><circle cx="1223.8" cy="1149.4" r="4.85"/><circle cx="1255.2" cy="990.9" r="4.85"/><circle cx="1233.2" cy="1054.8" r="4.85"/><circle cx="1175.3" cy="1115.1" r="4.85"/><circle cx="1243.3" cy="1010.2" r="4.85"/><circle cx="1206.9" cy="1016.8" r="4.85"/><circle cx="1242.7" cy="1053.1" r="4.85"/><circle cx="1190.1" cy="1045.8" r="4.85"/><circle cx="1181.4" cy="1095.9" r="4.85"/><circle cx="1285.8" cy="1054.3" r="4.85"/><circle cx="1211.5" cy="1120.1" r="4.85"/><circle cx="1288.5" cy="1011.3" r="4.85"/><circle cx="1288.6" cy="1008.3" r="4.85"/><circle cx="1221.2" cy="997.0" r="4.85"/><circle cx="1219.0" cy="990.6" r="4.85"/><circle cx="1236.5" cy="1040.3" r="4.85"/><circle cx="1205.3" cy="1116.5" r="4.85"/><circle cx="1177.5" cy="1125.6" r="4.85"/><circle cx="1279.8" cy="1099.9" r="4.85"/><circle cx="1181.0" cy="1136.7" r="4.85"/><circle cx="1204.6" cy="1002.7" r="4.85"/><circle cx="1239.9" cy="1077.3" r="4.85"/><circle cx="1254.6" cy="996.9" r="4.85"/><circle cx="1238.6" cy="989.4" r="4.85"/><circle cx="1231.8" cy="1032.4" r="4.85"/><circle cx="1279.0" cy="1011.2" r="4.85"/><circle cx="1251.7" cy="1042.3" r="4.85"/><circle cx="1251.7" cy="1077.0" r="4.85"/><circle cx="1252.9" cy="1001.3" r="4.85"/><circle cx="1279.2" cy="1013.2" r="4.85"/><circle cx="1254.6" cy="1132.6" r="4.85"/><circle cx="1207.3" cy="1081.6" r="4.85"/><circle cx="1204.5" cy="1126.9" r="4.85"/><circle cx="1213.7" cy="1014.4" r="4.85"/><circle cx="1199.1" cy="1001.4" r="4.85"/><circle cx="1163.6" cy="1101.4" r="4.85"/><circle cx="1260.9" cy="1012.9" r="4.85"/><circle cx="1172.4" cy="1073.9" r="4.85"/><circle cx="1175.6" cy="1102.0" r="4.85"/><circle cx="1201.1" cy="1144.5" r="4.85"/><circle cx="1213.7" cy="1083.0" r="4.85"/><circle cx="1241.4" cy="1089.7" r="4.85"/><circle cx="1172.1" cy="1114.7" r="4.85"/><circle cx="1233.7" cy="1148.4" r="4.85"/><circle cx="1280.3" cy="1103.0" r="4.85"/><circle cx="1235.3" cy="1135.5" r="4.85"/><circle cx="1237.2" cy="1013.8" r="4.85"/><circle cx="1260.4" cy="1038.6" r="4.85"/><circle cx="1262.5" cy="1127.6" r="4.85"/><circle cx="1195.2" cy="1117.5" r="4.85"/><circle cx="1256.3" cy="1076.6" r="4.85"/><circle cx="1215.2" cy="1071.1" r="4.85"/><circle cx="1265.2" cy="996.8" r="4.85"/><circle cx="1277.7" cy="1088.9" r="4.85"/><circle cx="1178.4" cy="1040.8" r="4.85"/><circle cx="1174.2" cy="1040.2" r="4.85"/><circle cx="1196.4" cy="1052.4" r="4.85"/><circle cx="1266.2" cy="1028.4" r="4.85"/><circle cx="1214.8" cy="1001.3" r="4.85"/><circle cx="1225.9" cy="1108.9" r="4.85"/><circle cx="1226.8" cy="1012.4" r="4.85"/><circle cx="1190.9" cy="1144.2" r="4.85"/><circle cx="1287.7" cy="1061.4" r="4.85"/><circle cx="1223.1" cy="1101.5" r="4.85"/><circle cx="1196.0" cy="1015.1" r="4.85"/><circle cx="1271.9" cy="1095.8" r="4.85"/><circle cx="1261.4" cy="984.3" r="4.85"/><circle cx="1219.6" cy="987.0" r="4.85"/><circle cx="1278.5" cy="1094.0" r="4.85"/><circle cx="1200.4" cy="1115.5" r="4.85"/><circle cx="1181.3" cy="1028.5" r="4.85"/><circle cx="1257.7" cy="1008.1" r="4.85"/><circle cx="1250.1" cy="1101.4" r="4.85"/><circle cx="1174.6" cy="1126.1" r="4.85"/><circle cx="1235.3" cy="1095.8" r="4.85"/><circle cx="1202.0" cy="1104.2" r="4.85"/><circle cx="1243.2" cy="1119.6" r="4.85"/><circle cx="1184.4" cy="1020.9" r="4.85"/><circle cx="1265.4" cy="1079.6" r="4.85"/><circle cx="1196.6" cy="1062.8" r="4.85"/><circle cx="1223.0" cy="1045.7" r="4.85"/><circle cx="1211.6" cy="1036.4" r="4.85"/><circle cx="1233.2" cy="1147.3" r="4.85"/><circle cx="1254.4" cy="994.8" r="4.85"/><circle cx="1228.7" cy="1125.8" r="4.85"/><circle cx="1204.0" cy="1128.1" r="4.85"/><circle cx="1277.0" cy="1011.0" r="4.85"/><circle cx="1203.2" cy="1109.3" r="4.85"/><circle cx="1179.9" cy="1093.0" r="4.85"/><circle cx="1273.0" cy="1117.1" r="4.85"/><circle cx="1263.4" cy="1053.5" r="4.85"/><circle cx="1209.4" cy="1008.0" r="4.85"/><circle cx="1244.1" cy="1092.7" r="4.85"/><circle cx="1258.2" cy="1092.9" r="4.85"/><circle cx="1180.7" cy="1115.7" r="4.85"/><circle cx="1225.6" cy="1008.2" r="4.85"/><circle cx="1227.2" cy="1131.6" r="4.85"/><circle cx="1275.4" cy="1022.1" r="4.85"/><circle cx="1237.0" cy="995.7" r="4.85"/><circle cx="1217.9" cy="1090.0" r="4.85"/><circle cx="1170.2" cy="1052.0" r="4.85"/><circle cx="1247.3" cy="983.9" r="4.85"/><circle cx="1163.8" cy="1102.9" r="4.85"/><circle cx="1222.2" cy="1083.8" r="4.85"/><circle cx="1168.6" cy="1062.1" r="4.85"/><circle cx="1205.2" cy="1087.6" r="4.85"/><circle cx="1276.7" cy="1102.8" r="4.85"/><circle cx="1232.3" cy="1106.2" r="4.85"/><circle cx="1245.7" cy="1054.0" r="4.85"/><circle cx="1253.5" cy="1129.0" r="4.85"/><circle cx="1248.8" cy="1032.7" r="4.85"/><circle cx="1278.5" cy="1000.6" r="4.85"/><circle cx="1269.7" cy="1054.0" r="4.85"/><circle cx="1171.3" cy="1059.8" r="4.85"/><circle cx="1238.8" cy="995.2" r="4.85"/><circle cx="1198.6" cy="1126.8" r="4.85"/><circle cx="1260.4" cy="1006.2" r="4.85"/><circle cx="1290.8" cy="1020.9" r="4.85"/><circle cx="1201.6" cy="1064.8" r="4.85"/><circle cx="1237.7" cy="1125.5" r="4.85"/><circle cx="1232.3" cy="1056.4" r="4.85"/><circle cx="1265.0" cy="1108.8" r="4.85"/><circle cx="1237.8" cy="1141.9" r="4.85"/><circle cx="1236.3" cy="1120.8" r="4.85"/><circle cx="1200.1" cy="1093.1" r="4.85"/><circle cx="1197.2" cy="1118.4" r="4.85"/><circle cx="1204.7" cy="1074.9" r="4.85"/><circle cx="1275.7" cy="1112.6" r="4.85"/><circle cx="1222.8" cy="1039.4" r="4.85"/><circle cx="1235.0" cy="1025.0" r="4.85"/><circle cx="1243.3" cy="1043.1" r="4.85"/><circle cx="1242.4" cy="1072.6" r="4.85"/><circle cx="1228.2" cy="1139.4" r="4.85"/><circle cx="1243.7" cy="1115.8" r="4.85"/><circle cx="1255.9" cy="1074.8" r="4.85"/><circle cx="1252.2" cy="1100.7" r="4.85"/><circle cx="1179.7" cy="1054.4" r="4.85"/><circle cx="1275.0" cy="1102.2" r="4.85"/><circle cx="1265.2" cy="1009.4" r="4.85"/><circle cx="1270.3" cy="1068.1" r="4.85"/><circle cx="1286.3" cy="1037.5" r="4.85"/><circle cx="1170.4" cy="1070.2" r="4.85"/><circle cx="1230.2" cy="1150.0" r="4.85"/><circle cx="1205.5" cy="1019.2" r="4.85"/><circle cx="1247.7" cy="986.8" r="4.85"/><circle cx="1265.6" cy="1109.6" r="4.85"/><circle cx="1281.0" cy="1085.9" r="4.85"/><circle cx="1263.7" cy="1124.7" r="4.85"/><circle cx="1280.1" cy="995.9" r="4.85"/><circle cx="1232.4" cy="1055.0" r="4.85"/><circle cx="1192.6" cy="1102.0" r="4.85"/><circle cx="1182.9" cy="1100.1" r="4.85"/><circle cx="1181.5" cy="1059.0" r="4.85"/><circle cx="1229.8" cy="1091.7" r="4.85"/><circle cx="1209.8" cy="995.1" r="4.85"/><circle cx="1212.1" cy="1144.6" r="4.85"/><circle cx="1184.9" cy="1018.9" r="4.85"/><circle cx="1210.5" cy="1133.9" r="4.85"/><circle cx="1239.0" cy="1078.8" r="4.85"/><circle cx="1181.5" cy="1104.2" r="4.85"/><circle cx="1270.0" cy="1046.5" r="4.85"/><circle cx="1177.4" cy="1095.2" r="4.85"/><circle cx="1250.1" cy="1075.6" r="4.85"/><circle cx="1200.3" cy="1021.9" r="4.85"/><circle cx="1278.7" cy="1025.3" r="4.85"/><circle cx="1180.7" cy="1040.8" r="4.85"/><circle cx="1245.4" cy="1021.3" r="4.85"/><circle cx="1262.8" cy="1045.3" r="4.85"/><circle cx="1215.0" cy="1013.2" r="4.85"/><circle cx="1204.0" cy="1124.8" r="4.85"/><circle cx="1188.9" cy="1048.6" r="4.85"/><circle cx="1223.8" cy="1060.9" r="4.85"/><circle cx="1219.4" cy="1061.7" r="4.85"/><circle cx="1213.2" cy="1057.1" r="4.85"/><circle cx="1293.7" cy="1059.9" r="4.85"/><circle cx="1183.1" cy="1133.1" r="4.85"/><circle cx="1194.2" cy="1031.5" r="4.85"/><circle cx="1193.1" cy="1067.9" r="4.85"/><circle cx="1288.9" cy="1061.5" r="4.85"/><circle cx="1195.0" cy="1011.0" r="4.85"/><circle cx="1203.0" cy="1099.8" r="4.85"/><circle cx="1188.8" cy="1128.7" r="4.85"/><circle cx="1267.4" cy="1064.8" r="4.85"/><circle cx="1204.8" cy="1098.1" r="4.85"/><circle cx="1206.2" cy="1114.5" r="4.85"/><circle cx="1199.4" cy="1027.5" r="4.85"/><circle cx="1177.0" cy="1112.5" r="4.85"/><circle cx="1275.7" cy="992.1" r="4.85"/><circle cx="1292.0" cy="1060.7" r="4.85"/><circle cx="1272.4" cy="1074.7" r="4.85"/><circle cx="1185.9" cy="1118.4" r="4.85"/><circle cx="1221.2" cy="1068.7" r="4.85"/><circle cx="1189.9" cy="1075.6" r="4.85"/><circle cx="1280.4" cy="1012.9" r="4.85"/><circle cx="1239.5" cy="1023.9" r="4.85"/><circle cx="1174.2" cy="1108.3" r="4.85"/><circle cx="1282.6" cy="999.6" r="4.85"/><circle cx="1205.7" cy="1094.4" r="4.85"/><circle cx="1271.7" cy="1108.9" r="4.85"/><circle cx="1224.6" cy="1060.8" r="4.85"/><circle cx="1187.9" cy="1117.9" r="4.85"/><circle cx="1212.8" cy="1013.6" r="4.85"/><circle cx="1192.7" cy="1090.2" r="4.85"/><circle cx="1216.3" cy="1068.5" r="4.85"/><circle cx="1241.7" cy="1071.2" r="4.85"/><circle cx="1202.8" cy="1038.0" r="4.85"/><circle cx="1182.9" cy="1062.1" r="4.85"/><circle cx="1230.7" cy="1140.9" r="4.85"/><circle cx="1230.9" cy="1094.3" r="4.85"/><circle cx="1164.1" cy="1096.4" r="4.85"/><circle cx="1190.5" cy="1147.1" r="4.85"/><circle cx="1256.1" cy="1049.1" r="4.85"/><circle cx="1215.9" cy="1035.9" r="4.85"/><circle cx="1282.0" cy="1073.3" r="4.85"/><circle cx="1234.3" cy="997.8" r="4.85"/><circle cx="1199.0" cy="1085.0" r="4.85"/><circle cx="1228.9" cy="1091.1" r="4.85"/><circle cx="1239.0" cy="1014.2" r="4.85"/><circle cx="1281.3" cy="1065.4" r="4.85"/><circle cx="1201.3" cy="1029.7" r="4.85"/><circle cx="1258.4" cy="1096.6" r="4.85"/><circle cx="1223.0" cy="1112.5" r="4.85"/><circle cx="1234.0" cy="1115.7" r="4.85"/><circle cx="1172.4" cy="1125.7" r="4.85"/><circle cx="1174.6" cy="1119.0" r="4.85"/><circle cx="1207.4" cy="1106.6" r="4.85"/><circle cx="1198.3" cy="1006.9" r="4.85"/><circle cx="1228.3" cy="1150.9" r="4.85"/><circle cx="1226.6" cy="1139.6" r="4.85"/><circle cx="1235.1" cy="981.4" r="4.85"/><circle cx="1222.9" cy="1097.7" r="4.85"/><circle cx="1193.9" cy="1121.8" r="4.85"/><circle cx="1267.7" cy="1039.0" r="4.85"/><circle cx="1279.8" cy="1054.3" r="4.85"/><circle cx="1172.8" cy="1055.9" r="4.85"/><circle cx="1258.7" cy="1028.7" r="4.85"/><circle cx="1262.4" cy="1010.5" r="4.85"/><circle cx="1246.1" cy="1036.2" r="4.85"/><circle cx="1235.6" cy="1091.4" r="4.85"/><circle cx="1268.5" cy="1089.6" r="4.85"/><circle cx="1228.3" cy="1103.2" r="4.85"/><circle cx="1232.4" cy="1018.4" r="4.85"/><circle cx="1215.5" cy="1062.8" r="4.85"/><circle cx="1212.0" cy="1048.1" r="4.85"/><circle cx="1232.0" cy="1050.3" r="4.85"/><circle cx="1263.3" cy="999.7" r="4.85"/><circle cx="1249.6" cy="1058.5" r="4.85"/><circle cx="1252.1" cy="1029.4" r="4.85"/><circle cx="1257.6" cy="1062.7" r="4.85"/><circle cx="1266.6" cy="1042.7" r="4.85"/><circle cx="1269.2" cy="1004.9" r="4.85"/><circle cx="1265.8" cy="1008.3" r="4.85"/><circle cx="1278.4" cy="1035.7" r="4.85"/><circle cx="1248.6" cy="1072.0" r="4.85"/><circle cx="1254.6" cy="1034.4" r="4.85"/><circle cx="1265.5" cy="1078.0" r="4.85"/><circle cx="1224.4" cy="1060.6" r="4.85"/><circle cx="1194.8" cy="1053.9" r="4.85"/><circle cx="1278.9" cy="995.1" r="4.85"/><circle cx="1272.6" cy="1014.7" r="4.85"/><circle cx="1285.6" cy="1025.8" r="4.85"/><circle cx="1226.7" cy="1017.7" r="4.85"/><circle cx="1273.0" cy="1024.7" r="4.85"/><circle cx="1259.1" cy="1041.2" r="4.85"/><circle cx="1246.0" cy="1059.0" r="4.85"/><circle cx="1273.4" cy="1026.5" r="4.85"/><circle cx="1233.8" cy="1003.7" r="4.85"/><circle cx="1250.5" cy="1037.4" r="4.85"/><circle cx="1227.0" cy="1019.2" r="4.85"/><circle cx="1239.5" cy="1032.1" r="4.85"/><circle cx="1256.3" cy="1023.9" r="4.85"/><circle cx="1266.5" cy="1024.7" r="4.85"/><circle cx="1267.4" cy="1031.7" r="4.85"/><circle cx="1236.0" cy="1040.7" r="4.85"/><circle cx="1270.2" cy="1032.0" r="4.85"/><circle cx="1235.2" cy="1066.0" r="4.85"/><circle cx="1229.6" cy="1055.4" r="4.85"/><circle cx="1195.6" cy="1049.8" r="4.85"/><circle cx="1248.8" cy="1014.2" r="4.85"/><circle cx="1254.3" cy="1055.3" r="4.85"/><circle cx="1240.7" cy="1058.0" r="4.85"/><circle cx="1232.5" cy="1000.0" r="4.85"/><circle cx="1252.2" cy="1060.6" r="4.85"/><circle cx="1220.5" cy="1039.4" r="4.85"/><circle cx="1246.4" cy="1020.8" r="4.85"/><circle cx="1255.4" cy="1073.8" r="4.85"/><circle cx="1256.1" cy="1072.8" r="4.85"/><circle cx="1225.3" cy="1084.4" r="4.85"/><circle cx="1245.3" cy="1012.7" r="4.85"/><circle cx="1229.1" cy="1033.2" r="4.85"/><circle cx="1217.0" cy="995.1" r="4.85"/><circle cx="1300.0" cy="1045.2" r="4.85"/><circle cx="1220.2" cy="1059.6" r="4.85"/><circle cx="1225.4" cy="1033.4" r="4.85"/><circle cx="1285.3" cy="1045.9" r="4.85"/><circle cx="1245.5" cy="1079.0" r="4.85"/><circle cx="1199.8" cy="1055.4" r="4.85"/><circle cx="1268.1" cy="1067.1" r="4.85"/><circle cx="1269.6" cy="1050.1" r="4.85"/><circle cx="1256.2" cy="1075.0" r="4.85"/><circle cx="1196.3" cy="1077.2" r="4.85"/><circle cx="1195.1" cy="1043.0" r="4.85"/><circle cx="1235.6" cy="970.2" r="4.85"/><circle cx="1236.9" cy="1066.7" r="4.85"/><circle cx="1230.8" cy="1071.6" r="4.85"/><circle cx="1249.2" cy="1035.2" r="4.85"/><circle cx="1185.4" cy="1035.9" r="4.85"/><circle cx="1241.1" cy="1010.6" r="4.85"/><circle cx="1225.1" cy="1045.1" r="4.85"/><circle cx="1231.8" cy="1072.5" r="4.85"/><circle cx="1283.6" cy="1017.2" r="4.85"/><circle cx="1239.3" cy="1056.0" r="4.85"/><circle cx="1218.6" cy="1046.2" r="4.85"/><circle cx="1227.2" cy="1071.7" r="4.85"/><circle cx="1236.5" cy="1056.4" r="4.85"/><circle cx="1267.7" cy="1060.7" r="4.85"/><circle cx="1203.2" cy="1027.0" r="4.85"/><circle cx="1237.5" cy="1072.6" r="4.85"/><circle cx="1267.7" cy="1016.1" r="4.85"/><circle cx="1195.8" cy="1034.6" r="4.85"/><circle cx="1265.4" cy="994.9" r="4.85"/><circle cx="1247.8" cy="1060.6" r="4.85"/><circle cx="1237.6" cy="1008.0" r="4.85"/><circle cx="1232.8" cy="1016.8" r="4.85"/><circle cx="1215.3" cy="1060.6" r="4.85"/><circle cx="1252.7" cy="1026.3" r="4.85"/><circle cx="1254.9" cy="1089.9" r="4.85"/><circle cx="1268.4" cy="1011.5" r="4.85"/><circle cx="1262.7" cy="1066.8" r="4.85"/><circle cx="1269.8" cy="1046.7" r="4.85"/><circle cx="1214.9" cy="1049.1" r="4.85"/><circle cx="1208.2" cy="1078.3" r="4.85"/><circle cx="1252.4" cy="1043.7" r="4.85"/><circle cx="1215.6" cy="1000.5" r="4.85"/><circle cx="1230.7" cy="1072.6" r="4.85"/><circle cx="1230.8" cy="1053.8" r="4.85"/><circle cx="1242.7" cy="1039.5" r="4.85"/><circle cx="1246.1" cy="1057.8" r="4.85"/><circle cx="1223.8" cy="1033.6" r="4.85"/><circle cx="1235.7" cy="1058.8" r="4.85"/><circle cx="1253.5" cy="1041.6" r="4.85"/><circle cx="1218.3" cy="1064.9" r="4.85"/><circle cx="1256.2" cy="1030.8" r="4.85"/><circle cx="1235.1" cy="1002.3" r="4.85"/><circle cx="1237.7" cy="1053.2" r="4.85"/><circle cx="1244.6" cy="1057.2" r="4.85"/><circle cx="1218.4" cy="1036.0" r="4.85"/><circle cx="1250.0" cy="1041.1" r="4.85"/><circle cx="1236.9" cy="1091.7" r="4.85"/><circle cx="1254.0" cy="1115.9" r="4.85"/><circle cx="1254.3" cy="1058.0" r="4.85"/><circle cx="1219.3" cy="1088.7" r="4.85"/><circle cx="1244.5" cy="997.4" r="4.85"/><circle cx="1265.8" cy="1059.3" r="4.85"/><circle cx="1242.6" cy="1068.9" r="4.85"/><circle cx="1250.8" cy="1064.8" r="4.85"/><circle cx="1228.4" cy="1015.6" r="4.85"/><circle cx="1218.2" cy="1074.6" r="4.85"/><circle cx="1258.5" cy="1082.9" r="4.85"/><circle cx="1189.6" cy="1072.5" r="4.85"/><circle cx="1219.4" cy="1036.8" r="4.85"/><circle cx="1259.4" cy="1043.7" r="4.85"/><circle cx="1270.3" cy="995.2" r="4.85"/><circle cx="1230.9" cy="1073.3" r="4.85"/><circle cx="1251.5" cy="1083.8" r="4.85"/><circle cx="1210.6" cy="1045.9" r="4.85"/><circle cx="1267.2" cy="1049.3" r="4.85"/><circle cx="1259.3" cy="1021.9" r="4.85"/><circle cx="1218.6" cy="985.1" r="4.85"/><circle cx="1216.3" cy="1043.3" r="4.85"/><circle cx="1242.7" cy="1094.8" r="4.85"/><circle cx="1270.5" cy="1016.3" r="4.85"/><circle cx="1267.7" cy="1053.3" r="4.85"/><circle cx="1229.3" cy="984.5" r="4.85"/><circle cx="1264.3" cy="1025.9" r="4.85"/><circle cx="1248.6" cy="1009.5" r="4.85"/><circle cx="1198.4" cy="1025.6" r="4.85"/><circle cx="1262.8" cy="1025.4" r="4.85"/><circle cx="1236.0" cy="1034.7" r="4.85"/><circle cx="1258.2" cy="1075.5" r="4.85"/><circle cx="1221.1" cy="1024.5" r="4.85"/><circle cx="1230.8" cy="1046.5" r="4.85"/><circle cx="1235.7" cy="1041.6" r="4.85"/><circle cx="1276.7" cy="1002.5" r="4.85"/><circle cx="1242.7" cy="1069.7" r="4.85"/><circle cx="1288.0" cy="1025.0" r="4.85"/><circle cx="1255.1" cy="1033.1" r="4.85"/><circle cx="1257.0" cy="1072.0" r="4.85"/><circle cx="1200.0" cy="1040.8" r="4.85"/><circle cx="1266.2" cy="1057.1" r="4.85"/><circle cx="1246.7" cy="1049.9" r="4.85"/><circle cx="1202.5" cy="1064.2" r="4.85"/><circle cx="1254.2" cy="1069.2" r="4.85"/><circle cx="1225.1" cy="1068.8" r="4.85"/><circle cx="1234.8" cy="1086.0" r="4.85"/><circle cx="1268.1" cy="1040.1" r="4.85"/><circle cx="1253.8" cy="994.7" r="4.85"/><circle cx="1226.6" cy="1046.5" r="4.85"/><circle cx="1266.0" cy="1046.4" r="4.85"/><circle cx="1246.7" cy="1027.9" r="4.85"/><circle cx="1237.3" cy="982.0" r="4.85"/><circle cx="1241.2" cy="1053.6" r="4.85"/><circle cx="1232.2" cy="1073.8" r="4.85"/><circle cx="1202.2" cy="1040.8" r="4.85"/><circle cx="1233.4" cy="1025.9" r="4.85"/><circle cx="1277.1" cy="1056.3" r="4.85"/><circle cx="1258.1" cy="1082.5" r="4.85"/><circle cx="1277.7" cy="1046.9" r="4.85"/><circle cx="1238.2" cy="1071.3" r="4.85"/><circle cx="1222.9" cy="1117.3" r="4.85"/><circle cx="1204.3" cy="1078.0" r="4.85"/><circle cx="1250.9" cy="1014.7" r="4.85"/><circle cx="1200.6" cy="1068.0" r="4.85"/><circle cx="1221.2" cy="1055.4" r="4.85"/><circle cx="1266.2" cy="1041.4" r="4.85"/><circle cx="1272.6" cy="999.1" r="4.85"/><circle cx="1199.5" cy="1007.0" r="4.85"/><circle cx="1278.7" cy="1025.3" r="4.85"/><circle cx="1222.5" cy="1093.7" r="4.85"/><circle cx="1266.4" cy="1030.6" r="4.85"/><circle cx="1218.5" cy="1054.4" r="4.85"/><circle cx="1266.8" cy="1017.3" r="4.85"/><circle cx="1192.3" cy="999.7" r="4.85"/><circle cx="1241.1" cy="1018.0" r="4.85"/><circle cx="1231.7" cy="1062.5" r="4.85"/><circle cx="1244.8" cy="1035.3" r="4.85"/><circle cx="1263.1" cy="1080.8" r="4.85"/><circle cx="1253.1" cy="1026.8" r="4.85"/><circle cx="1234.4" cy="1057.1" r="4.85"/><circle cx="1253.2" cy="1035.7" r="4.85"/><circle cx="1241.8" cy="1067.7" r="4.85"/><circle cx="1238.5" cy="1064.5" r="4.85"/><circle cx="1214.8" cy="1087.1" r="4.85"/><circle cx="1229.2" cy="1064.0" r="4.85"/><circle cx="1220.9" cy="1048.3" r="4.85"/></g>
<path d="M1086.70,945.00 V1264.60 M1073.20,1264.60 H1408.50" stroke="#000" stroke-width="3.2" fill="none"/>
<text transform="translate(1054.71,1274.00) scale(0.9400,1)" font-size="25.80" font-weight="bold" font-style="normal" fill="#000" stroke="#000" stroke-width="0.12">0</text>
<path d="M1073.20,1200.68 H1086.70" stroke="#000" stroke-width="3.2"/>
<text transform="translate(1041.25,1210.08) scale(0.9400,1)" font-size="25.80" font-weight="bold" font-style="normal" fill="#000" stroke="#000" stroke-width="0.12">20</text>
<path d="M1073.20,1136.76 H1086.70" stroke="#000" stroke-width="3.2"/>
<text transform="translate(1041.25,1146.16) scale(0.9400,1)" font-size="25.80" font-weight="bold" font-style="normal" fill="#000" stroke="#000" stroke-width="0.12">40</text>
<path d="M1073.20,1072.84 H1086.70" stroke="#000" stroke-width="3.2"/>
<text transform="translate(1041.25,1082.24) scale(0.9400,1)" font-size="25.80" font-weight="bold" font-style="normal" fill="#000" stroke="#000" stroke-width="0.12">60</text>
<path d="M1073.20,1008.92 H1086.70" stroke="#000" stroke-width="3.2"/>
<text transform="translate(1041.25,1018.32) scale(0.9400,1)" font-size="25.80" font-weight="bold" font-style="normal" fill="#000" stroke="#000" stroke-width="0.12">80</text>
<path d="M1073.20,945.00 H1086.70" stroke="#000" stroke-width="3.2"/>
<text transform="translate(1027.73,954.40) scale(0.9400,1)" font-size="25.80" font-weight="bold" font-style="normal" fill="#000" stroke="#000" stroke-width="0.12">100</text>
<path d="M1086.70,1264.60 V1278.60" stroke="#000" stroke-width="3.2"/>
<text transform="translate(1080.07,1306.00) scale(0.9300,1)" font-size="25.80" font-weight="bold" font-style="normal" fill="#000" stroke="#000" stroke-width="0.12">2</text>
<path d="M1166.72,1264.60 V1278.60" stroke="#000" stroke-width="3.2"/>
<text transform="translate(1160.22,1306.00) scale(0.9300,1)" font-size="25.80" font-weight="bold" font-style="normal" fill="#000" stroke="#000" stroke-width="0.12">3</text>
<path d="M1246.75,1264.60 V1278.60" stroke="#000" stroke-width="3.2"/>
<text transform="translate(1239.97,1305.87) scale(0.9300,1)" font-size="25.80" font-weight="bold" font-style="normal" fill="#000" stroke="#000" stroke-width="0.12">4</text>
<path d="M1326.78,1264.60 V1278.60" stroke="#000" stroke-width="3.2"/>
<text transform="translate(1320.09,1305.87) scale(0.9300,1)" font-size="25.80" font-weight="bold" font-style="normal" fill="#000" stroke="#000" stroke-width="0.12">5</text>
<path d="M1406.80,1264.60 V1278.60" stroke="#000" stroke-width="3.2"/>
<text transform="translate(1400.11,1306.00) scale(0.9300,1)" font-size="25.80" font-weight="bold" font-style="normal" fill="#000" stroke="#000" stroke-width="0.12">6</text>
<text transform="translate(1012.90,1204.67) rotate(-90) scale(0.9425,1)" font-size="27.76" font-weight="normal" font-style="normal" fill="#000" stroke="#000" stroke-width="0.35">AR activity Score</text>
<text transform="translate(1290.93,967.10) scale(0.9550,1)" font-size="20.40" font-weight="normal" font-style="normal" fill="#0000ff" stroke="#0000ff" stroke-width="0.35">r =0.378</text>
<text transform="translate(1292.15,989.80) scale(0.9600,1)" font-size="19.80" font-weight="normal" font-style="normal" fill="#0000ff" stroke="#0000ff" stroke-width="0.35">Adj p-val = 0</text>
<path d="M1678.8,1106 L1947.2,1221.3" stroke="#ff0000" stroke-width="4.6" stroke-linecap="round"/>
<g fill="none" stroke="#000" stroke-width="1.75"><circle cx="1679.9" cy="1202.3" r="4.85"/><circle cx="1695.1" cy="1231.5" r="4.85"/><circle cx="1696.7" cy="1179.9" r="4.85"/><circle cx="1701.5" cy="1221.5" r="4.85"/><circle cx="1691.1" cy="1048.5" r="4.85"/><circle cx="1707.1" cy="1030.6" r="4.85"/><circle cx="1708.7" cy="1038.3" r="4.85"/><circle cx="1724.7" cy="1016.5" r="4.85"/><circle cx="1729.5" cy="996.3" r="4.85"/><circle cx="1732.7" cy="998.5" r="4.85"/><circle cx="1743.1" cy="945.3" r="4.85"/><circle cx="1744.7" cy="981.2" r="4.85"/><circle cx="1753.6" cy="980.6" r="4.85"/><circle cx="1796.8" cy="983.1" r="4.85"/><circle cx="1781.6" cy="1007.8" r="4.85"/><circle cx="1769.6" cy="1012.6" r="4.85"/><circle cx="1788.0" cy="1024.8" r="4.85"/><circle cx="1753.6" cy="1024.5" r="4.85"/><circle cx="1756.0" cy="1039.2" r="4.85"/><circle cx="1772.8" cy="1039.9" r="4.85"/><circle cx="1828.9" cy="1099.8" r="4.85"/><circle cx="1836.1" cy="1086.3" r="4.85"/><circle cx="1819.2" cy="1106.8" r="4.85"/><circle cx="1812.8" cy="1118.0" r="4.85"/><circle cx="1824.0" cy="1140.5" r="4.85"/><circle cx="1853.7" cy="1137.9" r="4.85"/><circle cx="1842.5" cy="1151.7" r="4.85"/><circle cx="1830.5" cy="1182.8" r="4.85"/><circle cx="1844.1" cy="1185.6" r="4.85"/><circle cx="1845.7" cy="1201.0" r="4.85"/><circle cx="1853.7" cy="1199.1" r="4.85"/><circle cx="1847.3" cy="1216.4" r="4.85"/><circle cx="1852.1" cy="1225.7" r="4.85"/><circle cx="1824.0" cy="1220.6" r="4.85"/><circle cx="1822.4" cy="1232.7" r="4.85"/><circle cx="1836.9" cy="1242.7" r="4.85"/><circle cx="1831.3" cy="1250.7" r="4.85"/><circle cx="1809.6" cy="1255.2" r="4.85"/><circle cx="1806.4" cy="1262.9" r="4.85"/><circle cx="1792.8" cy="1249.7" r="4.85"/><circle cx="1775.2" cy="1257.1" r="4.85"/><circle cx="1750.4" cy="1265.1" r="4.85"/><circle cx="1725.5" cy="1235.6" r="4.85"/><circle cx="1740.7" cy="1240.4" r="4.85"/><circle cx="1804.8" cy="1236.9" r="4.85"/><circle cx="1771.2" cy="1241.1" r="4.85"/><circle cx="1760.8" cy="1247.5" r="4.85"/><circle cx="1747.2" cy="1171.0" r="4.85"/><circle cx="1756.7" cy="1086.4" r="4.85"/><circle cx="1823.6" cy="1130.9" r="4.85"/><circle cx="1826.2" cy="1163.2" r="4.85"/><circle cx="1769.7" cy="1152.2" r="4.85"/><circle cx="1829.8" cy="1117.6" r="4.85"/><circle cx="1771.0" cy="1163.5" r="4.85"/><circle cx="1770.9" cy="1150.4" r="4.85"/><circle cx="1771.4" cy="1231.8" r="4.85"/><circle cx="1812.9" cy="1108.8" r="4.85"/><circle cx="1787.1" cy="1108.7" r="4.85"/><circle cx="1810.9" cy="1164.2" r="4.85"/><circle cx="1779.8" cy="1195.1" r="4.85"/><circle cx="1777.9" cy="1115.9" r="4.85"/><circle cx="1778.6" cy="1203.6" r="4.85"/><circle cx="1759.9" cy="1126.2" r="4.85"/><circle cx="1751.1" cy="1107.0" r="4.85"/><circle cx="1755.1" cy="1146.0" r="4.85"/><circle cx="1731.2" cy="1129.3" r="4.85"/><circle cx="1733.2" cy="1189.6" r="4.85"/><circle cx="1761.0" cy="1115.2" r="4.85"/><circle cx="1772.3" cy="1196.1" r="4.85"/><circle cx="1779.6" cy="1106.3" r="4.85"/><circle cx="1732.6" cy="1208.7" r="4.85"/><circle cx="1818.7" cy="1183.3" r="4.85"/><circle cx="1778.4" cy="1147.2" r="4.85"/><circle cx="1771.9" cy="1179.4" r="4.85"/><circle cx="1724.6" cy="1096.1" r="4.85"/><circle cx="1793.9" cy="1064.2" r="4.85"/><circle cx="1770.1" cy="1075.9" r="4.85"/><circle cx="1770.8" cy="1049.7" r="4.85"/><circle cx="1726.6" cy="1173.0" r="4.85"/><circle cx="1805.8" cy="1165.5" r="4.85"/><circle cx="1778.7" cy="1070.7" r="4.85"/><circle cx="1707.0" cy="1107.9" r="4.85"/><circle cx="1771.1" cy="1157.4" r="4.85"/><circle cx="1769.5" cy="1081.0" r="4.85"/><circle cx="1821.1" cy="1137.3" r="4.85"/><circle cx="1766.8" cy="1064.3" r="4.85"/><circle cx="1763.0" cy="1179.7" r="4.85"/><circle cx="1767.5" cy="1111.8" r="4.85"/><circle cx="1735.5" cy="1089.3" r="4.85"/><circle cx="1753.8" cy="1224.6" r="4.85"/><circle cx="1796.4" cy="1074.5" r="4.85"/><circle cx="1740.9" cy="1222.6" r="4.85"/><circle cx="1781.9" cy="1108.6" r="4.85"/><circle cx="1774.7" cy="1161.2" r="4.85"/><circle cx="1713.6" cy="1089.1" r="4.85"/><circle cx="1705.8" cy="1115.2" r="4.85"/><circle cx="1717.5" cy="1141.4" r="4.85"/><circle cx="1781.2" cy="1194.3" r="4.85"/><circle cx="1803.8" cy="1196.9" r="4.85"/><circle cx="1818.5" cy="1173.6" r="4.85"/><circle cx="1794.9" cy="1157.6" r="4.85"/><circle cx="1746.7" cy="1216.9" r="4.85"/><circle cx="1785.0" cy="1232.5" r="4.85"/><circle cx="1766.2" cy="1160.6" r="4.85"/><circle cx="1743.1" cy="1185.7" r="4.85"/><circle cx="1768.7" cy="1069.7" r="4.85"/><circle cx="1809.0" cy="1188.1" r="4.85"/><circle cx="1782.8" cy="1120.7" r="4.85"/><circle cx="1799.6" cy="1125.1" r="4.85"/><circle cx="1808.3" cy="1196.6" r="4.85"/><circle cx="1779.4" cy="1231.0" r="4.85"/><circle cx="1781.0" cy="1186.2" r="4.85"/><circle cx="1736.0" cy="1133.4" r="4.85"/><circle cx="1771.3" cy="1175.2" r="4.85"/><circle cx="1784.5" cy="1107.4" r="4.85"/><circle cx="1715.8" cy="1181.0" r="4.85"/><circle cx="1818.8" cy="1121.6" r="4.85"/><circle cx="1726.6" cy="1127.3" r="4.85"/><circle cx="1752.5" cy="1206.2" r="4.85"/><circle cx="1758.1" cy="1135.0" r="4.85"/><circle cx="1791.0" cy="1073.9" r="4.85"/><circle cx="1753.0" cy="1111.5" r="4.85"/><circle cx="1756.6" cy="1150.4" r="4.85"/><circle cx="1795.0" cy="1101.8" r="4.85"/><circle cx="1750.3" cy="1174.4" r="4.85"/><circle cx="1763.3" cy="1056.4" r="4.85"/><circle cx="1744.2" cy="1190.5" r="4.85"/><circle cx="1761.3" cy="1173.7" r="4.85"/><circle cx="1758.8" cy="1136.1" r="4.85"/><circle cx="1719.6" cy="1083.9" r="4.85"/><circle cx="1787.9" cy="1098.1" r="4.85"/><circle cx="1762.6" cy="1204.1" r="4.85"/><circle cx="1802.2" cy="1078.1" r="4.85"/><circle cx="1821.9" cy="1111.0" r="4.85"/><circle cx="1721.2" cy="1173.3" r="4.85"/><circle cx="1795.4" cy="1236.7" r="4.85"/><circle cx="1741.9" cy="1159.4" r="4.85"/><circle cx="1740.7" cy="1111.1" r="4.85"/><circle cx="1801.4" cy="1156.3" r="4.85"/><circle cx="1802.2" cy="1198.6" r="4.85"/><circle cx="1798.4" cy="1214.9" r="4.85"/><circle cx="1787.4" cy="1091.1" r="4.85"/><circle cx="1712.9" cy="1174.0" r="4.85"/><circle cx="1748.2" cy="1065.1" r="4.85"/><circle cx="1713.8" cy="1149.1" r="4.85"/><circle cx="1776.1" cy="1154.2" r="4.85"/><circle cx="1794.5" cy="1189.4" r="4.85"/><circle cx="1766.7" cy="1072.1" r="4.85"/><circle cx="1734.1" cy="1128.8" r="4.85"/><circle cx="1745.5" cy="1144.1" r="4.85"/><circle cx="1712.5" cy="1169.9" r="4.85"/><circle cx="1791.2" cy="1136.5" r="4.85"/><circle cx="1765.4" cy="1233.6" r="4.85"/><circle cx="1804.3" cy="1227.4" r="4.85"/><circle cx="1796.5" cy="1166.5" r="4.85"/><circle cx="1750.9" cy="1227.5" r="4.85"/><circle cx="1827.8" cy="1132.6" r="4.85"/><circle cx="1749.2" cy="1204.3" r="4.85"/><circle cx="1821.7" cy="1181.4" r="4.85"/><circle cx="1721.2" cy="1139.5" r="4.85"/><circle cx="1752.4" cy="1078.5" r="4.85"/><circle cx="1794.0" cy="1104.6" r="4.85"/><circle cx="1804.3" cy="1079.3" r="4.85"/><circle cx="1766.1" cy="1114.2" r="4.85"/><circle cx="1781.8" cy="1156.9" r="4.85"/><circle cx="1722.3" cy="1125.5" r="4.85"/><circle cx="1773.9" cy="1173.7" r="4.85"/><circle cx="1800.5" cy="1075.0" r="4.85"/><circle cx="1771.6" cy="1166.9" r="4.85"/><circle cx="1771.6" cy="1097.9" r="4.85"/><circle cx="1744.3" cy="1075.6" r="4.85"/><circle cx="1791.5" cy="1108.6" r="4.85"/><circle cx="1782.9" cy="1229.0" r="4.85"/><circle cx="1789.7" cy="1076.7" r="4.85"/><circle cx="1792.5" cy="1082.0" r="4.85"/><circle cx="1723.8" cy="1142.7" r="4.85"/><circle cx="1799.0" cy="1063.2" r="4.85"/><circle cx="1736.1" cy="1183.8" r="4.85"/><circle cx="1789.8" cy="1164.5" r="4.85"/><circle cx="1826.0" cy="1120.8" r="4.85"/><circle cx="1796.1" cy="1070.4" r="4.85"/><circle cx="1760.3" cy="1112.5" r="4.85"/><circle cx="1799.8" cy="1071.6" r="4.85"/><circle cx="1731.6" cy="1136.4" r="4.85"/><circle cx="1710.3" cy="1145.9" r="4.85"/><circle cx="1756.5" cy="1114.5" r="4.85"/><circle cx="1789.3" cy="1078.6" r="4.85"/><circle cx="1741.7" cy="1180.6" r="4.85"/><circle cx="1782.9" cy="1215.7" r="4.85"/><circle cx="1804.4" cy="1223.9" r="4.85"/><circle cx="1814.6" cy="1192.3" r="4.85"/><circle cx="1827.0" cy="1129.4" r="4.85"/><circle cx="1805.9" cy="1207.6" r="4.85"/><circle cx="1793.0" cy="1117.7" r="4.85"/><circle cx="1757.3" cy="1130.2" r="4.85"/><circle cx="1775.2" cy="1078.6" r="4.85"/><circle cx="1770.2" cy="1220.0" r="4.85"/><circle cx="1787.8" cy="1055.9" r="4.85"/><circle cx="1732.9" cy="1206.1" r="4.85"/><circle cx="1772.0" cy="1201.1" r="4.85"/><circle cx="1819.1" cy="1146.9" r="4.85"/><circle cx="1763.6" cy="1110.0" r="4.85"/><circle cx="1758.0" cy="1128.6" r="4.85"/><circle cx="1712.9" cy="1122.4" r="4.85"/><circle cx="1778.3" cy="1199.3" r="4.85"/><circle cx="1728.4" cy="1147.0" r="4.85"/><circle cx="1797.8" cy="1181.8" r="4.85"/><circle cx="1747.9" cy="1057.0" r="4.85"/><circle cx="1739.7" cy="1118.4" r="4.85"/><circle cx="1799.5" cy="1191.2" r="4.85"/><circle cx="1826.4" cy="1202.6" r="4.85"/><circle cx="1774.0" cy="1129.2" r="4.85"/><circle cx="1710.3" cy="1166.3" r="4.85"/><circle cx="1705.9" cy="1145.4" r="4.85"/><circle cx="1797.4" cy="1170.0" r="4.85"/><circle cx="1778.6" cy="1209.7" r="4.85"/><circle cx="1731.7" cy="1167.9" r="4.85"/><circle cx="1738.2" cy="1096.0" r="4.85"/><circle cx="1807.2" cy="1187.5" r="4.85"/><circle cx="1814.7" cy="1180.9" r="4.85"/><circle cx="1814.0" cy="1113.3" r="4.85"/><circle cx="1770.4" cy="1091.7" r="4.85"/><circle cx="1808.3" cy="1204.7" r="4.85"/><circle cx="1822.7" cy="1184.2" r="4.85"/><circle cx="1807.3" cy="1114.0" r="4.85"/><circle cx="1787.1" cy="1086.6" r="4.85"/><circle cx="1752.8" cy="1157.8" r="4.85"/><circle cx="1785.7" cy="1183.3" r="4.85"/><circle cx="1790.7" cy="1073.8" r="4.85"/><circle cx="1763.5" cy="1067.0" r="4.85"/><circle cx="1805.0" cy="1196.2" r="4.85"/><circle cx="1713.6" cy="1167.4" r="4.85"/><circle cx="1783.0" cy="1130.2" r="4.85"/><circle cx="1726.0" cy="1098.8" r="4.85"/><circle cx="1746.5" cy="1160.9" r="4.85"/><circle cx="1719.5" cy="1092.8" r="4.85"/><circle cx="1737.5" cy="1193.9" r="4.85"/><circle cx="1822.3" cy="1185.7" r="4.85"/><circle cx="1770.9" cy="1115.4" r="4.85"/><circle cx="1797.2" cy="1155.6" r="4.85"/><circle cx="1727.4" cy="1126.4" r="4.85"/><circle cx="1820.7" cy="1192.9" r="4.85"/><circle cx="1758.1" cy="1109.4" r="4.85"/><circle cx="1750.9" cy="1110.7" r="4.85"/><circle cx="1759.5" cy="1205.8" r="4.85"/><circle cx="1767.5" cy="1227.0" r="4.85"/><circle cx="1715.2" cy="1145.8" r="4.85"/><circle cx="1749.5" cy="1081.0" r="4.85"/><circle cx="1711.7" cy="1161.1" r="4.85"/><circle cx="1783.8" cy="1132.6" r="4.85"/><circle cx="1786.1" cy="1131.7" r="4.85"/><circle cx="1771.2" cy="1225.1" r="4.85"/><circle cx="1805.1" cy="1141.0" r="4.85"/><circle cx="1775.4" cy="1188.9" r="4.85"/><circle cx="1759.9" cy="1059.0" r="4.85"/><circle cx="1734.9" cy="1206.9" r="4.85"/><circle cx="1757.7" cy="1184.8" r="4.85"/><circle cx="1805.9" cy="1109.5" r="4.85"/><circle cx="1739.3" cy="1072.0" r="4.85"/><circle cx="1727.1" cy="1119.9" r="4.85"/><circle cx="1806.2" cy="1108.7" r="4.85"/><circle cx="1725.8" cy="1155.0" r="4.85"/><circle cx="1812.3" cy="1126.0" r="4.85"/><circle cx="1805.5" cy="1217.2" r="4.85"/><circle cx="1810.1" cy="1214.5" r="4.85"/><circle cx="1708.7" cy="1134.9" r="4.85"/><circle cx="1789.6" cy="1121.5" r="4.85"/><circle cx="1768.6" cy="1204.0" r="4.85"/><circle cx="1779.2" cy="1150.1" r="4.85"/><circle cx="1755.1" cy="1095.6" r="4.85"/><circle cx="1779.3" cy="1173.4" r="4.85"/><circle cx="1817.3" cy="1095.1" r="4.85"/><circle cx="1789.4" cy="1198.2" r="4.85"/><circle cx="1795.4" cy="1066.4" r="4.85"/><circle cx="1810.1" cy="1206.4" r="4.85"/><circle cx="1732.6" cy="1186.0" r="4.85"/><circle cx="1767.2" cy="1204.3" r="4.85"/><circle cx="1749.6" cy="1186.1" r="4.85"/><circle cx="1722.5" cy="1190.2" r="4.85"/><circle cx="1740.6" cy="1173.1" r="4.85"/><circle cx="1797.1" cy="1233.3" r="4.85"/><circle cx="1778.1" cy="1085.4" r="4.85"/><circle cx="1736.4" cy="1111.1" r="4.85"/><circle cx="1739.3" cy="1061.3" r="4.85"/><circle cx="1770.5" cy="1169.0" r="4.85"/><circle cx="1825.9" cy="1151.8" r="4.85"/><circle cx="1755.0" cy="1200.4" r="4.85"/><circle cx="1719.1" cy="1169.0" r="4.85"/><circle cx="1768.0" cy="1171.1" r="4.85"/><circle cx="1742.5" cy="1207.5" r="4.85"/><circle cx="1742.5" cy="1174.4" r="4.85"/><circle cx="1770.8" cy="1203.0" r="4.85"/><circle cx="1773.6" cy="1144.4" r="4.85"/><circle cx="1723.2" cy="1118.8" r="4.85"/><circle cx="1823.7" cy="1105.0" r="4.85"/><circle cx="1775.9" cy="1193.1" r="4.85"/><circle cx="1798.8" cy="1199.3" r="4.85"/><circle cx="1780.8" cy="1162.2" r="4.85"/><circle cx="1783.9" cy="1082.2" r="4.85"/><circle cx="1774.8" cy="1110.2" r="4.85"/><circle cx="1763.1" cy="1168.2" r="4.85"/><circle cx="1731.2" cy="1080.8" r="4.85"/><circle cx="1817.3" cy="1227.2" r="4.85"/><circle cx="1750.0" cy="1145.2" r="4.85"/><circle cx="1750.9" cy="1152.4" r="4.85"/><circle cx="1787.5" cy="1146.2" r="4.85"/><circle cx="1788.6" cy="1195.5" r="4.85"/><circle cx="1763.3" cy="1075.2" r="4.85"/><circle cx="1756.3" cy="1193.0" r="4.85"/><circle cx="1758.0" cy="1136.5" r="4.85"/><circle cx="1714.9" cy="1116.2" r="4.85"/><circle cx="1786.8" cy="1157.3" r="4.85"/><circle cx="1767.2" cy="1143.2" r="4.85"/><circle cx="1764.9" cy="1181.6" r="4.85"/><circle cx="1756.7" cy="1116.1" r="4.85"/><circle cx="1784.7" cy="1126.8" r="4.85"/><circle cx="1749.1" cy="1116.6" r="4.85"/><circle cx="1789.9" cy="1096.1" r="4.85"/><circle cx="1784.4" cy="1138.3" r="4.85"/><circle cx="1767.4" cy="1114.9" r="4.85"/><circle cx="1791.5" cy="1221.3" r="4.85"/><circle cx="1750.5" cy="1127.0" r="4.85"/><circle cx="1791.2" cy="1190.5" r="4.85"/><circle cx="1740.6" cy="1195.7" r="4.85"/><circle cx="1797.2" cy="1121.1" r="4.85"/><circle cx="1763.8" cy="1044.2" r="4.85"/><circle cx="1813.2" cy="1116.5" r="4.85"/><circle cx="1777.0" cy="1144.4" r="4.85"/><circle cx="1790.3" cy="1168.7" r="4.85"/><circle cx="1790.7" cy="1164.3" r="4.85"/><circle cx="1789.8" cy="1144.8" r="4.85"/><circle cx="1781.6" cy="1092.5" r="4.85"/><circle cx="1787.4" cy="1144.5" r="4.85"/><circle cx="1763.5" cy="1161.1" r="4.85"/><circle cx="1748.9" cy="1097.6" r="4.85"/><circle cx="1773.6" cy="1178.5" r="4.85"/><circle cx="1800.0" cy="1164.6" r="4.85"/><circle cx="1800.6" cy="1132.3" r="4.85"/><circle cx="1786.6" cy="1134.5" r="4.85"/><circle cx="1747.9" cy="1140.3" r="4.85"/><circle cx="1761.4" cy="1168.3" r="4.85"/><circle cx="1780.8" cy="1180.6" r="4.85"/><circle cx="1744.5" cy="1158.6" r="4.85"/><circle cx="1742.7" cy="1132.0" r="4.85"/><circle cx="1783.1" cy="1138.7" r="4.85"/><circle cx="1764.2" cy="1112.3" r="4.85"/><circle cx="1782.6" cy="1088.8" r="4.85"/><circle cx="1757.9" cy="1127.0" r="4.85"/><circle cx="1762.5" cy="1153.5" r="4.85"/><circle cx="1765.8" cy="1113.6" r="4.85"/><circle cx="1758.7" cy="1172.1" r="4.85"/><circle cx="1805.3" cy="1139.3" r="4.85"/><circle cx="1777.9" cy="1113.6" r="4.85"/><circle cx="1794.5" cy="1113.1" r="4.85"/><circle cx="1754.4" cy="1143.1" r="4.85"/><circle cx="1793.0" cy="1142.5" r="4.85"/><circle cx="1797.3" cy="1095.2" r="4.85"/><circle cx="1745.4" cy="1135.0" r="4.85"/><circle cx="1750.4" cy="1157.6" r="4.85"/><circle cx="1764.3" cy="1131.4" r="4.85"/><circle cx="1778.8" cy="1181.2" r="4.85"/><circle cx="1768.6" cy="1148.5" r="4.85"/><circle cx="1750.1" cy="1127.4" r="4.85"/><circle cx="1736.3" cy="1138.9" r="4.85"/><circle cx="1768.9" cy="1079.3" r="4.85"/><circle cx="1767.5" cy="1149.1" r="4.85"/><circle cx="1790.2" cy="1179.2" r="4.85"/><circle cx="1764.7" cy="1061.8" r="4.85"/><circle cx="1798.6" cy="1130.0" r="4.85"/><circle cx="1792.1" cy="1186.4" r="4.85"/><circle cx="1792.5" cy="1162.5" r="4.85"/><circle cx="1776.3" cy="1143.7" r="4.85"/><circle cx="1777.1" cy="1158.7" r="4.85"/><circle cx="1728.6" cy="1215.6" r="4.85"/><circle cx="1727.0" cy="1127.7" r="4.85"/><circle cx="1752.4" cy="1195.3" r="4.85"/><circle cx="1796.3" cy="1141.1" r="4.85"/><circle cx="1749.3" cy="1178.7" r="4.85"/><circle cx="1783.5" cy="1147.9" r="4.85"/><circle cx="1739.5" cy="1138.2" r="4.85"/><circle cx="1730.0" cy="1082.2" r="4.85"/><circle cx="1761.6" cy="1135.5" r="4.85"/><circle cx="1747.0" cy="1177.5" r="4.85"/><circle cx="1762.2" cy="1174.1" r="4.85"/><circle cx="1727.3" cy="1114.4" r="4.85"/><circle cx="1760.0" cy="1187.5" r="4.85"/><circle cx="1774.8" cy="1152.8" r="4.85"/><circle cx="1756.7" cy="1200.1" r="4.85"/><circle cx="1764.7" cy="1220.0" r="4.85"/><circle cx="1740.6" cy="1094.8" r="4.85"/><circle cx="1773.9" cy="1195.8" r="4.85"/><circle cx="1744.8" cy="1135.4" r="4.85"/><circle cx="1784.3" cy="1151.4" r="4.85"/><circle cx="1764.8" cy="1116.3" r="4.85"/><circle cx="1794.2" cy="1197.2" r="4.85"/><circle cx="1756.3" cy="1106.2" r="4.85"/><circle cx="1778.0" cy="1187.4" r="4.85"/><circle cx="1720.4" cy="1090.6" r="4.85"/><circle cx="1760.6" cy="1138.0" r="4.85"/><circle cx="1756.3" cy="1109.8" r="4.85"/><circle cx="1788.7" cy="1100.4" r="4.85"/><circle cx="1737.3" cy="1148.3" r="4.85"/><circle cx="1783.3" cy="1152.9" r="4.85"/><circle cx="1764.9" cy="1086.3" r="4.85"/><circle cx="1767.8" cy="1190.2" r="4.85"/><circle cx="1807.7" cy="1123.6" r="4.85"/><circle cx="1770.8" cy="1123.3" r="4.85"/><circle cx="1781.2" cy="1142.6" r="4.85"/><circle cx="1785.0" cy="1147.9" r="4.85"/><circle cx="1783.9" cy="1064.5" r="4.85"/><circle cx="1762.9" cy="1223.5" r="4.85"/><circle cx="1803.3" cy="1130.4" r="4.85"/><circle cx="1753.8" cy="1122.2" r="4.85"/><circle cx="1734.2" cy="1101.6" r="4.85"/><circle cx="1719.6" cy="1109.7" r="4.85"/><circle cx="1798.6" cy="1161.0" r="4.85"/><circle cx="1779.0" cy="1125.8" r="4.85"/><circle cx="1729.5" cy="1144.7" r="4.85"/><circle cx="1806.0" cy="1144.1" r="4.85"/><circle cx="1819.2" cy="1146.3" r="4.85"/><circle cx="1760.6" cy="1145.0" r="4.85"/><circle cx="1754.4" cy="1213.0" r="4.85"/><circle cx="1766.0" cy="1090.5" r="4.85"/><circle cx="1749.3" cy="1167.4" r="4.85"/><circle cx="1755.6" cy="1096.0" r="4.85"/><circle cx="1795.4" cy="1163.1" r="4.85"/><circle cx="1784.7" cy="1099.8" r="4.85"/><circle cx="1770.1" cy="1151.0" r="4.85"/><circle cx="1786.9" cy="1170.7" r="4.85"/><circle cx="1773.9" cy="1113.2" r="4.85"/><circle cx="1808.6" cy="1111.4" r="4.85"/><circle cx="1780.2" cy="1172.0" r="4.85"/><circle cx="1786.2" cy="1142.3" r="4.85"/><circle cx="1812.6" cy="1144.0" r="4.85"/><circle cx="1771.3" cy="1159.4" r="4.85"/><circle cx="1766.5" cy="1123.1" r="4.85"/><circle cx="1744.5" cy="1146.9" r="4.85"/><circle cx="1741.3" cy="1181.2" r="4.85"/><circle cx="1782.2" cy="1165.8" r="4.85"/><circle cx="1759.1" cy="1124.9" r="4.85"/><circle cx="1751.2" cy="1150.7" r="4.85"/><circle cx="1764.0" cy="1163.9" r="4.85"/><circle cx="1749.6" cy="1093.5" r="4.85"/><circle cx="1780.1" cy="1117.9" r="4.85"/><circle cx="1739.4" cy="1149.3" r="4.85"/><circle cx="1787.0" cy="1115.2" r="4.85"/><circle cx="1748.5" cy="1122.1" r="4.85"/><circle cx="1801.4" cy="1120.8" r="4.85"/><circle cx="1765.0" cy="1161.0" r="4.85"/><circle cx="1729.4" cy="1143.6" r="4.85"/><circle cx="1770.2" cy="1141.8" r="4.85"/><circle cx="1763.8" cy="1112.9" r="4.85"/><circle cx="1794.0" cy="1181.8" r="4.85"/><circle cx="1770.4" cy="1142.7" r="4.85"/><circle cx="1770.0" cy="1156.4" r="4.85"/><circle cx="1780.4" cy="1102.9" r="4.85"/><circle cx="1757.0" cy="1151.2" r="4.85"/><circle cx="1793.9" cy="1185.1" r="4.85"/><circle cx="1782.6" cy="1143.6" r="4.85"/><circle cx="1749.3" cy="1126.7" r="4.85"/><circle cx="1762.2" cy="1125.5" r="4.85"/><circle cx="1779.9" cy="1149.1" r="4.85"/><circle cx="1774.3" cy="1135.7" r="4.85"/><circle cx="1782.0" cy="1207.9" r="4.85"/><circle cx="1763.9" cy="1115.1" r="4.85"/><circle cx="1765.9" cy="1099.3" r="4.85"/><circle cx="1757.0" cy="1152.4" r="4.85"/><circle cx="1768.1" cy="1193.8" r="4.85"/><circle cx="1818.3" cy="1182.5" r="4.85"/><circle cx="1768.7" cy="1220.5" r="4.85"/><circle cx="1774.5" cy="1172.0" r="4.85"/><circle cx="1785.8" cy="1136.3" r="4.85"/><circle cx="1801.4" cy="1160.7" r="4.85"/><circle cx="1773.6" cy="1148.6" r="4.85"/><circle cx="1774.4" cy="1165.6" r="4.85"/><circle cx="1763.7" cy="1099.4" r="4.85"/><circle cx="1788.1" cy="1188.3" r="4.85"/><circle cx="1772.8" cy="1137.7" r="4.85"/><circle cx="1741.7" cy="1112.3" r="4.85"/><circle cx="1749.3" cy="1121.5" r="4.85"/><circle cx="1791.8" cy="1166.4" r="4.85"/><circle cx="1783.2" cy="1111.0" r="4.85"/><circle cx="1755.7" cy="1116.5" r="4.85"/><circle cx="1805.0" cy="1104.5" r="4.85"/><circle cx="1751.4" cy="1222.9" r="4.85"/><circle cx="1760.6" cy="1173.4" r="4.85"/><circle cx="1797.6" cy="1165.5" r="4.85"/><circle cx="1805.7" cy="1192.7" r="4.85"/><circle cx="1755.0" cy="1131.5" r="4.85"/><circle cx="1744.5" cy="1071.2" r="4.85"/><circle cx="1750.8" cy="1115.7" r="4.85"/><circle cx="1777.3" cy="1078.8" r="4.85"/><circle cx="1815.4" cy="1145.2" r="4.85"/><circle cx="1778.6" cy="1117.8" r="4.85"/><circle cx="1766.6" cy="1099.5" r="4.85"/><circle cx="1738.0" cy="1159.4" r="4.85"/><circle cx="1737.0" cy="1124.3" r="4.85"/></g>
<path d="M1626.20,944.70 V1265.10 M1612.70,1265.10 H1948.30" stroke="#000" stroke-width="3.2" fill="none"/>
<text transform="translate(1594.21,1274.50) scale(0.9400,1)" font-size="25.80" font-weight="bold" font-style="normal" fill="#000" stroke="#000" stroke-width="0.12">0</text>
<path d="M1612.70,1201.02 H1626.20" stroke="#000" stroke-width="3.2"/>
<text transform="translate(1580.75,1210.42) scale(0.9400,1)" font-size="25.80" font-weight="bold" font-style="normal" fill="#000" stroke="#000" stroke-width="0.12">20</text>
<path d="M1612.70,1136.94 H1626.20" stroke="#000" stroke-width="3.2"/>
<text transform="translate(1580.75,1146.34) scale(0.9400,1)" font-size="25.80" font-weight="bold" font-style="normal" fill="#000" stroke="#000" stroke-width="0.12">40</text>
<path d="M1612.70,1072.86 H1626.20" stroke="#000" stroke-width="3.2"/>
<text transform="translate(1580.75,1082.26) scale(0.9400,1)" font-size="25.80" font-weight="bold" font-style="normal" fill="#000" stroke="#000" stroke-width="0.12">60</text>
<path d="M1612.70,1008.78 H1626.20" stroke="#000" stroke-width="3.2"/>
<text transform="translate(1580.75,1018.18) scale(0.9400,1)" font-size="25.80" font-weight="bold" font-style="normal" fill="#000" stroke="#000" stroke-width="0.12">80</text>
<path d="M1612.70,944.70 H1626.20" stroke="#000" stroke-width="3.2"/>
<text transform="translate(1567.23,954.10) scale(0.9400,1)" font-size="25.80" font-weight="bold" font-style="normal" fill="#000" stroke="#000" stroke-width="0.12">100</text>
<path d="M1626.20,1265.10 V1279.10" stroke="#000" stroke-width="3.2"/>
<text transform="translate(1619.57,1306.50) scale(0.9300,1)" font-size="25.80" font-weight="bold" font-style="normal" fill="#000" stroke="#000" stroke-width="0.12">2</text>
<path d="M1706.30,1265.10 V1279.10" stroke="#000" stroke-width="3.2"/>
<text transform="translate(1699.79,1306.50) scale(0.9300,1)" font-size="25.80" font-weight="bold" font-style="normal" fill="#000" stroke="#000" stroke-width="0.12">3</text>
<path d="M1786.40,1265.10 V1279.10" stroke="#000" stroke-width="3.2"/>
<text transform="translate(1779.62,1306.37) scale(0.9300,1)" font-size="25.80" font-weight="bold" font-style="normal" fill="#000" stroke="#000" stroke-width="0.12">4</text>
<path d="M1866.50,1265.10 V1279.10" stroke="#000" stroke-width="3.2"/>
<text transform="translate(1859.81,1306.37) scale(0.9300,1)" font-size="25.80" font-weight="bold" font-style="normal" fill="#000" stroke="#000" stroke-width="0.12">5</text>
<path d="M1946.60,1265.10 V1279.10" stroke="#000" stroke-width="3.2"/>
<text transform="translate(1939.91,1306.50) scale(0.9300,1)" font-size="25.80" font-weight="bold" font-style="normal" fill="#000" stroke="#000" stroke-width="0.12">6</text>
<text transform="translate(1552.40,1217.43) rotate(-90) scale(0.9303,1)" font-size="27.76" font-weight="normal" font-style="normal" fill="#000" stroke="#000" stroke-width="0.35">KLF5 activity Score</text>
<text transform="translate(1818.83,966.50) scale(0.9550,1)" font-size="20.40" font-weight="normal" font-style="normal" fill="#0000ff" stroke="#0000ff" stroke-width="0.35">r = -0.276</text>
<text transform="translate(1820.05,988.00) scale(0.9664,1)" font-size="19.80" font-weight="normal" font-style="normal" fill="#0000ff" stroke="#0000ff" stroke-width="0.35">Adj p-val = 1.87e-9</text>
<path d="M108.3,1560.3 L416.7,1647.7" stroke="#ff0000" stroke-width="4.6" stroke-linecap="round"/>
<g fill="none" stroke="#000" stroke-width="1.9"><circle cx="164.5" cy="1467.0" r="4.25"/><circle cx="114.6" cy="1496.8" r="4.25"/><circle cx="161.4" cy="1496.8" r="4.25"/><circle cx="169.7" cy="1493.0" r="4.25"/><circle cx="157.2" cy="1509.3" r="4.25"/><circle cx="124.0" cy="1513.0" r="4.25"/><circle cx="129.2" cy="1513.0" r="4.25"/><circle cx="113.6" cy="1538.7" r="4.25"/><circle cx="109.4" cy="1603.2" r="4.25"/><circle cx="114.6" cy="1586.9" r="4.25"/><circle cx="113.6" cy="1634.5" r="4.25"/><circle cx="124.0" cy="1635.1" r="4.25"/><circle cx="128.1" cy="1625.1" r="4.25"/><circle cx="137.5" cy="1617.6" r="4.25"/><circle cx="150.0" cy="1617.0" r="4.25"/><circle cx="155.2" cy="1617.9" r="4.25"/><circle cx="112.6" cy="1653.6" r="4.25"/><circle cx="159.3" cy="1655.1" r="4.25"/><circle cx="167.6" cy="1656.1" r="4.25"/><circle cx="175.9" cy="1649.8" r="4.25"/><circle cx="177.0" cy="1631.4" r="4.25"/><circle cx="184.2" cy="1627.6" r="4.25"/><circle cx="188.4" cy="1663.0" r="4.25"/><circle cx="191.5" cy="1680.5" r="4.25"/><circle cx="214.4" cy="1627.0" r="4.25"/><circle cx="224.8" cy="1669.5" r="4.25"/><circle cx="242.4" cy="1684.9" r="4.25"/><circle cx="259.1" cy="1684.9" r="4.25"/><circle cx="259.1" cy="1622.6" r="4.25"/><circle cx="211.3" cy="1702.4" r="4.25"/><circle cx="212.3" cy="1713.0" r="4.25"/><circle cx="209.2" cy="1719.0" r="4.25"/><circle cx="215.4" cy="1722.4" r="4.25"/><circle cx="225.8" cy="1729.9" r="4.25"/><circle cx="163.5" cy="1762.8" r="4.25"/><circle cx="182.2" cy="1755.6" r="4.25"/><circle cx="191.5" cy="1747.8" r="4.25"/><circle cx="194.6" cy="1754.7" r="4.25"/><circle cx="271.5" cy="1708.7" r="4.25"/><circle cx="289.2" cy="1708.7" r="4.25"/><circle cx="288.1" cy="1673.3" r="4.25"/><circle cx="325.5" cy="1657.6" r="4.25"/><circle cx="321.4" cy="1671.1" r="4.25"/><circle cx="340.1" cy="1681.7" r="4.25"/><circle cx="314.1" cy="1734.6" r="4.25"/><circle cx="357.8" cy="1779.4" r="4.25"/><circle cx="387.9" cy="1584.4" r="4.25"/><circle cx="405.5" cy="1605.7" r="4.25"/><circle cx="335.9" cy="1575.3" r="4.25"/><circle cx="339.1" cy="1591.0" r="4.25"/><circle cx="331.8" cy="1603.5" r="4.25"/><circle cx="328.7" cy="1611.3" r="4.25"/><circle cx="305.8" cy="1560.3" r="4.25"/><circle cx="297.5" cy="1580.3" r="4.25"/><circle cx="289.2" cy="1592.2" r="4.25"/><circle cx="292.3" cy="1612.6" r="4.25"/><circle cx="292.3" cy="1628.8" r="4.25"/><circle cx="277.8" cy="1602.2" r="4.25"/><circle cx="271.5" cy="1573.4" r="4.25"/><circle cx="279.8" cy="1540.6" r="4.25"/><circle cx="284.0" cy="1555.9" r="4.25"/><circle cx="255.9" cy="1518.7" r="4.25"/><circle cx="250.7" cy="1531.8" r="4.25"/><circle cx="241.4" cy="1539.0" r="4.25"/><circle cx="243.5" cy="1555.9" r="4.25"/><circle cx="243.5" cy="1565.0" r="4.25"/><circle cx="243.5" cy="1588.5" r="4.25"/><circle cx="247.6" cy="1606.9" r="4.25"/><circle cx="254.9" cy="1569.7" r="4.25"/><circle cx="254.9" cy="1596.0" r="4.25"/><circle cx="221.6" cy="1550.9" r="4.25"/><circle cx="226.8" cy="1558.4" r="4.25"/><circle cx="220.6" cy="1577.2" r="4.25"/><circle cx="233.1" cy="1582.2" r="4.25"/><circle cx="231.0" cy="1595.4" r="4.25"/><circle cx="214.4" cy="1529.9" r="4.25"/><circle cx="212.3" cy="1558.4" r="4.25"/><circle cx="202.9" cy="1523.1" r="4.25"/><circle cx="117.7" cy="1554.9" r="4.25"/><circle cx="174.3" cy="1609.2" r="4.25"/><circle cx="214.2" cy="1556.8" r="4.25"/><circle cx="163.5" cy="1595.6" r="4.25"/><circle cx="167.6" cy="1531.6" r="4.25"/><circle cx="186.0" cy="1608.0" r="4.25"/><circle cx="146.2" cy="1524.4" r="4.25"/><circle cx="124.8" cy="1553.8" r="4.25"/><circle cx="203.8" cy="1548.4" r="4.25"/><circle cx="179.4" cy="1612.9" r="4.25"/><circle cx="143.1" cy="1592.9" r="4.25"/><circle cx="140.6" cy="1550.3" r="4.25"/><circle cx="119.1" cy="1575.4" r="4.25"/><circle cx="158.4" cy="1560.9" r="4.25"/><circle cx="146.4" cy="1536.5" r="4.25"/><circle cx="211.4" cy="1578.8" r="4.25"/><circle cx="160.1" cy="1529.0" r="4.25"/><circle cx="198.4" cy="1585.9" r="4.25"/><circle cx="113.9" cy="1563.7" r="4.25"/><circle cx="134.0" cy="1597.9" r="4.25"/><circle cx="153.4" cy="1576.0" r="4.25"/><circle cx="190.9" cy="1547.0" r="4.25"/><circle cx="197.2" cy="1538.7" r="4.25"/><circle cx="155.2" cy="1581.7" r="4.25"/><circle cx="153.1" cy="1564.1" r="4.25"/><circle cx="163.8" cy="1559.7" r="4.25"/><circle cx="208.8" cy="1580.8" r="4.25"/><circle cx="171.9" cy="1597.5" r="4.25"/><circle cx="172.8" cy="1558.3" r="4.25"/><circle cx="183.8" cy="1571.5" r="4.25"/><circle cx="127.9" cy="1581.5" r="4.25"/><circle cx="142.2" cy="1597.9" r="4.25"/><circle cx="209.8" cy="1546.3" r="4.25"/><circle cx="141.9" cy="1586.2" r="4.25"/><circle cx="165.1" cy="1575.8" r="4.25"/><circle cx="157.2" cy="1608.2" r="4.25"/><circle cx="174.2" cy="1578.7" r="4.25"/><circle cx="175.6" cy="1562.6" r="4.25"/><circle cx="152.9" cy="1543.7" r="4.25"/><circle cx="140.2" cy="1580.1" r="4.25"/><circle cx="199.7" cy="1544.8" r="4.25"/><circle cx="134.4" cy="1583.2" r="4.25"/><circle cx="167.6" cy="1600.7" r="4.25"/><circle cx="190.5" cy="1554.5" r="4.25"/><circle cx="151.5" cy="1583.6" r="4.25"/><circle cx="133.0" cy="1597.2" r="4.25"/><circle cx="173.0" cy="1562.2" r="4.25"/><circle cx="201.0" cy="1536.5" r="4.25"/><circle cx="189.4" cy="1558.6" r="4.25"/><circle cx="138.1" cy="1572.4" r="4.25"/><circle cx="206.6" cy="1538.2" r="4.25"/><circle cx="191.0" cy="1528.1" r="4.25"/><circle cx="200.5" cy="1591.2" r="4.25"/><circle cx="175.0" cy="1558.7" r="4.25"/><circle cx="200.1" cy="1536.0" r="4.25"/><circle cx="207.0" cy="1569.8" r="4.25"/><circle cx="204.0" cy="1572.5" r="4.25"/><circle cx="159.8" cy="1567.1" r="4.25"/><circle cx="175.6" cy="1613.9" r="4.25"/><circle cx="137.4" cy="1531.8" r="4.25"/><circle cx="209.9" cy="1569.9" r="4.25"/><circle cx="153.5" cy="1539.0" r="4.25"/><circle cx="135.1" cy="1577.0" r="4.25"/><circle cx="131.6" cy="1585.8" r="4.25"/><circle cx="215.0" cy="1552.8" r="4.25"/><circle cx="147.4" cy="1607.1" r="4.25"/><circle cx="195.9" cy="1586.1" r="4.25"/><circle cx="133.9" cy="1567.3" r="4.25"/><circle cx="145.4" cy="1523.5" r="4.25"/><circle cx="129.4" cy="1580.1" r="4.25"/><circle cx="130.9" cy="1544.7" r="4.25"/><circle cx="164.8" cy="1567.9" r="4.25"/><circle cx="207.0" cy="1557.5" r="4.25"/><circle cx="166.8" cy="1530.3" r="4.25"/><circle cx="174.7" cy="1526.5" r="4.25"/><circle cx="180.6" cy="1544.1" r="4.25"/><circle cx="168.5" cy="1605.2" r="4.25"/><circle cx="174.3" cy="1528.7" r="4.25"/><circle cx="140.2" cy="1530.4" r="4.25"/><circle cx="136.9" cy="1538.1" r="4.25"/><circle cx="166.5" cy="1529.1" r="4.25"/><circle cx="151.2" cy="1601.6" r="4.25"/><circle cx="143.5" cy="1597.4" r="4.25"/><circle cx="170.3" cy="1561.3" r="4.25"/><circle cx="172.2" cy="1546.7" r="4.25"/><circle cx="184.8" cy="1584.6" r="4.25"/><circle cx="146.8" cy="1546.6" r="4.25"/><circle cx="156.7" cy="1551.6" r="4.25"/><circle cx="198.7" cy="1538.4" r="4.25"/><circle cx="156.9" cy="1549.9" r="4.25"/><circle cx="171.6" cy="1553.0" r="4.25"/><circle cx="145.6" cy="1543.6" r="4.25"/><circle cx="195.0" cy="1569.8" r="4.25"/><circle cx="147.2" cy="1539.8" r="4.25"/><circle cx="178.6" cy="1552.6" r="4.25"/><circle cx="144.4" cy="1544.7" r="4.25"/><circle cx="149.3" cy="1592.0" r="4.25"/><circle cx="155.7" cy="1539.5" r="4.25"/><circle cx="177.2" cy="1542.2" r="4.25"/><circle cx="180.4" cy="1521.5" r="4.25"/><circle cx="144.0" cy="1577.1" r="4.25"/><circle cx="187.2" cy="1545.6" r="4.25"/><circle cx="160.1" cy="1564.9" r="4.25"/><circle cx="162.4" cy="1555.2" r="4.25"/><circle cx="152.3" cy="1574.4" r="4.25"/><circle cx="164.3" cy="1558.3" r="4.25"/><circle cx="150.6" cy="1559.1" r="4.25"/><circle cx="138.6" cy="1558.4" r="4.25"/><circle cx="128.3" cy="1552.5" r="4.25"/><circle cx="178.6" cy="1535.4" r="4.25"/><circle cx="164.1" cy="1565.1" r="4.25"/><circle cx="181.0" cy="1537.0" r="4.25"/><circle cx="130.7" cy="1562.8" r="4.25"/><circle cx="159.1" cy="1564.8" r="4.25"/><circle cx="150.8" cy="1522.7" r="4.25"/><circle cx="176.0" cy="1540.1" r="4.25"/><circle cx="156.7" cy="1531.1" r="4.25"/><circle cx="165.3" cy="1564.7" r="4.25"/><circle cx="133.6" cy="1539.1" r="4.25"/><circle cx="147.2" cy="1585.2" r="4.25"/></g>
<path d="M103.20,1466.40 V1779.40 M89.70,1779.40 H416.60" stroke="#000" stroke-width="3.2" fill="none"/>
<text transform="translate(71.93,1788.10) scale(0.9600,1)" font-size="23.80" font-weight="bold" font-style="normal" fill="#000" stroke="#000" stroke-width="0.12">0</text>
<path d="M89.70,1716.80 H103.20" stroke="#000" stroke-width="3.2"/>
<text transform="translate(59.25,1725.50) scale(0.9600,1)" font-size="23.80" font-weight="bold" font-style="normal" fill="#000" stroke="#000" stroke-width="0.12">20</text>
<path d="M89.70,1654.20 H103.20" stroke="#000" stroke-width="3.2"/>
<text transform="translate(59.25,1662.90) scale(0.9600,1)" font-size="23.80" font-weight="bold" font-style="normal" fill="#000" stroke="#000" stroke-width="0.12">40</text>
<path d="M89.70,1591.60 H103.20" stroke="#000" stroke-width="3.2"/>
<text transform="translate(59.25,1600.30) scale(0.9600,1)" font-size="23.80" font-weight="bold" font-style="normal" fill="#000" stroke="#000" stroke-width="0.12">60</text>
<path d="M89.70,1529.00 H103.20" stroke="#000" stroke-width="3.2"/>
<text transform="translate(59.25,1537.70) scale(0.9600,1)" font-size="23.80" font-weight="bold" font-style="normal" fill="#000" stroke="#000" stroke-width="0.12">80</text>
<path d="M89.70,1466.40 H103.20" stroke="#000" stroke-width="3.2"/>
<text transform="translate(46.51,1475.10) scale(0.9600,1)" font-size="23.80" font-weight="bold" font-style="normal" fill="#000" stroke="#000" stroke-width="0.12">100</text>
<path d="M103.20,1779.40 V1793.40" stroke="#000" stroke-width="3.2"/>
<text transform="translate(96.75,1820.24) scale(0.9600,1)" font-size="24.20" font-weight="bold" font-style="normal" fill="#000" stroke="#000" stroke-width="0.12">0</text>
<path d="M207.10,1779.40 V1793.40" stroke="#000" stroke-width="3.2"/>
<text transform="translate(200.25,1820.12) scale(0.9600,1)" font-size="24.20" font-weight="bold" font-style="normal" fill="#000" stroke="#000" stroke-width="0.12">1</text>
<path d="M311.00,1779.40 V1793.40" stroke="#000" stroke-width="3.2"/>
<text transform="translate(304.58,1820.24) scale(0.9600,1)" font-size="24.20" font-weight="bold" font-style="normal" fill="#000" stroke="#000" stroke-width="0.12">2</text>
<path d="M414.90,1779.40 V1793.40" stroke="#000" stroke-width="3.2"/>
<text transform="translate(408.60,1820.24) scale(0.9600,1)" font-size="24.20" font-weight="bold" font-style="normal" fill="#000" stroke="#000" stroke-width="0.12">3</text>
<text transform="translate(31.20,1718.76) rotate(-90) scale(0.9092,1)" font-size="27.62" font-weight="normal" font-style="normal" fill="#000" stroke="#000" stroke-width="0.35">AR activity Score</text>
<text transform="translate(262.60,1478.10) scale(0.9300,1)" font-size="19.80" font-weight="normal" font-style="normal" fill="#0000ff" stroke="#0000ff" stroke-width="0.35">r = -0.297</text>
<text transform="translate(263.75,1498.40) scale(0.9289,1)" font-size="19.80" font-weight="normal" font-style="normal" fill="#0000ff" stroke="#0000ff" stroke-width="0.35">Adj p-val=1.84e-4</text>
<path d="M604.6,1711.9 L913,1573.4" stroke="#ff0000" stroke-width="4.6" stroke-linecap="round"/>
<g fill="none" stroke="#000" stroke-width="1.9"><circle cx="768.5" cy="1467.0" r="4.25"/><circle cx="884.3" cy="1494.6" r="4.25"/><circle cx="837.4" cy="1517.4" r="4.25"/><circle cx="833.2" cy="1543.1" r="4.25"/><circle cx="836.3" cy="1545.3" r="4.25"/><circle cx="756.0" cy="1538.1" r="4.25"/><circle cx="677.8" cy="1539.0" r="4.25"/><circle cx="723.7" cy="1579.7" r="4.25"/><circle cx="668.4" cy="1593.2" r="4.25"/><circle cx="664.2" cy="1603.5" r="4.25"/><circle cx="677.8" cy="1611.9" r="4.25"/><circle cx="713.2" cy="1610.4" r="4.25"/><circle cx="697.6" cy="1613.8" r="4.25"/><circle cx="738.3" cy="1611.3" r="4.25"/><circle cx="751.8" cy="1617.6" r="4.25"/><circle cx="768.5" cy="1606.9" r="4.25"/><circle cx="781.0" cy="1601.9" r="4.25"/><circle cx="791.5" cy="1611.6" r="4.25"/><circle cx="786.3" cy="1623.2" r="4.25"/><circle cx="789.4" cy="1627.6" r="4.25"/><circle cx="811.3" cy="1631.4" r="4.25"/><circle cx="822.8" cy="1616.3" r="4.25"/><circle cx="902.1" cy="1603.5" r="4.25"/><circle cx="854.1" cy="1639.8" r="4.25"/><circle cx="751.8" cy="1632.0" r="4.25"/><circle cx="741.4" cy="1632.0" r="4.25"/><circle cx="721.6" cy="1637.6" r="4.25"/><circle cx="724.7" cy="1642.0" r="4.25"/><circle cx="774.8" cy="1649.8" r="4.25"/><circle cx="789.4" cy="1651.4" r="4.25"/><circle cx="794.6" cy="1655.8" r="4.25"/><circle cx="825.9" cy="1661.4" r="4.25"/><circle cx="829.0" cy="1668.6" r="4.25"/><circle cx="790.4" cy="1682.1" r="4.25"/><circle cx="776.9" cy="1688.6" r="4.25"/><circle cx="803.0" cy="1691.1" r="4.25"/><circle cx="786.3" cy="1710.5" r="4.25"/><circle cx="818.6" cy="1716.2" r="4.25"/><circle cx="750.8" cy="1684.2" r="4.25"/><circle cx="744.5" cy="1655.8" r="4.25"/><circle cx="758.1" cy="1668.0" r="4.25"/><circle cx="612.0" cy="1662.0" r="4.25"/><circle cx="627.7" cy="1662.0" r="4.25"/><circle cx="626.6" cy="1674.2" r="4.25"/><circle cx="605.8" cy="1743.4" r="4.25"/><circle cx="612.0" cy="1753.4" r="4.25"/><circle cx="618.3" cy="1751.5" r="4.25"/><circle cx="620.4" cy="1760.3" r="4.25"/><circle cx="627.7" cy="1767.2" r="4.25"/><circle cx="609.9" cy="1779.4" r="4.25"/><circle cx="674.6" cy="1745.9" r="4.25"/><circle cx="674.6" cy="1749.7" r="4.25"/><circle cx="608.9" cy="1729.0" r="4.25"/><circle cx="614.1" cy="1722.1" r="4.25"/><circle cx="620.4" cy="1723.4" r="4.25"/><circle cx="625.6" cy="1734.6" r="4.25"/><circle cx="624.5" cy="1745.3" r="4.25"/><circle cx="631.8" cy="1733.7" r="4.25"/><circle cx="717.4" cy="1719.9" r="4.25"/><circle cx="712.2" cy="1710.5" r="4.25"/><circle cx="698.6" cy="1713.0" r="4.25"/><circle cx="707.0" cy="1706.8" r="4.25"/><circle cx="652.7" cy="1733.4" r="4.25"/><circle cx="697.4" cy="1661.4" r="4.25"/><circle cx="639.6" cy="1708.3" r="4.25"/><circle cx="664.9" cy="1650.5" r="4.25"/><circle cx="640.0" cy="1672.8" r="4.25"/><circle cx="637.9" cy="1715.1" r="4.25"/><circle cx="617.5" cy="1714.5" r="4.25"/><circle cx="693.0" cy="1671.9" r="4.25"/><circle cx="674.3" cy="1706.8" r="4.25"/><circle cx="643.4" cy="1690.8" r="4.25"/><circle cx="690.8" cy="1656.6" r="4.25"/><circle cx="635.1" cy="1721.1" r="4.25"/><circle cx="679.1" cy="1668.2" r="4.25"/><circle cx="646.6" cy="1667.7" r="4.25"/><circle cx="666.6" cy="1647.7" r="4.25"/><circle cx="646.5" cy="1695.0" r="4.25"/><circle cx="695.4" cy="1678.8" r="4.25"/><circle cx="688.6" cy="1646.9" r="4.25"/><circle cx="677.8" cy="1666.2" r="4.25"/><circle cx="699.1" cy="1686.9" r="4.25"/><circle cx="676.1" cy="1639.2" r="4.25"/><circle cx="627.7" cy="1715.5" r="4.25"/><circle cx="651.6" cy="1713.1" r="4.25"/><circle cx="629.7" cy="1672.7" r="4.25"/><circle cx="663.2" cy="1688.7" r="4.25"/><circle cx="653.0" cy="1672.2" r="4.25"/><circle cx="682.4" cy="1679.0" r="4.25"/><circle cx="622.4" cy="1717.1" r="4.25"/><circle cx="642.2" cy="1717.2" r="4.25"/><circle cx="670.7" cy="1643.5" r="4.25"/><circle cx="670.0" cy="1711.7" r="4.25"/><circle cx="709.9" cy="1665.7" r="4.25"/><circle cx="657.5" cy="1702.3" r="4.25"/><circle cx="680.1" cy="1642.0" r="4.25"/><circle cx="670.7" cy="1662.2" r="4.25"/><circle cx="667.3" cy="1714.0" r="4.25"/><circle cx="645.6" cy="1673.4" r="4.25"/><circle cx="632.6" cy="1675.5" r="4.25"/><circle cx="673.5" cy="1665.4" r="4.25"/><circle cx="643.6" cy="1719.6" r="4.25"/><circle cx="681.7" cy="1653.2" r="4.25"/><circle cx="639.5" cy="1701.5" r="4.25"/><circle cx="697.3" cy="1688.4" r="4.25"/><circle cx="614.1" cy="1711.9" r="4.25"/><circle cx="681.7" cy="1692.8" r="4.25"/><circle cx="624.8" cy="1702.3" r="4.25"/><circle cx="633.4" cy="1692.6" r="4.25"/><circle cx="654.9" cy="1703.9" r="4.25"/><circle cx="693.8" cy="1682.9" r="4.25"/><circle cx="668.0" cy="1713.8" r="4.25"/><circle cx="699.3" cy="1686.0" r="4.25"/><circle cx="634.2" cy="1682.8" r="4.25"/><circle cx="678.2" cy="1658.0" r="4.25"/><circle cx="616.2" cy="1715.9" r="4.25"/><circle cx="671.7" cy="1695.6" r="4.25"/><circle cx="687.6" cy="1663.6" r="4.25"/><circle cx="633.2" cy="1670.4" r="4.25"/><circle cx="676.7" cy="1693.4" r="4.25"/><circle cx="647.0" cy="1677.9" r="4.25"/><circle cx="676.1" cy="1679.9" r="4.25"/><circle cx="678.7" cy="1706.4" r="4.25"/><circle cx="635.0" cy="1727.4" r="4.25"/><circle cx="680.8" cy="1655.7" r="4.25"/><circle cx="682.7" cy="1661.5" r="4.25"/><circle cx="645.7" cy="1690.8" r="4.25"/><circle cx="654.7" cy="1713.1" r="4.25"/><circle cx="693.3" cy="1693.0" r="4.25"/><circle cx="640.2" cy="1675.9" r="4.25"/><circle cx="688.9" cy="1687.3" r="4.25"/><circle cx="637.6" cy="1670.8" r="4.25"/><circle cx="645.6" cy="1716.6" r="4.25"/><circle cx="642.4" cy="1660.4" r="4.25"/><circle cx="667.3" cy="1680.5" r="4.25"/><circle cx="668.3" cy="1708.3" r="4.25"/><circle cx="668.7" cy="1662.9" r="4.25"/><circle cx="705.0" cy="1659.7" r="4.25"/><circle cx="638.5" cy="1686.8" r="4.25"/><circle cx="651.5" cy="1721.8" r="4.25"/><circle cx="707.6" cy="1669.3" r="4.25"/><circle cx="658.6" cy="1694.7" r="4.25"/><circle cx="693.1" cy="1676.1" r="4.25"/><circle cx="645.6" cy="1694.9" r="4.25"/><circle cx="671.9" cy="1703.8" r="4.25"/><circle cx="644.9" cy="1678.6" r="4.25"/><circle cx="646.3" cy="1692.0" r="4.25"/><circle cx="689.2" cy="1660.9" r="4.25"/><circle cx="657.1" cy="1687.7" r="4.25"/><circle cx="669.6" cy="1670.7" r="4.25"/><circle cx="669.4" cy="1650.9" r="4.25"/><circle cx="641.5" cy="1701.1" r="4.25"/><circle cx="652.5" cy="1692.6" r="4.25"/><circle cx="678.5" cy="1652.0" r="4.25"/><circle cx="677.5" cy="1677.3" r="4.25"/><circle cx="650.4" cy="1692.4" r="4.25"/><circle cx="718.3" cy="1633.7" r="4.25"/><circle cx="671.1" cy="1712.2" r="4.25"/><circle cx="659.7" cy="1690.7" r="4.25"/><circle cx="626.5" cy="1659.9" r="4.25"/><circle cx="631.6" cy="1695.9" r="4.25"/><circle cx="696.1" cy="1672.7" r="4.25"/><circle cx="683.4" cy="1634.4" r="4.25"/><circle cx="663.1" cy="1696.8" r="4.25"/><circle cx="682.0" cy="1668.4" r="4.25"/><circle cx="650.1" cy="1683.6" r="4.25"/><circle cx="647.3" cy="1677.3" r="4.25"/><circle cx="673.9" cy="1638.6" r="4.25"/><circle cx="631.6" cy="1736.0" r="4.25"/><circle cx="654.3" cy="1696.0" r="4.25"/><circle cx="680.0" cy="1667.4" r="4.25"/><circle cx="624.2" cy="1715.8" r="4.25"/><circle cx="683.4" cy="1710.7" r="4.25"/><circle cx="666.1" cy="1703.8" r="4.25"/><circle cx="656.6" cy="1678.1" r="4.25"/><circle cx="700.4" cy="1660.9" r="4.25"/><circle cx="651.7" cy="1698.7" r="4.25"/><circle cx="667.4" cy="1677.9" r="4.25"/><circle cx="649.1" cy="1687.0" r="4.25"/><circle cx="669.0" cy="1685.3" r="4.25"/><circle cx="641.0" cy="1693.3" r="4.25"/><circle cx="657.2" cy="1697.0" r="4.25"/><circle cx="650.9" cy="1697.1" r="4.25"/><circle cx="652.2" cy="1681.0" r="4.25"/><circle cx="675.3" cy="1696.6" r="4.25"/><circle cx="688.0" cy="1667.3" r="4.25"/><circle cx="669.9" cy="1686.5" r="4.25"/><circle cx="681.2" cy="1696.6" r="4.25"/><circle cx="663.6" cy="1713.4" r="4.25"/><circle cx="685.3" cy="1667.2" r="4.25"/><circle cx="680.6" cy="1698.6" r="4.25"/><circle cx="665.3" cy="1707.8" r="4.25"/><circle cx="635.2" cy="1673.7" r="4.25"/></g>
<path d="M599.50,1466.40 V1779.40 M586.00,1779.40 H914.20" stroke="#000" stroke-width="3.2" fill="none"/>
<text transform="translate(568.23,1788.10) scale(0.9600,1)" font-size="23.80" font-weight="bold" font-style="normal" fill="#000" stroke="#000" stroke-width="0.12">0</text>
<path d="M586.00,1716.80 H599.50" stroke="#000" stroke-width="3.2"/>
<text transform="translate(555.55,1725.50) scale(0.9600,1)" font-size="23.80" font-weight="bold" font-style="normal" fill="#000" stroke="#000" stroke-width="0.12">20</text>
<path d="M586.00,1654.20 H599.50" stroke="#000" stroke-width="3.2"/>
<text transform="translate(555.55,1662.90) scale(0.9600,1)" font-size="23.80" font-weight="bold" font-style="normal" fill="#000" stroke="#000" stroke-width="0.12">40</text>
<path d="M586.00,1591.60 H599.50" stroke="#000" stroke-width="3.2"/>
<text transform="translate(555.55,1600.30) scale(0.9600,1)" font-size="23.80" font-weight="bold" font-style="normal" fill="#000" stroke="#000" stroke-width="0.12">60</text>
<path d="M586.00,1529.00 H599.50" stroke="#000" stroke-width="3.2"/>
<text transform="translate(555.55,1537.70) scale(0.9600,1)" font-size="23.80" font-weight="bold" font-style="normal" fill="#000" stroke="#000" stroke-width="0.12">80</text>
<path d="M586.00,1466.40 H599.50" stroke="#000" stroke-width="3.2"/>
<text transform="translate(542.81,1475.10) scale(0.9600,1)" font-size="23.80" font-weight="bold" font-style="normal" fill="#000" stroke="#000" stroke-width="0.12">100</text>
<path d="M599.50,1779.40 V1793.40" stroke="#000" stroke-width="3.2"/>
<text transform="translate(593.05,1820.24) scale(0.9600,1)" font-size="24.20" font-weight="bold" font-style="normal" fill="#000" stroke="#000" stroke-width="0.12">0</text>
<path d="M703.83,1779.40 V1793.40" stroke="#000" stroke-width="3.2"/>
<text transform="translate(696.98,1820.12) scale(0.9600,1)" font-size="24.20" font-weight="bold" font-style="normal" fill="#000" stroke="#000" stroke-width="0.12">1</text>
<path d="M808.17,1779.40 V1793.40" stroke="#000" stroke-width="3.2"/>
<text transform="translate(801.75,1820.24) scale(0.9600,1)" font-size="24.20" font-weight="bold" font-style="normal" fill="#000" stroke="#000" stroke-width="0.12">2</text>
<path d="M912.50,1779.40 V1793.40" stroke="#000" stroke-width="3.2"/>
<text transform="translate(906.20,1820.24) scale(0.9600,1)" font-size="24.20" font-weight="bold" font-style="normal" fill="#000" stroke="#000" stroke-width="0.12">3</text>
<text transform="translate(527.50,1733.03) rotate(-90) scale(0.9151,1)" font-size="27.62" font-weight="normal" font-style="normal" fill="#000" stroke="#000" stroke-width="0.35">KLF5 activity Score</text>
<text transform="translate(609.60,1492.00) scale(0.9300,1)" font-size="19.80" font-weight="normal" font-style="normal" fill="#0000ff" stroke="#0000ff" stroke-width="0.35">r = 0.601</text>
<text transform="translate(610.75,1513.50) scale(0.9363,1)" font-size="19.80" font-weight="normal" font-style="normal" fill="#0000ff" stroke="#0000ff" stroke-width="0.35">Adj p-val = 0</text>
<path d="M1092.8,1563.6 L1408.9,1617.1" stroke="#ff0000" stroke-width="4.6" stroke-linecap="round"/>
<g fill="none" stroke="#000" stroke-width="1.75"><circle cx="1138.0" cy="1459.0" r="4.85"/><circle cx="1190.6" cy="1465.7" r="4.85"/><circle cx="1193.8" cy="1473.1" r="4.85"/><circle cx="1094.4" cy="1487.6" r="4.85"/><circle cx="1112.3" cy="1480.2" r="4.85"/><circle cx="1132.2" cy="1482.7" r="4.85"/><circle cx="1186.1" cy="1482.7" r="4.85"/><circle cx="1206.6" cy="1481.5" r="4.85"/><circle cx="1234.2" cy="1501.0" r="4.85"/><circle cx="1243.2" cy="1497.8" r="4.85"/><circle cx="1270.7" cy="1527.4" r="4.85"/><circle cx="1285.5" cy="1546.0" r="4.85"/><circle cx="1302.8" cy="1547.2" r="4.85"/><circle cx="1295.1" cy="1559.8" r="4.85"/><circle cx="1285.5" cy="1567.1" r="4.85"/><circle cx="1272.6" cy="1559.1" r="4.85"/><circle cx="1266.9" cy="1565.9" r="4.85"/><circle cx="1254.1" cy="1562.7" r="4.85"/><circle cx="1258.5" cy="1558.5" r="4.85"/><circle cx="1311.1" cy="1576.1" r="4.85"/><circle cx="1288.0" cy="1585.4" r="4.85"/><circle cx="1293.2" cy="1593.5" r="4.85"/><circle cx="1276.5" cy="1592.2" r="4.85"/><circle cx="1264.3" cy="1594.7" r="4.85"/><circle cx="1257.3" cy="1603.1" r="4.85"/><circle cx="1280.3" cy="1609.2" r="4.85"/><circle cx="1285.5" cy="1614.0" r="4.85"/><circle cx="1295.1" cy="1606.0" r="4.85"/><circle cx="1297.7" cy="1612.7" r="4.85"/><circle cx="1325.9" cy="1611.7" r="4.85"/><circle cx="1339.3" cy="1599.6" r="4.85"/><circle cx="1350.2" cy="1588.0" r="4.85"/><circle cx="1362.4" cy="1584.8" r="4.85"/><circle cx="1396.4" cy="1606.0" r="4.85"/><circle cx="1373.3" cy="1629.1" r="4.85"/><circle cx="1301.5" cy="1634.2" r="4.85"/><circle cx="1275.9" cy="1641.9" r="4.85"/><circle cx="1302.1" cy="1666.3" r="4.85"/><circle cx="1280.3" cy="1669.8" r="4.85"/><circle cx="1266.9" cy="1673.0" r="4.85"/><circle cx="1269.4" cy="1684.3" r="4.85"/><circle cx="1266.9" cy="1689.1" r="4.85"/><circle cx="1253.4" cy="1678.5" r="4.85"/><circle cx="1243.8" cy="1667.9" r="4.85"/><circle cx="1234.2" cy="1669.2" r="4.85"/><circle cx="1233.5" cy="1696.1" r="4.85"/><circle cx="1313.0" cy="1692.9" r="4.85"/><circle cx="1335.5" cy="1680.7" r="4.85"/><circle cx="1401.5" cy="1677.5" r="4.85"/><circle cx="1393.2" cy="1734.3" r="4.85"/><circle cx="1280.3" cy="1765.8" r="4.85"/><circle cx="1236.7" cy="1779.9" r="4.85"/><circle cx="1213.7" cy="1717.6" r="4.85"/><circle cx="1219.4" cy="1730.8" r="4.85"/><circle cx="1175.8" cy="1711.2" r="4.85"/><circle cx="1122.0" cy="1733.7" r="4.85"/><circle cx="1123.9" cy="1701.3" r="4.85"/><circle cx="1122.0" cy="1684.9" r="4.85"/><circle cx="1093.1" cy="1648.7" r="4.85"/><circle cx="1098.2" cy="1663.1" r="4.85"/><circle cx="1101.4" cy="1673.7" r="4.85"/><circle cx="1109.1" cy="1667.6" r="4.85"/><circle cx="1136.7" cy="1661.2" r="4.85"/><circle cx="1160.4" cy="1668.5" r="4.85"/><circle cx="1164.3" cy="1681.7" r="4.85"/><circle cx="1171.3" cy="1679.8" r="4.85"/><circle cx="1179.0" cy="1673.0" r="4.85"/><circle cx="1200.2" cy="1667.6" r="4.85"/><circle cx="1208.5" cy="1647.4" r="4.85"/><circle cx="1188.0" cy="1650.6" r="4.85"/><circle cx="1179.0" cy="1641.0" r="4.85"/><circle cx="1202.1" cy="1632.3" r="4.85"/><circle cx="1226.5" cy="1634.2" r="4.85"/><circle cx="1227.1" cy="1627.5" r="4.85"/><circle cx="1218.1" cy="1613.4" r="4.85"/><circle cx="1207.0" cy="1577.2" r="4.85"/><circle cx="1173.5" cy="1541.2" r="4.85"/><circle cx="1203.3" cy="1607.3" r="4.85"/><circle cx="1147.4" cy="1532.9" r="4.85"/><circle cx="1186.5" cy="1642.8" r="4.85"/><circle cx="1145.9" cy="1616.6" r="4.85"/><circle cx="1153.0" cy="1591.2" r="4.85"/><circle cx="1141.3" cy="1531.4" r="4.85"/><circle cx="1157.0" cy="1554.3" r="4.85"/><circle cx="1119.0" cy="1604.1" r="4.85"/><circle cx="1155.8" cy="1558.7" r="4.85"/><circle cx="1150.1" cy="1531.6" r="4.85"/><circle cx="1141.3" cy="1615.0" r="4.85"/><circle cx="1132.7" cy="1578.3" r="4.85"/><circle cx="1209.7" cy="1537.2" r="4.85"/><circle cx="1215.3" cy="1552.9" r="4.85"/><circle cx="1162.7" cy="1517.5" r="4.85"/><circle cx="1185.1" cy="1557.6" r="4.85"/><circle cx="1096.1" cy="1570.8" r="4.85"/><circle cx="1209.0" cy="1586.7" r="4.85"/><circle cx="1222.7" cy="1594.0" r="4.85"/><circle cx="1149.7" cy="1528.2" r="4.85"/><circle cx="1151.2" cy="1621.2" r="4.85"/><circle cx="1177.5" cy="1637.5" r="4.85"/><circle cx="1105.0" cy="1555.7" r="4.85"/><circle cx="1165.3" cy="1633.2" r="4.85"/><circle cx="1148.1" cy="1649.0" r="4.85"/><circle cx="1210.5" cy="1520.6" r="4.85"/><circle cx="1101.5" cy="1596.8" r="4.85"/><circle cx="1124.7" cy="1551.3" r="4.85"/><circle cx="1162.2" cy="1565.7" r="4.85"/><circle cx="1211.5" cy="1563.2" r="4.85"/><circle cx="1170.6" cy="1539.2" r="4.85"/><circle cx="1122.8" cy="1537.2" r="4.85"/><circle cx="1220.9" cy="1556.9" r="4.85"/><circle cx="1218.6" cy="1602.7" r="4.85"/><circle cx="1134.5" cy="1563.9" r="4.85"/><circle cx="1098.1" cy="1571.0" r="4.85"/><circle cx="1104.4" cy="1560.5" r="4.85"/><circle cx="1138.5" cy="1599.1" r="4.85"/><circle cx="1177.6" cy="1576.9" r="4.85"/><circle cx="1186.9" cy="1596.6" r="4.85"/><circle cx="1190.4" cy="1552.9" r="4.85"/><circle cx="1198.8" cy="1605.4" r="4.85"/><circle cx="1159.1" cy="1640.3" r="4.85"/><circle cx="1134.9" cy="1574.1" r="4.85"/><circle cx="1194.0" cy="1608.1" r="4.85"/><circle cx="1146.7" cy="1535.7" r="4.85"/><circle cx="1142.4" cy="1600.3" r="4.85"/><circle cx="1195.0" cy="1574.3" r="4.85"/><circle cx="1208.4" cy="1584.2" r="4.85"/><circle cx="1111.1" cy="1591.5" r="4.85"/><circle cx="1167.3" cy="1541.5" r="4.85"/><circle cx="1143.1" cy="1501.9" r="4.85"/><circle cx="1110.4" cy="1590.8" r="4.85"/><circle cx="1118.4" cy="1626.3" r="4.85"/><circle cx="1224.4" cy="1565.6" r="4.85"/><circle cx="1136.7" cy="1505.7" r="4.85"/><circle cx="1143.4" cy="1645.1" r="4.85"/><circle cx="1200.5" cy="1539.4" r="4.85"/><circle cx="1172.1" cy="1566.7" r="4.85"/><circle cx="1188.7" cy="1624.8" r="4.85"/><circle cx="1138.3" cy="1590.9" r="4.85"/><circle cx="1107.4" cy="1555.2" r="4.85"/><circle cx="1167.7" cy="1628.1" r="4.85"/><circle cx="1143.0" cy="1621.0" r="4.85"/><circle cx="1197.6" cy="1623.1" r="4.85"/><circle cx="1141.5" cy="1536.4" r="4.85"/><circle cx="1190.6" cy="1517.5" r="4.85"/><circle cx="1138.9" cy="1528.0" r="4.85"/><circle cx="1163.3" cy="1525.0" r="4.85"/><circle cx="1129.0" cy="1634.4" r="4.85"/><circle cx="1180.0" cy="1510.3" r="4.85"/><circle cx="1133.4" cy="1565.6" r="4.85"/><circle cx="1171.7" cy="1639.0" r="4.85"/><circle cx="1177.1" cy="1530.6" r="4.85"/><circle cx="1137.8" cy="1587.6" r="4.85"/><circle cx="1174.9" cy="1624.1" r="4.85"/><circle cx="1168.0" cy="1585.4" r="4.85"/><circle cx="1199.9" cy="1637.9" r="4.85"/><circle cx="1186.4" cy="1522.6" r="4.85"/><circle cx="1145.7" cy="1589.6" r="4.85"/><circle cx="1179.7" cy="1575.1" r="4.85"/><circle cx="1160.5" cy="1553.1" r="4.85"/><circle cx="1171.6" cy="1548.3" r="4.85"/><circle cx="1125.2" cy="1534.7" r="4.85"/><circle cx="1152.7" cy="1612.5" r="4.85"/><circle cx="1112.5" cy="1535.6" r="4.85"/><circle cx="1227.1" cy="1568.8" r="4.85"/><circle cx="1192.5" cy="1639.0" r="4.85"/><circle cx="1178.1" cy="1505.3" r="4.85"/><circle cx="1156.8" cy="1510.6" r="4.85"/><circle cx="1117.6" cy="1544.4" r="4.85"/><circle cx="1180.0" cy="1630.6" r="4.85"/><circle cx="1133.6" cy="1541.1" r="4.85"/><circle cx="1164.5" cy="1543.2" r="4.85"/><circle cx="1160.9" cy="1524.3" r="4.85"/><circle cx="1173.1" cy="1563.0" r="4.85"/><circle cx="1207.4" cy="1519.7" r="4.85"/><circle cx="1179.9" cy="1517.3" r="4.85"/><circle cx="1164.7" cy="1525.8" r="4.85"/><circle cx="1140.4" cy="1586.6" r="4.85"/><circle cx="1186.0" cy="1511.2" r="4.85"/><circle cx="1181.1" cy="1510.7" r="4.85"/><circle cx="1129.9" cy="1601.6" r="4.85"/><circle cx="1156.7" cy="1524.0" r="4.85"/><circle cx="1214.7" cy="1554.3" r="4.85"/><circle cx="1098.8" cy="1591.5" r="4.85"/><circle cx="1187.3" cy="1518.0" r="4.85"/><circle cx="1203.2" cy="1528.8" r="4.85"/><circle cx="1193.7" cy="1583.9" r="4.85"/><circle cx="1228.7" cy="1571.5" r="4.85"/><circle cx="1227.0" cy="1564.2" r="4.85"/><circle cx="1199.4" cy="1543.4" r="4.85"/><circle cx="1151.5" cy="1567.4" r="4.85"/><circle cx="1211.2" cy="1617.8" r="4.85"/><circle cx="1137.1" cy="1521.0" r="4.85"/><circle cx="1150.9" cy="1537.1" r="4.85"/><circle cx="1109.8" cy="1542.1" r="4.85"/><circle cx="1158.9" cy="1504.2" r="4.85"/><circle cx="1149.9" cy="1592.8" r="4.85"/><circle cx="1133.4" cy="1620.3" r="4.85"/><circle cx="1178.9" cy="1627.2" r="4.85"/><circle cx="1134.6" cy="1574.2" r="4.85"/><circle cx="1210.4" cy="1618.5" r="4.85"/><circle cx="1190.6" cy="1593.3" r="4.85"/><circle cx="1101.2" cy="1602.7" r="4.85"/><circle cx="1136.1" cy="1591.9" r="4.85"/><circle cx="1127.1" cy="1615.1" r="4.85"/><circle cx="1120.1" cy="1624.0" r="4.85"/><circle cx="1191.3" cy="1564.6" r="4.85"/><circle cx="1113.8" cy="1586.1" r="4.85"/><circle cx="1145.2" cy="1576.8" r="4.85"/><circle cx="1196.2" cy="1522.0" r="4.85"/><circle cx="1205.5" cy="1574.6" r="4.85"/><circle cx="1223.6" cy="1571.5" r="4.85"/><circle cx="1209.5" cy="1629.0" r="4.85"/><circle cx="1159.3" cy="1578.1" r="4.85"/><circle cx="1154.7" cy="1562.8" r="4.85"/><circle cx="1221.9" cy="1599.8" r="4.85"/><circle cx="1147.1" cy="1523.7" r="4.85"/><circle cx="1162.7" cy="1567.5" r="4.85"/><circle cx="1152.2" cy="1528.1" r="4.85"/><circle cx="1163.3" cy="1598.8" r="4.85"/><circle cx="1104.8" cy="1546.5" r="4.85"/><circle cx="1176.1" cy="1631.4" r="4.85"/><circle cx="1168.3" cy="1533.1" r="4.85"/><circle cx="1174.7" cy="1646.4" r="4.85"/><circle cx="1188.8" cy="1601.2" r="4.85"/><circle cx="1189.7" cy="1549.4" r="4.85"/><circle cx="1203.4" cy="1608.7" r="4.85"/><circle cx="1151.4" cy="1586.7" r="4.85"/><circle cx="1155.1" cy="1598.9" r="4.85"/><circle cx="1149.0" cy="1615.8" r="4.85"/><circle cx="1169.9" cy="1597.2" r="4.85"/><circle cx="1180.5" cy="1619.2" r="4.85"/><circle cx="1171.3" cy="1562.4" r="4.85"/><circle cx="1213.7" cy="1570.1" r="4.85"/><circle cx="1167.6" cy="1646.3" r="4.85"/><circle cx="1159.8" cy="1582.6" r="4.85"/><circle cx="1099.5" cy="1586.0" r="4.85"/><circle cx="1158.6" cy="1578.3" r="4.85"/><circle cx="1164.7" cy="1603.6" r="4.85"/><circle cx="1137.3" cy="1584.3" r="4.85"/><circle cx="1113.5" cy="1606.0" r="4.85"/><circle cx="1174.7" cy="1544.9" r="4.85"/><circle cx="1175.1" cy="1610.9" r="4.85"/><circle cx="1185.6" cy="1577.6" r="4.85"/><circle cx="1155.2" cy="1510.2" r="4.85"/><circle cx="1128.0" cy="1519.9" r="4.85"/><circle cx="1187.0" cy="1545.8" r="4.85"/><circle cx="1139.5" cy="1603.6" r="4.85"/><circle cx="1187.4" cy="1564.4" r="4.85"/><circle cx="1158.5" cy="1634.4" r="4.85"/><circle cx="1186.8" cy="1605.7" r="4.85"/><circle cx="1177.4" cy="1595.5" r="4.85"/><circle cx="1157.4" cy="1513.7" r="4.85"/><circle cx="1203.0" cy="1626.4" r="4.85"/><circle cx="1123.1" cy="1532.6" r="4.85"/><circle cx="1172.7" cy="1516.3" r="4.85"/><circle cx="1178.3" cy="1530.8" r="4.85"/><circle cx="1170.2" cy="1531.3" r="4.85"/><circle cx="1188.6" cy="1570.4" r="4.85"/><circle cx="1212.1" cy="1545.6" r="4.85"/><circle cx="1125.6" cy="1563.9" r="4.85"/><circle cx="1215.6" cy="1552.0" r="4.85"/><circle cx="1122.3" cy="1597.6" r="4.85"/><circle cx="1173.8" cy="1620.2" r="4.85"/><circle cx="1102.5" cy="1540.9" r="4.85"/><circle cx="1155.9" cy="1622.8" r="4.85"/><circle cx="1186.7" cy="1512.8" r="4.85"/><circle cx="1194.6" cy="1579.6" r="4.85"/><circle cx="1123.7" cy="1550.6" r="4.85"/><circle cx="1165.2" cy="1591.5" r="4.85"/><circle cx="1154.3" cy="1502.7" r="4.85"/><circle cx="1105.9" cy="1540.3" r="4.85"/><circle cx="1110.1" cy="1611.8" r="4.85"/><circle cx="1124.7" cy="1547.8" r="4.85"/><circle cx="1179.0" cy="1608.3" r="4.85"/><circle cx="1163.6" cy="1525.6" r="4.85"/><circle cx="1097.5" cy="1586.1" r="4.85"/><circle cx="1139.9" cy="1533.8" r="4.85"/><circle cx="1210.8" cy="1525.3" r="4.85"/><circle cx="1144.7" cy="1514.0" r="4.85"/><circle cx="1196.7" cy="1568.9" r="4.85"/><circle cx="1137.5" cy="1536.9" r="4.85"/><circle cx="1183.1" cy="1504.2" r="4.85"/><circle cx="1213.1" cy="1551.8" r="4.85"/><circle cx="1150.3" cy="1586.4" r="4.85"/><circle cx="1133.6" cy="1593.9" r="4.85"/><circle cx="1213.9" cy="1597.8" r="4.85"/><circle cx="1164.9" cy="1513.0" r="4.85"/><circle cx="1135.0" cy="1609.7" r="4.85"/><circle cx="1198.0" cy="1537.3" r="4.85"/><circle cx="1221.7" cy="1579.7" r="4.85"/><circle cx="1186.3" cy="1509.3" r="4.85"/><circle cx="1212.6" cy="1562.8" r="4.85"/><circle cx="1197.6" cy="1585.3" r="4.85"/><circle cx="1182.2" cy="1624.3" r="4.85"/><circle cx="1110.0" cy="1529.1" r="4.85"/><circle cx="1166.2" cy="1524.1" r="4.85"/><circle cx="1192.8" cy="1571.8" r="4.85"/><circle cx="1110.0" cy="1543.7" r="4.85"/><circle cx="1166.8" cy="1613.1" r="4.85"/><circle cx="1125.0" cy="1553.9" r="4.85"/><circle cx="1121.3" cy="1552.2" r="4.85"/><circle cx="1186.9" cy="1548.0" r="4.85"/><circle cx="1149.7" cy="1525.8" r="4.85"/><circle cx="1130.0" cy="1522.5" r="4.85"/><circle cx="1164.8" cy="1616.9" r="4.85"/><circle cx="1184.7" cy="1646.6" r="4.85"/><circle cx="1195.1" cy="1606.8" r="4.85"/><circle cx="1221.9" cy="1585.2" r="4.85"/><circle cx="1134.4" cy="1561.6" r="4.85"/><circle cx="1151.5" cy="1574.7" r="4.85"/><circle cx="1106.8" cy="1561.4" r="4.85"/><circle cx="1155.9" cy="1642.3" r="4.85"/><circle cx="1140.9" cy="1568.6" r="4.85"/><circle cx="1205.9" cy="1602.8" r="4.85"/><circle cx="1185.4" cy="1605.0" r="4.85"/><circle cx="1130.0" cy="1554.1" r="4.85"/><circle cx="1131.1" cy="1567.4" r="4.85"/><circle cx="1098.5" cy="1581.7" r="4.85"/><circle cx="1115.2" cy="1555.9" r="4.85"/><circle cx="1114.9" cy="1580.2" r="4.85"/><circle cx="1141.8" cy="1569.9" r="4.85"/><circle cx="1127.9" cy="1527.2" r="4.85"/><circle cx="1162.8" cy="1565.4" r="4.85"/><circle cx="1139.0" cy="1569.9" r="4.85"/><circle cx="1155.4" cy="1544.2" r="4.85"/><circle cx="1159.0" cy="1566.7" r="4.85"/><circle cx="1137.0" cy="1603.9" r="4.85"/><circle cx="1104.4" cy="1543.2" r="4.85"/><circle cx="1125.2" cy="1576.2" r="4.85"/><circle cx="1150.3" cy="1531.3" r="4.85"/><circle cx="1140.9" cy="1550.9" r="4.85"/><circle cx="1137.5" cy="1600.6" r="4.85"/><circle cx="1128.4" cy="1561.7" r="4.85"/><circle cx="1157.7" cy="1565.8" r="4.85"/><circle cx="1115.7" cy="1600.2" r="4.85"/><circle cx="1153.8" cy="1558.3" r="4.85"/><circle cx="1160.9" cy="1534.8" r="4.85"/><circle cx="1119.1" cy="1556.0" r="4.85"/><circle cx="1137.6" cy="1602.1" r="4.85"/><circle cx="1171.1" cy="1570.2" r="4.85"/><circle cx="1162.1" cy="1561.8" r="4.85"/><circle cx="1100.7" cy="1580.4" r="4.85"/><circle cx="1155.0" cy="1597.2" r="4.85"/><circle cx="1128.8" cy="1568.1" r="4.85"/><circle cx="1128.6" cy="1529.8" r="4.85"/><circle cx="1114.7" cy="1543.1" r="4.85"/><circle cx="1127.5" cy="1562.7" r="4.85"/><circle cx="1095.5" cy="1567.7" r="4.85"/><circle cx="1157.7" cy="1590.0" r="4.85"/><circle cx="1158.5" cy="1496.0" r="4.85"/><circle cx="1124.1" cy="1558.5" r="4.85"/><circle cx="1135.7" cy="1554.7" r="4.85"/><circle cx="1156.6" cy="1566.3" r="4.85"/><circle cx="1106.0" cy="1543.1" r="4.85"/><circle cx="1132.7" cy="1598.6" r="4.85"/><circle cx="1150.7" cy="1575.4" r="4.85"/><circle cx="1149.7" cy="1569.5" r="4.85"/><circle cx="1145.0" cy="1560.2" r="4.85"/><circle cx="1111.4" cy="1568.8" r="4.85"/><circle cx="1156.3" cy="1573.3" r="4.85"/><circle cx="1150.1" cy="1576.1" r="4.85"/><circle cx="1161.7" cy="1554.1" r="4.85"/><circle cx="1151.7" cy="1598.4" r="4.85"/><circle cx="1127.1" cy="1547.5" r="4.85"/><circle cx="1152.2" cy="1582.0" r="4.85"/><circle cx="1161.1" cy="1586.9" r="4.85"/><circle cx="1138.8" cy="1557.7" r="4.85"/><circle cx="1116.3" cy="1590.6" r="4.85"/><circle cx="1124.9" cy="1579.0" r="4.85"/><circle cx="1112.0" cy="1554.2" r="4.85"/><circle cx="1130.9" cy="1568.7" r="4.85"/><circle cx="1131.3" cy="1583.8" r="4.85"/><circle cx="1152.6" cy="1584.0" r="4.85"/><circle cx="1106.1" cy="1578.1" r="4.85"/><circle cx="1128.5" cy="1576.6" r="4.85"/><circle cx="1130.0" cy="1569.6" r="4.85"/><circle cx="1159.4" cy="1591.5" r="4.85"/><circle cx="1117.8" cy="1523.7" r="4.85"/><circle cx="1144.9" cy="1537.2" r="4.85"/><circle cx="1133.8" cy="1556.6" r="4.85"/><circle cx="1143.5" cy="1542.5" r="4.85"/><circle cx="1138.1" cy="1591.6" r="4.85"/><circle cx="1159.5" cy="1584.4" r="4.85"/><circle cx="1111.4" cy="1567.0" r="4.85"/><circle cx="1106.8" cy="1581.8" r="4.85"/><circle cx="1171.1" cy="1593.3" r="4.85"/><circle cx="1171.4" cy="1563.0" r="4.85"/><circle cx="1150.2" cy="1537.8" r="4.85"/><circle cx="1149.7" cy="1566.9" r="4.85"/><circle cx="1129.7" cy="1560.4" r="4.85"/><circle cx="1122.9" cy="1596.2" r="4.85"/><circle cx="1103.0" cy="1608.0" r="4.85"/><circle cx="1160.2" cy="1560.3" r="4.85"/><circle cx="1149.3" cy="1558.0" r="4.85"/><circle cx="1110.6" cy="1550.6" r="4.85"/><circle cx="1134.9" cy="1598.5" r="4.85"/><circle cx="1141.0" cy="1593.8" r="4.85"/><circle cx="1128.0" cy="1549.7" r="4.85"/><circle cx="1162.2" cy="1596.1" r="4.85"/><circle cx="1119.3" cy="1568.6" r="4.85"/><circle cx="1123.6" cy="1562.6" r="4.85"/><circle cx="1134.9" cy="1571.8" r="4.85"/><circle cx="1150.6" cy="1577.3" r="4.85"/><circle cx="1137.7" cy="1525.6" r="4.85"/><circle cx="1157.2" cy="1558.3" r="4.85"/><circle cx="1139.8" cy="1557.5" r="4.85"/><circle cx="1142.0" cy="1557.5" r="4.85"/><circle cx="1109.0" cy="1542.3" r="4.85"/><circle cx="1164.1" cy="1583.5" r="4.85"/><circle cx="1132.2" cy="1552.0" r="4.85"/><circle cx="1137.5" cy="1550.5" r="4.85"/><circle cx="1144.4" cy="1590.1" r="4.85"/><circle cx="1141.1" cy="1597.4" r="4.85"/><circle cx="1158.3" cy="1569.4" r="4.85"/><circle cx="1110.2" cy="1559.7" r="4.85"/><circle cx="1138.4" cy="1552.2" r="4.85"/><circle cx="1150.2" cy="1535.3" r="4.85"/><circle cx="1172.2" cy="1560.6" r="4.85"/><circle cx="1110.7" cy="1581.6" r="4.85"/><circle cx="1114.4" cy="1549.4" r="4.85"/><circle cx="1125.4" cy="1601.2" r="4.85"/><circle cx="1152.2" cy="1629.7" r="4.85"/><circle cx="1134.9" cy="1572.0" r="4.85"/><circle cx="1139.7" cy="1558.4" r="4.85"/><circle cx="1125.2" cy="1572.1" r="4.85"/><circle cx="1117.6" cy="1602.9" r="4.85"/><circle cx="1133.0" cy="1587.1" r="4.85"/><circle cx="1127.4" cy="1590.9" r="4.85"/><circle cx="1173.6" cy="1564.4" r="4.85"/><circle cx="1124.7" cy="1591.6" r="4.85"/><circle cx="1155.4" cy="1619.5" r="4.85"/><circle cx="1147.0" cy="1550.2" r="4.85"/><circle cx="1135.3" cy="1574.4" r="4.85"/><circle cx="1100.1" cy="1566.7" r="4.85"/><circle cx="1134.8" cy="1541.7" r="4.85"/><circle cx="1124.0" cy="1607.8" r="4.85"/><circle cx="1151.8" cy="1600.3" r="4.85"/><circle cx="1137.9" cy="1581.1" r="4.85"/><circle cx="1140.2" cy="1524.7" r="4.85"/><circle cx="1125.4" cy="1580.3" r="4.85"/><circle cx="1123.1" cy="1554.3" r="4.85"/><circle cx="1132.5" cy="1565.0" r="4.85"/><circle cx="1119.1" cy="1573.2" r="4.85"/><circle cx="1171.9" cy="1556.4" r="4.85"/><circle cx="1141.4" cy="1563.4" r="4.85"/><circle cx="1173.8" cy="1576.7" r="4.85"/><circle cx="1143.6" cy="1525.7" r="4.85"/><circle cx="1146.4" cy="1582.5" r="4.85"/><circle cx="1139.2" cy="1581.3" r="4.85"/><circle cx="1145.0" cy="1591.4" r="4.85"/><circle cx="1139.2" cy="1519.7" r="4.85"/><circle cx="1115.2" cy="1555.1" r="4.85"/><circle cx="1107.7" cy="1542.5" r="4.85"/><circle cx="1157.6" cy="1614.2" r="4.85"/><circle cx="1104.5" cy="1588.3" r="4.85"/><circle cx="1129.1" cy="1578.2" r="4.85"/><circle cx="1108.2" cy="1581.1" r="4.85"/><circle cx="1135.6" cy="1532.6" r="4.85"/><circle cx="1126.8" cy="1605.6" r="4.85"/><circle cx="1119.1" cy="1584.0" r="4.85"/><circle cx="1119.1" cy="1583.4" r="4.85"/><circle cx="1117.9" cy="1579.0" r="4.85"/><circle cx="1139.2" cy="1550.8" r="4.85"/><circle cx="1125.1" cy="1575.6" r="4.85"/><circle cx="1133.0" cy="1574.1" r="4.85"/><circle cx="1142.0" cy="1554.6" r="4.85"/><circle cx="1142.5" cy="1569.9" r="4.85"/><circle cx="1112.0" cy="1567.9" r="4.85"/><circle cx="1111.8" cy="1611.4" r="4.85"/><circle cx="1117.5" cy="1553.1" r="4.85"/><circle cx="1148.6" cy="1558.9" r="4.85"/><circle cx="1175.7" cy="1554.6" r="4.85"/><circle cx="1140.0" cy="1606.5" r="4.85"/><circle cx="1164.9" cy="1591.3" r="4.85"/><circle cx="1171.5" cy="1581.9" r="4.85"/><circle cx="1149.3" cy="1553.8" r="4.85"/><circle cx="1119.1" cy="1554.1" r="4.85"/><circle cx="1141.6" cy="1604.2" r="4.85"/><circle cx="1111.8" cy="1556.1" r="4.85"/><circle cx="1145.2" cy="1574.3" r="4.85"/><circle cx="1149.3" cy="1557.0" r="4.85"/><circle cx="1153.8" cy="1535.0" r="4.85"/><circle cx="1144.3" cy="1584.5" r="4.85"/><circle cx="1157.2" cy="1561.8" r="4.85"/><circle cx="1147.7" cy="1542.8" r="4.85"/><circle cx="1158.4" cy="1579.4" r="4.85"/><circle cx="1113.3" cy="1584.9" r="4.85"/><circle cx="1178.2" cy="1531.9" r="4.85"/><circle cx="1149.4" cy="1556.5" r="4.85"/><circle cx="1118.8" cy="1585.7" r="4.85"/><circle cx="1154.0" cy="1569.4" r="4.85"/><circle cx="1129.5" cy="1588.9" r="4.85"/><circle cx="1167.7" cy="1559.3" r="4.85"/><circle cx="1149.0" cy="1563.1" r="4.85"/><circle cx="1167.8" cy="1505.2" r="4.85"/></g>
<path d="M1086.70,1459.00 V1779.90 M1073.20,1779.90 H1409.00" stroke="#000" stroke-width="3.2" fill="none"/>
<text transform="translate(1054.71,1789.30) scale(0.9400,1)" font-size="25.80" font-weight="bold" font-style="normal" fill="#000" stroke="#000" stroke-width="0.12">0</text>
<path d="M1073.20,1715.72 H1086.70" stroke="#000" stroke-width="3.2"/>
<text transform="translate(1041.25,1725.12) scale(0.9400,1)" font-size="25.80" font-weight="bold" font-style="normal" fill="#000" stroke="#000" stroke-width="0.12">20</text>
<path d="M1073.20,1651.54 H1086.70" stroke="#000" stroke-width="3.2"/>
<text transform="translate(1041.25,1660.94) scale(0.9400,1)" font-size="25.80" font-weight="bold" font-style="normal" fill="#000" stroke="#000" stroke-width="0.12">40</text>
<path d="M1073.20,1587.36 H1086.70" stroke="#000" stroke-width="3.2"/>
<text transform="translate(1041.25,1596.76) scale(0.9400,1)" font-size="25.80" font-weight="bold" font-style="normal" fill="#000" stroke="#000" stroke-width="0.12">60</text>
<path d="M1073.20,1523.18 H1086.70" stroke="#000" stroke-width="3.2"/>
<text transform="translate(1041.25,1532.58) scale(0.9400,1)" font-size="25.80" font-weight="bold" font-style="normal" fill="#000" stroke="#000" stroke-width="0.12">80</text>
<path d="M1073.20,1459.00 H1086.70" stroke="#000" stroke-width="3.2"/>
<text transform="translate(1027.73,1468.40) scale(0.9400,1)" font-size="25.80" font-weight="bold" font-style="normal" fill="#000" stroke="#000" stroke-width="0.12">100</text>
<path d="M1086.70,1779.90 V1793.90" stroke="#000" stroke-width="3.2"/>
<text transform="translate(1070.02,1821.30) scale(0.9300,1)" font-size="25.80" font-weight="bold" font-style="normal" fill="#000" stroke="#000" stroke-width="0.12">0.0</text>
<path d="M1150.82,1779.90 V1793.90" stroke="#000" stroke-width="3.2"/>
<text transform="translate(1133.99,1821.30) scale(0.9300,1)" font-size="25.80" font-weight="bold" font-style="normal" fill="#000" stroke="#000" stroke-width="0.12">0.1</text>
<path d="M1214.94,1779.90 V1793.90" stroke="#000" stroke-width="3.2"/>
<text transform="translate(1198.23,1821.30) scale(0.9300,1)" font-size="25.80" font-weight="bold" font-style="normal" fill="#000" stroke="#000" stroke-width="0.12">0.2</text>
<path d="M1279.06,1779.90 V1793.90" stroke="#000" stroke-width="3.2"/>
<text transform="translate(1262.32,1821.30) scale(0.9300,1)" font-size="25.80" font-weight="bold" font-style="normal" fill="#000" stroke="#000" stroke-width="0.12">0.3</text>
<path d="M1343.18,1779.90 V1793.90" stroke="#000" stroke-width="3.2"/>
<text transform="translate(1326.08,1821.30) scale(0.9300,1)" font-size="25.80" font-weight="bold" font-style="normal" fill="#000" stroke="#000" stroke-width="0.12">0.4</text>
<path d="M1407.30,1779.90 V1793.90" stroke="#000" stroke-width="3.2"/>
<text transform="translate(1390.47,1821.30) scale(0.9300,1)" font-size="25.80" font-weight="bold" font-style="normal" fill="#000" stroke="#000" stroke-width="0.12">0.5</text>
<text transform="translate(1012.90,1719.32) rotate(-90) scale(0.9425,1)" font-size="27.76" font-weight="normal" font-style="normal" fill="#000" stroke="#000" stroke-width="0.35">AR activity Score</text>
<text transform="translate(1276.43,1483.70) scale(0.9550,1)" font-size="20.40" font-weight="normal" font-style="normal" fill="#0000ff" stroke="#0000ff" stroke-width="0.35">r = -0.106</text>
<text transform="translate(1277.65,1506.40) scale(0.9642,1)" font-size="19.80" font-weight="normal" font-style="normal" fill="#0000ff" stroke="#0000ff" stroke-width="0.35">Adj p-val = 0.032</text>
<path d="M1631.9,1682.9 L1947.2,1588.8" stroke="#ff0000" stroke-width="4.6" stroke-linecap="round"/>
<g fill="none" stroke="#000" stroke-width="1.75"><circle cx="1912.0" cy="1459.0" r="4.85"/><circle cx="1840.2" cy="1494.6" r="4.85"/><circle cx="1726.8" cy="1494.0" r="4.85"/><circle cx="1764.6" cy="1496.9" r="4.85"/><circle cx="1747.3" cy="1510.6" r="4.85"/><circle cx="1710.8" cy="1512.9" r="4.85"/><circle cx="1758.2" cy="1519.9" r="4.85"/><circle cx="1692.2" cy="1527.0" r="4.85"/><circle cx="1712.7" cy="1538.2" r="4.85"/><circle cx="1772.3" cy="1538.8" r="4.85"/><circle cx="1808.2" cy="1530.5" r="4.85"/><circle cx="1805.0" cy="1545.3" r="4.85"/><circle cx="1810.8" cy="1553.6" r="4.85"/><circle cx="1817.8" cy="1559.4" r="4.85"/><circle cx="1791.5" cy="1561.9" r="4.85"/><circle cx="1806.3" cy="1584.1" r="4.85"/><circle cx="1873.5" cy="1570.6" r="4.85"/><circle cx="1877.4" cy="1585.3" r="4.85"/><circle cx="1826.1" cy="1593.7" r="4.85"/><circle cx="1823.6" cy="1605.5" r="4.85"/><circle cx="1819.1" cy="1610.0" r="4.85"/><circle cx="1839.6" cy="1608.4" r="4.85"/><circle cx="1841.5" cy="1612.3" r="4.85"/><circle cx="1814.6" cy="1625.7" r="4.85"/><circle cx="1864.6" cy="1621.6" r="4.85"/><circle cx="1887.6" cy="1626.1" r="4.85"/><circle cx="1935.1" cy="1609.4" r="4.85"/><circle cx="1940.2" cy="1638.9" r="4.85"/><circle cx="1901.1" cy="1654.3" r="4.85"/><circle cx="1930.6" cy="1694.0" r="4.85"/><circle cx="1851.1" cy="1657.8" r="4.85"/><circle cx="1850.5" cy="1678.3" r="4.85"/><circle cx="1834.5" cy="1638.2" r="4.85"/><circle cx="1833.2" cy="1652.0" r="4.85"/><circle cx="1832.5" cy="1664.5" r="4.85"/><circle cx="1836.4" cy="1683.1" r="4.85"/><circle cx="1822.9" cy="1673.5" r="4.85"/><circle cx="1817.8" cy="1687.3" r="4.85"/><circle cx="1812.0" cy="1663.9" r="4.85"/><circle cx="1806.3" cy="1681.5" r="4.85"/><circle cx="1806.3" cy="1691.5" r="4.85"/><circle cx="1824.2" cy="1713.3" r="4.85"/><circle cx="1810.8" cy="1755.9" r="4.85"/><circle cx="1792.2" cy="1706.2" r="4.85"/><circle cx="1796.7" cy="1676.7" r="4.85"/><circle cx="1784.5" cy="1685.0" r="4.85"/><circle cx="1782.6" cy="1691.5" r="4.85"/><circle cx="1797.9" cy="1647.9" r="4.85"/><circle cx="1783.2" cy="1657.8" r="4.85"/><circle cx="1783.8" cy="1677.0" r="4.85"/><circle cx="1726.2" cy="1762.3" r="4.85"/><circle cx="1697.3" cy="1757.5" r="4.85"/><circle cx="1677.5" cy="1764.6" r="4.85"/><circle cx="1640.9" cy="1771.3" r="4.85"/><circle cx="1648.0" cy="1778.3" r="4.85"/><circle cx="1657.6" cy="1779.3" r="4.85"/><circle cx="1744.1" cy="1744.7" r="4.85"/><circle cx="1735.1" cy="1739.2" r="4.85"/><circle cx="1758.8" cy="1711.0" r="4.85"/><circle cx="1754.4" cy="1696.3" r="4.85"/><circle cx="1683.9" cy="1745.3" r="4.85"/><circle cx="1633.2" cy="1749.5" r="4.85"/><circle cx="1632.0" cy="1738.6" r="4.85"/><circle cx="1634.5" cy="1730.6" r="4.85"/><circle cx="1657.0" cy="1762.3" r="4.85"/><circle cx="1656.3" cy="1755.9" r="4.85"/><circle cx="1651.8" cy="1620.6" r="4.85"/><circle cx="1657.0" cy="1560.0" r="4.85"/><circle cx="1662.1" cy="1573.8" r="4.85"/><circle cx="1669.1" cy="1562.9" r="4.85"/><circle cx="1683.2" cy="1553.6" r="4.85"/><circle cx="1780.0" cy="1590.1" r="4.85"/><circle cx="1774.9" cy="1580.8" r="4.85"/><circle cx="1766.5" cy="1556.5" r="4.85"/><circle cx="1761.4" cy="1568.7" r="4.85"/><circle cx="1758.2" cy="1578.3" r="4.85"/><circle cx="1761.4" cy="1589.5" r="4.85"/><circle cx="1733.9" cy="1574.8" r="4.85"/><circle cx="1748.6" cy="1571.2" r="4.85"/><circle cx="1740.3" cy="1579.9" r="4.85"/><circle cx="1642.2" cy="1671.6" r="4.85"/><circle cx="1714.5" cy="1671.2" r="4.85"/><circle cx="1736.8" cy="1643.0" r="4.85"/><circle cx="1671.4" cy="1670.4" r="4.85"/><circle cx="1667.3" cy="1645.3" r="4.85"/><circle cx="1683.8" cy="1753.0" r="4.85"/><circle cx="1701.9" cy="1735.1" r="4.85"/><circle cx="1738.9" cy="1620.2" r="4.85"/><circle cx="1736.7" cy="1715.3" r="4.85"/><circle cx="1698.7" cy="1724.9" r="4.85"/><circle cx="1750.4" cy="1622.5" r="4.85"/><circle cx="1719.1" cy="1672.1" r="4.85"/><circle cx="1712.6" cy="1664.0" r="4.85"/><circle cx="1683.3" cy="1663.3" r="4.85"/><circle cx="1720.2" cy="1588.1" r="4.85"/><circle cx="1735.3" cy="1612.1" r="4.85"/><circle cx="1703.7" cy="1646.9" r="4.85"/><circle cx="1631.6" cy="1692.7" r="4.85"/><circle cx="1673.3" cy="1721.5" r="4.85"/><circle cx="1749.0" cy="1639.1" r="4.85"/><circle cx="1677.3" cy="1714.8" r="4.85"/><circle cx="1635.9" cy="1696.2" r="4.85"/><circle cx="1732.1" cy="1627.5" r="4.85"/><circle cx="1643.0" cy="1691.0" r="4.85"/><circle cx="1711.9" cy="1625.2" r="4.85"/><circle cx="1732.3" cy="1671.4" r="4.85"/><circle cx="1740.3" cy="1660.3" r="4.85"/><circle cx="1647.8" cy="1644.9" r="4.85"/><circle cx="1703.5" cy="1741.0" r="4.85"/><circle cx="1684.6" cy="1722.5" r="4.85"/><circle cx="1667.1" cy="1672.7" r="4.85"/><circle cx="1723.0" cy="1728.9" r="4.85"/><circle cx="1651.2" cy="1674.5" r="4.85"/><circle cx="1748.0" cy="1698.5" r="4.85"/><circle cx="1721.4" cy="1589.5" r="4.85"/><circle cx="1714.6" cy="1688.4" r="4.85"/><circle cx="1673.9" cy="1628.3" r="4.85"/><circle cx="1728.7" cy="1633.5" r="4.85"/><circle cx="1726.7" cy="1638.2" r="4.85"/><circle cx="1702.1" cy="1583.0" r="4.85"/><circle cx="1702.1" cy="1592.5" r="4.85"/><circle cx="1693.4" cy="1595.9" r="4.85"/><circle cx="1692.0" cy="1665.3" r="4.85"/><circle cx="1738.3" cy="1582.9" r="4.85"/><circle cx="1703.4" cy="1680.3" r="4.85"/><circle cx="1768.8" cy="1671.1" r="4.85"/><circle cx="1720.4" cy="1653.6" r="4.85"/><circle cx="1716.9" cy="1743.8" r="4.85"/><circle cx="1724.9" cy="1640.5" r="4.85"/><circle cx="1726.2" cy="1649.9" r="4.85"/><circle cx="1739.1" cy="1712.5" r="4.85"/><circle cx="1687.3" cy="1687.2" r="4.85"/><circle cx="1652.0" cy="1731.9" r="4.85"/><circle cx="1711.9" cy="1681.4" r="4.85"/><circle cx="1770.1" cy="1643.8" r="4.85"/><circle cx="1674.6" cy="1702.0" r="4.85"/><circle cx="1666.7" cy="1712.7" r="4.85"/><circle cx="1647.9" cy="1695.2" r="4.85"/><circle cx="1642.9" cy="1715.5" r="4.85"/><circle cx="1640.0" cy="1654.9" r="4.85"/><circle cx="1709.6" cy="1604.4" r="4.85"/><circle cx="1634.9" cy="1656.8" r="4.85"/><circle cx="1653.3" cy="1724.1" r="4.85"/><circle cx="1706.4" cy="1588.4" r="4.85"/><circle cx="1651.1" cy="1710.2" r="4.85"/><circle cx="1701.1" cy="1657.0" r="4.85"/><circle cx="1767.6" cy="1692.9" r="4.85"/><circle cx="1681.2" cy="1637.2" r="4.85"/><circle cx="1684.7" cy="1703.6" r="4.85"/><circle cx="1710.5" cy="1719.6" r="4.85"/><circle cx="1721.6" cy="1701.5" r="4.85"/><circle cx="1703.9" cy="1632.0" r="4.85"/><circle cx="1652.2" cy="1736.6" r="4.85"/><circle cx="1662.3" cy="1636.2" r="4.85"/><circle cx="1680.0" cy="1672.0" r="4.85"/><circle cx="1732.4" cy="1634.6" r="4.85"/><circle cx="1657.1" cy="1620.7" r="4.85"/><circle cx="1752.8" cy="1723.0" r="4.85"/><circle cx="1708.5" cy="1619.9" r="4.85"/><circle cx="1652.9" cy="1735.7" r="4.85"/><circle cx="1733.7" cy="1637.6" r="4.85"/><circle cx="1757.6" cy="1615.7" r="4.85"/><circle cx="1675.3" cy="1652.6" r="4.85"/><circle cx="1719.6" cy="1581.4" r="4.85"/><circle cx="1773.7" cy="1650.5" r="4.85"/><circle cx="1696.1" cy="1640.2" r="4.85"/><circle cx="1704.6" cy="1676.6" r="4.85"/><circle cx="1657.2" cy="1735.6" r="4.85"/><circle cx="1709.1" cy="1681.9" r="4.85"/><circle cx="1705.4" cy="1624.2" r="4.85"/><circle cx="1653.9" cy="1718.9" r="4.85"/><circle cx="1745.3" cy="1693.3" r="4.85"/><circle cx="1681.6" cy="1599.3" r="4.85"/><circle cx="1704.4" cy="1654.3" r="4.85"/><circle cx="1718.6" cy="1623.0" r="4.85"/><circle cx="1745.8" cy="1592.8" r="4.85"/><circle cx="1718.5" cy="1741.6" r="4.85"/><circle cx="1734.7" cy="1675.5" r="4.85"/><circle cx="1705.1" cy="1621.0" r="4.85"/><circle cx="1764.5" cy="1624.5" r="4.85"/><circle cx="1644.0" cy="1669.0" r="4.85"/><circle cx="1667.1" cy="1698.7" r="4.85"/><circle cx="1752.3" cy="1688.7" r="4.85"/><circle cx="1762.3" cy="1632.2" r="4.85"/><circle cx="1762.5" cy="1631.6" r="4.85"/><circle cx="1719.3" cy="1654.4" r="4.85"/><circle cx="1645.7" cy="1729.2" r="4.85"/><circle cx="1654.8" cy="1715.1" r="4.85"/><circle cx="1698.7" cy="1716.8" r="4.85"/><circle cx="1660.7" cy="1732.4" r="4.85"/><circle cx="1748.3" cy="1722.8" r="4.85"/><circle cx="1717.8" cy="1599.9" r="4.85"/><circle cx="1661.8" cy="1688.3" r="4.85"/><circle cx="1693.2" cy="1648.0" r="4.85"/><circle cx="1701.8" cy="1651.4" r="4.85"/><circle cx="1728.8" cy="1636.7" r="4.85"/><circle cx="1714.9" cy="1644.1" r="4.85"/><circle cx="1667.4" cy="1633.4" r="4.85"/><circle cx="1739.8" cy="1641.0" r="4.85"/><circle cx="1680.7" cy="1696.9" r="4.85"/><circle cx="1710.1" cy="1599.1" r="4.85"/><circle cx="1709.8" cy="1579.5" r="4.85"/><circle cx="1714.7" cy="1748.4" r="4.85"/><circle cx="1718.8" cy="1749.3" r="4.85"/><circle cx="1756.0" cy="1676.3" r="4.85"/><circle cx="1649.8" cy="1727.6" r="4.85"/><circle cx="1754.5" cy="1684.9" r="4.85"/><circle cx="1742.0" cy="1627.6" r="4.85"/><circle cx="1651.9" cy="1627.0" r="4.85"/><circle cx="1721.4" cy="1734.0" r="4.85"/><circle cx="1691.2" cy="1706.1" r="4.85"/><circle cx="1700.5" cy="1716.2" r="4.85"/><circle cx="1726.0" cy="1699.2" r="4.85"/><circle cx="1674.7" cy="1648.3" r="4.85"/><circle cx="1735.8" cy="1676.2" r="4.85"/><circle cx="1663.8" cy="1623.2" r="4.85"/><circle cx="1690.2" cy="1732.6" r="4.85"/><circle cx="1758.2" cy="1687.1" r="4.85"/><circle cx="1741.4" cy="1680.0" r="4.85"/><circle cx="1708.8" cy="1703.4" r="4.85"/><circle cx="1753.8" cy="1681.2" r="4.85"/><circle cx="1745.8" cy="1691.4" r="4.85"/><circle cx="1693.0" cy="1684.5" r="4.85"/><circle cx="1655.6" cy="1624.0" r="4.85"/><circle cx="1740.6" cy="1606.4" r="4.85"/><circle cx="1655.7" cy="1700.4" r="4.85"/><circle cx="1729.4" cy="1733.8" r="4.85"/><circle cx="1741.2" cy="1688.2" r="4.85"/><circle cx="1763.8" cy="1679.6" r="4.85"/><circle cx="1676.4" cy="1742.0" r="4.85"/><circle cx="1685.7" cy="1743.1" r="4.85"/><circle cx="1746.7" cy="1676.8" r="4.85"/><circle cx="1767.8" cy="1654.1" r="4.85"/><circle cx="1700.3" cy="1670.7" r="4.85"/><circle cx="1760.4" cy="1653.3" r="4.85"/><circle cx="1689.4" cy="1706.7" r="4.85"/><circle cx="1703.5" cy="1649.6" r="4.85"/><circle cx="1694.4" cy="1596.9" r="4.85"/><circle cx="1633.8" cy="1691.5" r="4.85"/><circle cx="1642.5" cy="1703.2" r="4.85"/><circle cx="1678.8" cy="1648.6" r="4.85"/><circle cx="1633.1" cy="1662.0" r="4.85"/><circle cx="1713.8" cy="1606.9" r="4.85"/><circle cx="1739.8" cy="1714.3" r="4.85"/><circle cx="1639.8" cy="1635.9" r="4.85"/><circle cx="1664.6" cy="1620.6" r="4.85"/><circle cx="1710.9" cy="1607.9" r="4.85"/><circle cx="1655.2" cy="1702.3" r="4.85"/><circle cx="1703.9" cy="1680.5" r="4.85"/><circle cx="1725.4" cy="1723.2" r="4.85"/><circle cx="1696.1" cy="1694.0" r="4.85"/><circle cx="1656.3" cy="1633.1" r="4.85"/><circle cx="1694.0" cy="1628.3" r="4.85"/><circle cx="1696.2" cy="1752.1" r="4.85"/><circle cx="1667.6" cy="1745.2" r="4.85"/><circle cx="1654.6" cy="1717.1" r="4.85"/><circle cx="1711.4" cy="1737.9" r="4.85"/><circle cx="1768.2" cy="1659.9" r="4.85"/><circle cx="1715.9" cy="1609.7" r="4.85"/><circle cx="1755.6" cy="1635.2" r="4.85"/><circle cx="1709.8" cy="1752.0" r="4.85"/><circle cx="1655.5" cy="1617.8" r="4.85"/><circle cx="1724.0" cy="1631.4" r="4.85"/><circle cx="1699.7" cy="1685.5" r="4.85"/><circle cx="1744.0" cy="1618.6" r="4.85"/><circle cx="1705.6" cy="1756.1" r="4.85"/><circle cx="1693.9" cy="1713.1" r="4.85"/><circle cx="1641.3" cy="1676.4" r="4.85"/><circle cx="1672.7" cy="1607.7" r="4.85"/><circle cx="1651.6" cy="1669.1" r="4.85"/><circle cx="1681.9" cy="1756.0" r="4.85"/><circle cx="1643.7" cy="1666.4" r="4.85"/><circle cx="1658.0" cy="1619.4" r="4.85"/><circle cx="1724.2" cy="1629.4" r="4.85"/><circle cx="1708.7" cy="1712.0" r="4.85"/><circle cx="1702.4" cy="1748.9" r="4.85"/><circle cx="1635.4" cy="1673.9" r="4.85"/><circle cx="1641.8" cy="1710.0" r="4.85"/><circle cx="1741.1" cy="1674.0" r="4.85"/><circle cx="1729.1" cy="1705.1" r="4.85"/><circle cx="1720.6" cy="1716.2" r="4.85"/><circle cx="1689.7" cy="1705.9" r="4.85"/><circle cx="1731.5" cy="1607.7" r="4.85"/><circle cx="1726.6" cy="1718.4" r="4.85"/><circle cx="1640.5" cy="1645.4" r="4.85"/><circle cx="1690.3" cy="1695.2" r="4.85"/><circle cx="1659.0" cy="1631.1" r="4.85"/><circle cx="1657.6" cy="1676.3" r="4.85"/><circle cx="1674.3" cy="1721.9" r="4.85"/><circle cx="1740.5" cy="1706.6" r="4.85"/><circle cx="1721.9" cy="1647.1" r="4.85"/><circle cx="1646.6" cy="1635.2" r="4.85"/><circle cx="1682.7" cy="1619.8" r="4.85"/><circle cx="1673.4" cy="1746.5" r="4.85"/><circle cx="1763.8" cy="1608.5" r="4.85"/><circle cx="1664.4" cy="1716.8" r="4.85"/><circle cx="1745.1" cy="1624.0" r="4.85"/><circle cx="1662.4" cy="1642.3" r="4.85"/><circle cx="1684.4" cy="1590.5" r="4.85"/><circle cx="1710.8" cy="1725.6" r="4.85"/><circle cx="1737.7" cy="1612.3" r="4.85"/><circle cx="1655.6" cy="1700.2" r="4.85"/><circle cx="1749.2" cy="1660.4" r="4.85"/><circle cx="1682.8" cy="1736.9" r="4.85"/><circle cx="1742.0" cy="1592.1" r="4.85"/><circle cx="1691.4" cy="1691.8" r="4.85"/><circle cx="1725.1" cy="1580.2" r="4.85"/><circle cx="1647.7" cy="1622.2" r="4.85"/><circle cx="1746.4" cy="1622.2" r="4.85"/><circle cx="1747.1" cy="1644.0" r="4.85"/><circle cx="1751.3" cy="1641.7" r="4.85"/><circle cx="1636.9" cy="1659.2" r="4.85"/><circle cx="1773.5" cy="1676.9" r="4.85"/><circle cx="1632.7" cy="1700.3" r="4.85"/><circle cx="1715.8" cy="1708.4" r="4.85"/><circle cx="1673.1" cy="1617.2" r="4.85"/><circle cx="1665.9" cy="1731.6" r="4.85"/><circle cx="1674.5" cy="1727.8" r="4.85"/><circle cx="1737.7" cy="1594.9" r="4.85"/><circle cx="1663.1" cy="1611.1" r="4.85"/><circle cx="1755.4" cy="1674.6" r="4.85"/><circle cx="1688.0" cy="1601.8" r="4.85"/><circle cx="1670.1" cy="1640.7" r="4.85"/><circle cx="1769.2" cy="1641.4" r="4.85"/><circle cx="1666.2" cy="1666.3" r="4.85"/><circle cx="1713.7" cy="1668.4" r="4.85"/><circle cx="1730.3" cy="1700.0" r="4.85"/><circle cx="1674.5" cy="1753.7" r="4.85"/><circle cx="1713.0" cy="1719.3" r="4.85"/><circle cx="1650.7" cy="1671.3" r="4.85"/><circle cx="1685.3" cy="1702.8" r="4.85"/><circle cx="1680.7" cy="1629.5" r="4.85"/><circle cx="1678.8" cy="1759.1" r="4.85"/><circle cx="1663.6" cy="1672.8" r="4.85"/><circle cx="1693.0" cy="1611.5" r="4.85"/><circle cx="1684.3" cy="1646.4" r="4.85"/><circle cx="1661.7" cy="1692.8" r="4.85"/><circle cx="1681.2" cy="1666.7" r="4.85"/><circle cx="1695.9" cy="1663.2" r="4.85"/><circle cx="1697.5" cy="1719.9" r="4.85"/><circle cx="1668.1" cy="1589.9" r="4.85"/><circle cx="1657.5" cy="1651.8" r="4.85"/><circle cx="1680.5" cy="1684.4" r="4.85"/><circle cx="1695.8" cy="1601.1" r="4.85"/><circle cx="1678.7" cy="1609.4" r="4.85"/><circle cx="1664.5" cy="1660.9" r="4.85"/><circle cx="1706.7" cy="1678.6" r="4.85"/><circle cx="1694.4" cy="1650.3" r="4.85"/><circle cx="1685.3" cy="1581.8" r="4.85"/><circle cx="1672.0" cy="1687.5" r="4.85"/><circle cx="1672.3" cy="1659.3" r="4.85"/><circle cx="1704.4" cy="1660.4" r="4.85"/><circle cx="1665.9" cy="1651.9" r="4.85"/><circle cx="1697.3" cy="1716.7" r="4.85"/><circle cx="1698.3" cy="1705.2" r="4.85"/><circle cx="1713.6" cy="1690.7" r="4.85"/><circle cx="1654.3" cy="1642.4" r="4.85"/><circle cx="1682.8" cy="1653.3" r="4.85"/><circle cx="1701.4" cy="1662.5" r="4.85"/><circle cx="1678.7" cy="1633.8" r="4.85"/><circle cx="1679.2" cy="1676.3" r="4.85"/><circle cx="1672.9" cy="1700.4" r="4.85"/><circle cx="1702.4" cy="1652.9" r="4.85"/><circle cx="1680.7" cy="1687.7" r="4.85"/><circle cx="1670.5" cy="1742.7" r="4.85"/><circle cx="1688.1" cy="1587.2" r="4.85"/><circle cx="1680.6" cy="1633.0" r="4.85"/><circle cx="1675.5" cy="1687.5" r="4.85"/><circle cx="1655.7" cy="1648.9" r="4.85"/><circle cx="1677.7" cy="1654.2" r="4.85"/><circle cx="1683.5" cy="1722.1" r="4.85"/><circle cx="1684.1" cy="1633.8" r="4.85"/><circle cx="1686.5" cy="1624.0" r="4.85"/><circle cx="1698.3" cy="1704.5" r="4.85"/><circle cx="1684.8" cy="1716.0" r="4.85"/><circle cx="1668.7" cy="1653.2" r="4.85"/><circle cx="1705.4" cy="1632.3" r="4.85"/><circle cx="1678.0" cy="1660.0" r="4.85"/><circle cx="1655.2" cy="1614.0" r="4.85"/><circle cx="1667.5" cy="1697.8" r="4.85"/><circle cx="1710.7" cy="1640.8" r="4.85"/><circle cx="1670.2" cy="1677.1" r="4.85"/><circle cx="1661.8" cy="1722.3" r="4.85"/><circle cx="1694.3" cy="1584.7" r="4.85"/><circle cx="1680.8" cy="1617.1" r="4.85"/><circle cx="1669.4" cy="1672.3" r="4.85"/><circle cx="1686.4" cy="1655.0" r="4.85"/><circle cx="1718.6" cy="1717.9" r="4.85"/><circle cx="1700.8" cy="1653.8" r="4.85"/><circle cx="1660.5" cy="1696.9" r="4.85"/><circle cx="1656.6" cy="1700.1" r="4.85"/><circle cx="1681.3" cy="1661.9" r="4.85"/><circle cx="1721.1" cy="1712.3" r="4.85"/><circle cx="1673.6" cy="1610.2" r="4.85"/><circle cx="1677.6" cy="1677.5" r="4.85"/><circle cx="1667.7" cy="1662.7" r="4.85"/><circle cx="1678.8" cy="1694.5" r="4.85"/><circle cx="1657.2" cy="1686.6" r="4.85"/><circle cx="1643.6" cy="1710.5" r="4.85"/><circle cx="1704.2" cy="1628.7" r="4.85"/><circle cx="1671.3" cy="1667.0" r="4.85"/><circle cx="1696.9" cy="1677.2" r="4.85"/><circle cx="1669.4" cy="1688.5" r="4.85"/><circle cx="1707.4" cy="1616.6" r="4.85"/><circle cx="1705.8" cy="1629.6" r="4.85"/><circle cx="1694.4" cy="1668.8" r="4.85"/><circle cx="1696.9" cy="1651.4" r="4.85"/><circle cx="1731.5" cy="1585.4" r="4.85"/><circle cx="1689.8" cy="1652.0" r="4.85"/><circle cx="1750.2" cy="1620.3" r="4.85"/><circle cx="1674.3" cy="1676.9" r="4.85"/><circle cx="1700.9" cy="1660.5" r="4.85"/><circle cx="1676.2" cy="1601.4" r="4.85"/><circle cx="1684.1" cy="1692.1" r="4.85"/><circle cx="1695.6" cy="1663.6" r="4.85"/><circle cx="1688.7" cy="1644.7" r="4.85"/><circle cx="1685.7" cy="1614.6" r="4.85"/><circle cx="1642.7" cy="1643.7" r="4.85"/><circle cx="1689.4" cy="1702.3" r="4.85"/><circle cx="1658.1" cy="1664.7" r="4.85"/><circle cx="1700.5" cy="1669.3" r="4.85"/><circle cx="1670.4" cy="1660.5" r="4.85"/><circle cx="1708.2" cy="1698.7" r="4.85"/><circle cx="1665.5" cy="1725.0" r="4.85"/><circle cx="1654.5" cy="1627.0" r="4.85"/><circle cx="1680.9" cy="1665.9" r="4.85"/><circle cx="1665.6" cy="1721.9" r="4.85"/><circle cx="1659.3" cy="1690.8" r="4.85"/><circle cx="1675.5" cy="1670.9" r="4.85"/><circle cx="1645.0" cy="1700.4" r="4.85"/><circle cx="1695.4" cy="1660.7" r="4.85"/><circle cx="1661.4" cy="1675.0" r="4.85"/><circle cx="1676.2" cy="1686.7" r="4.85"/><circle cx="1663.4" cy="1697.4" r="4.85"/><circle cx="1686.4" cy="1715.0" r="4.85"/><circle cx="1674.4" cy="1695.0" r="4.85"/><circle cx="1696.3" cy="1680.8" r="4.85"/><circle cx="1667.8" cy="1690.9" r="4.85"/><circle cx="1699.1" cy="1709.3" r="4.85"/><circle cx="1641.0" cy="1712.3" r="4.85"/><circle cx="1696.4" cy="1681.5" r="4.85"/><circle cx="1679.2" cy="1636.3" r="4.85"/><circle cx="1681.2" cy="1638.0" r="4.85"/><circle cx="1706.2" cy="1624.6" r="4.85"/><circle cx="1654.2" cy="1622.5" r="4.85"/><circle cx="1697.0" cy="1662.1" r="4.85"/><circle cx="1718.3" cy="1677.1" r="4.85"/><circle cx="1731.7" cy="1660.1" r="4.85"/><circle cx="1701.8" cy="1695.6" r="4.85"/><circle cx="1691.2" cy="1669.2" r="4.85"/><circle cx="1656.5" cy="1660.2" r="4.85"/><circle cx="1685.7" cy="1712.0" r="4.85"/><circle cx="1692.8" cy="1596.9" r="4.85"/><circle cx="1653.1" cy="1675.0" r="4.85"/><circle cx="1736.5" cy="1649.1" r="4.85"/><circle cx="1736.3" cy="1638.7" r="4.85"/><circle cx="1665.5" cy="1698.3" r="4.85"/><circle cx="1667.3" cy="1701.3" r="4.85"/><circle cx="1713.3" cy="1685.4" r="4.85"/><circle cx="1700.9" cy="1659.9" r="4.85"/><circle cx="1666.2" cy="1614.7" r="4.85"/><circle cx="1673.1" cy="1639.0" r="4.85"/><circle cx="1703.8" cy="1677.9" r="4.85"/><circle cx="1673.6" cy="1645.9" r="4.85"/><circle cx="1693.7" cy="1663.1" r="4.85"/><circle cx="1690.5" cy="1609.6" r="4.85"/><circle cx="1699.0" cy="1672.4" r="4.85"/><circle cx="1684.3" cy="1663.6" r="4.85"/><circle cx="1720.3" cy="1665.9" r="4.85"/><circle cx="1702.6" cy="1701.7" r="4.85"/><circle cx="1663.7" cy="1671.9" r="4.85"/><circle cx="1667.5" cy="1636.9" r="4.85"/><circle cx="1686.9" cy="1630.6" r="4.85"/><circle cx="1702.6" cy="1676.9" r="4.85"/><circle cx="1658.7" cy="1676.2" r="4.85"/><circle cx="1640.1" cy="1678.0" r="4.85"/><circle cx="1662.1" cy="1717.2" r="4.85"/><circle cx="1709.7" cy="1687.7" r="4.85"/><circle cx="1670.7" cy="1733.9" r="4.85"/><circle cx="1657.9" cy="1646.8" r="4.85"/><circle cx="1677.4" cy="1596.4" r="4.85"/><circle cx="1689.9" cy="1701.6" r="4.85"/><circle cx="1651.8" cy="1744.1" r="4.85"/><circle cx="1670.4" cy="1627.0" r="4.85"/><circle cx="1697.1" cy="1693.6" r="4.85"/><circle cx="1691.9" cy="1653.5" r="4.85"/><circle cx="1696.3" cy="1646.3" r="4.85"/><circle cx="1709.7" cy="1639.0" r="4.85"/><circle cx="1682.1" cy="1661.8" r="4.85"/><circle cx="1685.7" cy="1663.1" r="4.85"/><circle cx="1683.1" cy="1675.3" r="4.85"/><circle cx="1654.8" cy="1623.7" r="4.85"/><circle cx="1688.0" cy="1690.8" r="4.85"/><circle cx="1718.0" cy="1653.5" r="4.85"/><circle cx="1656.0" cy="1736.1" r="4.85"/><circle cx="1669.2" cy="1724.8" r="4.85"/><circle cx="1659.4" cy="1707.2" r="4.85"/><circle cx="1673.7" cy="1680.7" r="4.85"/><circle cx="1681.1" cy="1610.3" r="4.85"/><circle cx="1691.0" cy="1673.4" r="4.85"/><circle cx="1686.9" cy="1637.5" r="4.85"/><circle cx="1644.0" cy="1702.4" r="4.85"/><circle cx="1706.6" cy="1588.9" r="4.85"/><circle cx="1674.4" cy="1667.1" r="4.85"/><circle cx="1662.8" cy="1674.4" r="4.85"/><circle cx="1647.3" cy="1629.5" r="4.85"/><circle cx="1696.4" cy="1658.3" r="4.85"/><circle cx="1663.5" cy="1680.1" r="4.85"/><circle cx="1651.4" cy="1670.7" r="4.85"/><circle cx="1672.5" cy="1665.0" r="4.85"/><circle cx="1674.4" cy="1672.3" r="4.85"/></g>
<path d="M1626.20,1458.70 V1779.30 M1612.70,1779.30 H1948.30" stroke="#000" stroke-width="3.2" fill="none"/>
<text transform="translate(1594.21,1788.70) scale(0.9400,1)" font-size="25.80" font-weight="bold" font-style="normal" fill="#000" stroke="#000" stroke-width="0.12">0</text>
<path d="M1612.70,1715.18 H1626.20" stroke="#000" stroke-width="3.2"/>
<text transform="translate(1580.75,1724.58) scale(0.9400,1)" font-size="25.80" font-weight="bold" font-style="normal" fill="#000" stroke="#000" stroke-width="0.12">20</text>
<path d="M1612.70,1651.06 H1626.20" stroke="#000" stroke-width="3.2"/>
<text transform="translate(1580.75,1660.46) scale(0.9400,1)" font-size="25.80" font-weight="bold" font-style="normal" fill="#000" stroke="#000" stroke-width="0.12">40</text>
<path d="M1612.70,1586.94 H1626.20" stroke="#000" stroke-width="3.2"/>
<text transform="translate(1580.75,1596.34) scale(0.9400,1)" font-size="25.80" font-weight="bold" font-style="normal" fill="#000" stroke="#000" stroke-width="0.12">60</text>
<path d="M1612.70,1522.82 H1626.20" stroke="#000" stroke-width="3.2"/>
<text transform="translate(1580.75,1532.22) scale(0.9400,1)" font-size="25.80" font-weight="bold" font-style="normal" fill="#000" stroke="#000" stroke-width="0.12">80</text>
<path d="M1612.70,1458.70 H1626.20" stroke="#000" stroke-width="3.2"/>
<text transform="translate(1567.23,1468.10) scale(0.9400,1)" font-size="25.80" font-weight="bold" font-style="normal" fill="#000" stroke="#000" stroke-width="0.12">100</text>
<path d="M1626.20,1779.30 V1793.30" stroke="#000" stroke-width="3.2"/>
<text transform="translate(1609.52,1820.70) scale(0.9300,1)" font-size="25.80" font-weight="bold" font-style="normal" fill="#000" stroke="#000" stroke-width="0.12">0.0</text>
<path d="M1690.28,1779.30 V1793.30" stroke="#000" stroke-width="3.2"/>
<text transform="translate(1673.45,1820.70) scale(0.9300,1)" font-size="25.80" font-weight="bold" font-style="normal" fill="#000" stroke="#000" stroke-width="0.12">0.1</text>
<path d="M1754.36,1779.30 V1793.30" stroke="#000" stroke-width="3.2"/>
<text transform="translate(1737.65,1820.70) scale(0.9300,1)" font-size="25.80" font-weight="bold" font-style="normal" fill="#000" stroke="#000" stroke-width="0.12">0.2</text>
<path d="M1818.44,1779.30 V1793.30" stroke="#000" stroke-width="3.2"/>
<text transform="translate(1801.70,1820.70) scale(0.9300,1)" font-size="25.80" font-weight="bold" font-style="normal" fill="#000" stroke="#000" stroke-width="0.12">0.3</text>
<path d="M1882.52,1779.30 V1793.30" stroke="#000" stroke-width="3.2"/>
<text transform="translate(1865.42,1820.70) scale(0.9300,1)" font-size="25.80" font-weight="bold" font-style="normal" fill="#000" stroke="#000" stroke-width="0.12">0.4</text>
<path d="M1946.60,1779.30 V1793.30" stroke="#000" stroke-width="3.2"/>
<text transform="translate(1929.77,1820.70) scale(0.9300,1)" font-size="25.80" font-weight="bold" font-style="normal" fill="#000" stroke="#000" stroke-width="0.12">0.5</text>
<text transform="translate(1552.40,1731.43) rotate(-90) scale(0.9294,1)" font-size="27.76" font-weight="normal" font-style="normal" fill="#000" stroke="#000" stroke-width="0.35">KLF5 activity Score</text>
<text transform="translate(1816.63,1479.30) scale(0.9550,1)" font-size="20.40" font-weight="normal" font-style="normal" fill="#0000ff" stroke="#0000ff" stroke-width="0.35">r = 0.370</text>
<text transform="translate(1817.85,1500.30) scale(0.9569,1)" font-size="19.80" font-weight="normal" font-style="normal" fill="#0000ff" stroke="#0000ff" stroke-width="0.35">Adj p-val = 2.08e-17</text>
<text transform="translate(177.45,1334.00) scale(0.9658,1)" font-size="25.87" fill="#000" stroke="#000" stroke-width="0.35" xml:space="preserve"><tspan font-weight="normal" font-style="italic">AR</tspan><tspan font-weight="normal" font-style="normal"> Expression</tspan></text>
<text transform="translate(673.76,1334.00) scale(0.9734,1)" font-size="25.87" fill="#000" stroke="#000" stroke-width="0.35" xml:space="preserve"><tspan font-weight="normal" font-style="italic">AR</tspan><tspan font-weight="normal" font-style="normal"> Expression</tspan></text>
<text transform="translate(1164.38,1343.10) scale(0.9875,1)" font-size="25.87" fill="#000" stroke="#000" stroke-width="0.35" xml:space="preserve"><tspan font-weight="normal" font-style="italic">AR</tspan><tspan font-weight="normal" font-style="normal"> Expression</tspan></text>
<text transform="translate(1702.59,1343.60) scale(0.9957,1)" font-size="25.87" fill="#000" stroke="#000" stroke-width="0.35" xml:space="preserve"><tspan font-weight="normal" font-style="italic">AR</tspan><tspan font-weight="normal" font-style="normal"> Expression</tspan></text>
<text transform="translate(152.72,1855.10) scale(0.9686,1)" font-size="25.87" fill="#000" stroke="#000" stroke-width="0.35" xml:space="preserve"><tspan font-weight="normal" font-style="italic">CREB5</tspan><tspan font-weight="normal" font-style="normal"> Expression</tspan></text>
<text transform="translate(648.51,1855.10) scale(0.9741,1)" font-size="25.87" fill="#000" stroke="#000" stroke-width="0.35" xml:space="preserve"><tspan font-weight="normal" font-style="italic">CREB5</tspan><tspan font-weight="normal" font-style="normal"> Expression</tspan></text>
<text transform="translate(1136.57,1856.30) scale(1.0016,1)" font-size="25.87" fill="#000" stroke="#000" stroke-width="0.35" xml:space="preserve"><tspan font-weight="normal" font-style="italic">CREB5</tspan><tspan font-weight="normal" font-style="normal"> Expression</tspan></text>
<text transform="translate(1675.98,1856.60) scale(0.9975,1)" font-size="25.87" fill="#000" stroke="#000" stroke-width="0.35" xml:space="preserve"><tspan font-weight="normal" font-style="italic">CREB5</tspan><tspan font-weight="normal" font-style="normal"> Expression</tspan></text></svg></body></html>
